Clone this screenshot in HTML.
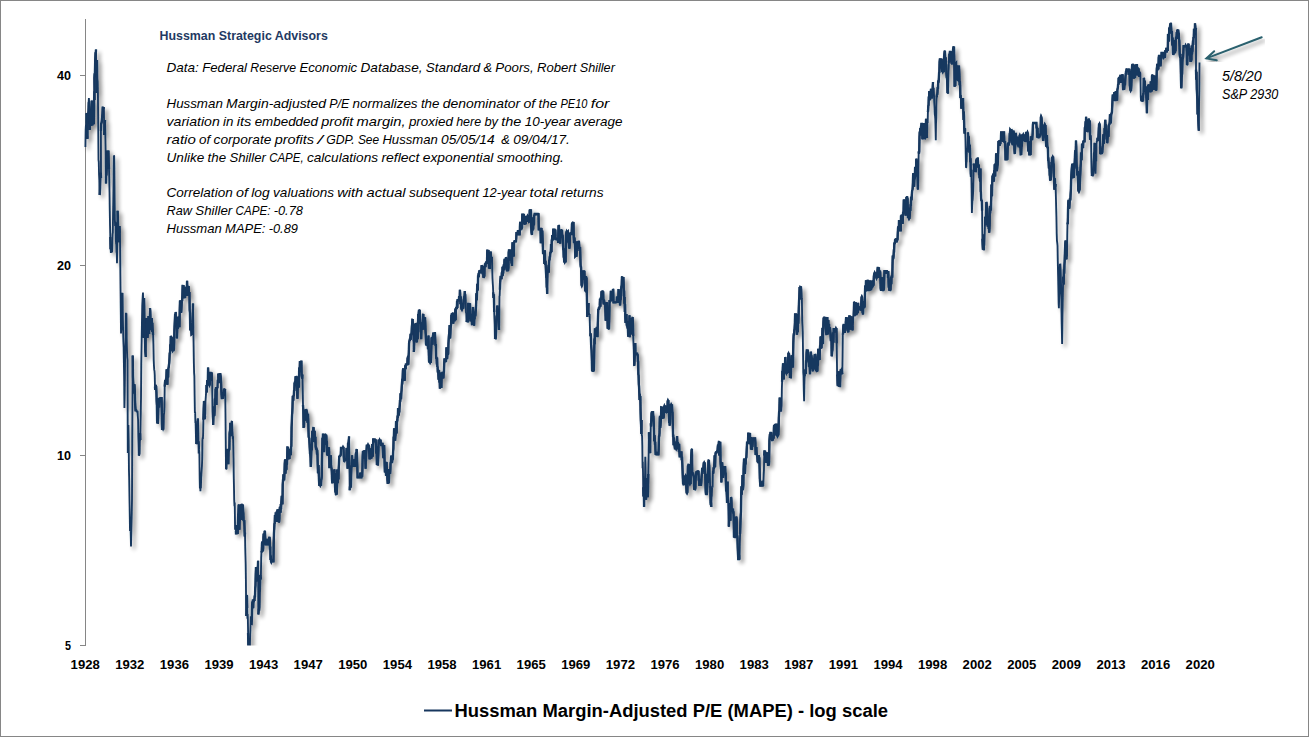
<!DOCTYPE html>
<html><head><meta charset="utf-8"><title>Hussman MAPE</title>
<style>
html,body{margin:0;padding:0;background:#fff;}
body{width:1309px;height:737px;overflow:hidden;font-family:"Liberation Sans",sans-serif;}
svg{display:block;}
svg text{font-family:"Liberation Sans",sans-serif;}
</style></head><body>
<svg width="1309" height="737" viewBox="0 0 1309 737">
<defs>
<filter id="sh" x="-5%" y="-5%" width="110%" height="110%">
<feGaussianBlur in="SourceAlpha" stdDeviation="2.1" result="b"/>
<feOffset in="b" dx="2.8" dy="2.8" result="o"/>
<feComponentTransfer in="o" result="s"><feFuncA type="linear" slope="0.44"/></feComponentTransfer>
<feMerge><feMergeNode in="s"/><feMergeNode in="SourceGraphic"/></feMerge>
</filter>
<clipPath id="plot"><rect x="80" y="10" width="1200" height="635.5"/></clipPath>
</defs>
<rect x="0" y="0" width="1309" height="737" fill="#ffffff"/>
<rect x="0.5" y="0.5" width="1308" height="736" fill="none" stroke="#868686" stroke-width="1"/>
<rect x="85" y="19" width="1" height="627" fill="#868686"/>
<g font-size="12" font-weight="bold" fill="#000"><text x="71" y="79.6" text-anchor="end" textLength="14.0" lengthAdjust="spacingAndGlyphs">40</text><rect x="80" y="75" width="6" height="1" fill="#868686"/><text x="71" y="269.6" text-anchor="end" textLength="14.0" lengthAdjust="spacingAndGlyphs">20</text><rect x="80" y="265" width="6" height="1" fill="#868686"/><text x="71" y="459.6" text-anchor="end" textLength="14.0" lengthAdjust="spacingAndGlyphs">10</text><rect x="80" y="455" width="6" height="1" fill="#868686"/><text x="71" y="649.6" text-anchor="end" textLength="6.0" lengthAdjust="spacingAndGlyphs">5</text><rect x="80" y="645" width="6" height="1" fill="#868686"/></g>
<g font-size="12" font-weight="bold" fill="#000"><text x="85.2" y="668.7" text-anchor="middle" textLength="29.2" lengthAdjust="spacingAndGlyphs">1928</text><text x="129.8" y="668.7" text-anchor="middle" textLength="29.2" lengthAdjust="spacingAndGlyphs">1932</text><text x="174.4" y="668.7" text-anchor="middle" textLength="29.2" lengthAdjust="spacingAndGlyphs">1936</text><text x="219.0" y="668.7" text-anchor="middle" textLength="29.2" lengthAdjust="spacingAndGlyphs">1939</text><text x="263.6" y="668.7" text-anchor="middle" textLength="29.2" lengthAdjust="spacingAndGlyphs">1943</text><text x="308.2" y="668.7" text-anchor="middle" textLength="29.2" lengthAdjust="spacingAndGlyphs">1947</text><text x="352.8" y="668.7" text-anchor="middle" textLength="29.2" lengthAdjust="spacingAndGlyphs">1950</text><text x="397.4" y="668.7" text-anchor="middle" textLength="29.2" lengthAdjust="spacingAndGlyphs">1954</text><text x="442.0" y="668.7" text-anchor="middle" textLength="29.2" lengthAdjust="spacingAndGlyphs">1958</text><text x="486.6" y="668.7" text-anchor="middle" textLength="29.2" lengthAdjust="spacingAndGlyphs">1961</text><text x="531.2" y="668.7" text-anchor="middle" textLength="29.2" lengthAdjust="spacingAndGlyphs">1965</text><text x="575.8" y="668.7" text-anchor="middle" textLength="29.2" lengthAdjust="spacingAndGlyphs">1969</text><text x="620.4" y="668.7" text-anchor="middle" textLength="29.2" lengthAdjust="spacingAndGlyphs">1972</text><text x="665.0" y="668.7" text-anchor="middle" textLength="29.2" lengthAdjust="spacingAndGlyphs">1976</text><text x="709.6" y="668.7" text-anchor="middle" textLength="29.2" lengthAdjust="spacingAndGlyphs">1980</text><text x="754.2" y="668.7" text-anchor="middle" textLength="29.2" lengthAdjust="spacingAndGlyphs">1983</text><text x="798.8" y="668.7" text-anchor="middle" textLength="29.2" lengthAdjust="spacingAndGlyphs">1987</text><text x="843.4" y="668.7" text-anchor="middle" textLength="29.2" lengthAdjust="spacingAndGlyphs">1991</text><text x="888.0" y="668.7" text-anchor="middle" textLength="29.2" lengthAdjust="spacingAndGlyphs">1994</text><text x="932.6" y="668.7" text-anchor="middle" textLength="29.2" lengthAdjust="spacingAndGlyphs">1998</text><text x="977.2" y="668.7" text-anchor="middle" textLength="29.2" lengthAdjust="spacingAndGlyphs">2002</text><text x="1021.8" y="668.7" text-anchor="middle" textLength="29.2" lengthAdjust="spacingAndGlyphs">2005</text><text x="1066.4" y="668.7" text-anchor="middle" textLength="29.2" lengthAdjust="spacingAndGlyphs">2009</text><text x="1111.0" y="668.7" text-anchor="middle" textLength="29.2" lengthAdjust="spacingAndGlyphs">2013</text><text x="1155.6" y="668.7" text-anchor="middle" textLength="29.2" lengthAdjust="spacingAndGlyphs">2016</text><text x="1200.2" y="668.7" text-anchor="middle" textLength="29.2" lengthAdjust="spacingAndGlyphs">2020</text></g>
<text x="159.5" y="39.9" font-size="12.4" font-weight="bold" fill="#1F3A63" textLength="168.3" lengthAdjust="spacingAndGlyphs">Hussman Strategic Advisors</text>
<g font-size="13.2" font-style="italic" fill="#000"><text x="166.5" y="71.9" textLength="32.4" lengthAdjust="spacingAndGlyphs">Data:</text><text x="202.2" y="71.9" textLength="44.8" lengthAdjust="spacingAndGlyphs">Federal</text><text x="250.3" y="71.9" textLength="45.8" lengthAdjust="spacingAndGlyphs">Reserve</text><text x="299.4" y="71.9" textLength="57.8" lengthAdjust="spacingAndGlyphs">Economic</text><text x="360.5" y="71.9" textLength="62.0" lengthAdjust="spacingAndGlyphs">Database,</text><text x="425.8" y="71.9" textLength="54.3" lengthAdjust="spacingAndGlyphs">Standard</text><text x="483.4" y="71.9" textLength="8.6" lengthAdjust="spacingAndGlyphs">&amp;</text><text x="495.3" y="71.9" textLength="38.4" lengthAdjust="spacingAndGlyphs">Poors,</text><text x="537.0" y="71.9" textLength="39.4" lengthAdjust="spacingAndGlyphs">Robert</text><text x="579.7" y="71.9" textLength="35.2" lengthAdjust="spacingAndGlyphs">Shiller</text><text x="166.5" y="107.9" textLength="56.3" lengthAdjust="spacingAndGlyphs">Hussman</text><text x="226.1" y="107.9" textLength="99.9" lengthAdjust="spacingAndGlyphs">Margin-adjusted</text><text x="329.3" y="107.9" textLength="20.0" lengthAdjust="spacingAndGlyphs">P/E</text><text x="352.6" y="107.9" textLength="65.0" lengthAdjust="spacingAndGlyphs">normalizes</text><text x="420.9" y="107.9" textLength="18.5" lengthAdjust="spacingAndGlyphs">the</text><text x="442.7" y="107.9" textLength="77.5" lengthAdjust="spacingAndGlyphs">denominator</text><text x="523.5" y="107.9" textLength="11.8" lengthAdjust="spacingAndGlyphs">of</text><text x="538.6" y="107.9" textLength="18.6" lengthAdjust="spacingAndGlyphs">the</text><text x="560.5" y="107.9" textLength="26.9" lengthAdjust="spacingAndGlyphs">PE10</text><text x="590.7" y="107.9" textLength="18.8" lengthAdjust="spacingAndGlyphs">for</text><text x="166.5" y="125.8" textLength="53.3" lengthAdjust="spacingAndGlyphs">variation</text><text x="223.1" y="125.8" textLength="10.4" lengthAdjust="spacingAndGlyphs">in</text><text x="236.8" y="125.8" textLength="14.6" lengthAdjust="spacingAndGlyphs">its</text><text x="254.7" y="125.8" textLength="63.2" lengthAdjust="spacingAndGlyphs">embedded</text><text x="321.2" y="125.8" textLength="32.1" lengthAdjust="spacingAndGlyphs">profit</text><text x="356.6" y="125.8" textLength="49.0" lengthAdjust="spacingAndGlyphs">margin,</text><text x="408.9" y="125.8" textLength="44.0" lengthAdjust="spacingAndGlyphs">proxied</text><text x="456.2" y="125.8" textLength="24.9" lengthAdjust="spacingAndGlyphs">here</text><text x="484.4" y="125.8" textLength="13.6" lengthAdjust="spacingAndGlyphs">by</text><text x="501.3" y="125.8" textLength="20.1" lengthAdjust="spacingAndGlyphs">the</text><text x="524.7" y="125.8" textLength="45.8" lengthAdjust="spacingAndGlyphs">10-year</text><text x="573.8" y="125.8" textLength="48.6" lengthAdjust="spacingAndGlyphs">average</text><text x="166.5" y="143.7" textLength="29.3" lengthAdjust="spacingAndGlyphs">ratio</text><text x="199.1" y="143.7" textLength="11.2" lengthAdjust="spacingAndGlyphs">of</text><text x="213.6" y="143.7" textLength="57.8" lengthAdjust="spacingAndGlyphs">corporate</text><text x="274.7" y="143.7" textLength="39.4" lengthAdjust="spacingAndGlyphs">profits</text><text x="317.4" y="143.7" textLength="5.5" lengthAdjust="spacingAndGlyphs">/</text><text x="326.2" y="143.7" textLength="28.4" lengthAdjust="spacingAndGlyphs">GDP.</text><text x="357.9" y="143.7" textLength="21.2" lengthAdjust="spacingAndGlyphs">See</text><text x="382.4" y="143.7" textLength="55.4" lengthAdjust="spacingAndGlyphs">Hussman</text><text x="441.1" y="143.7" textLength="53.6" lengthAdjust="spacingAndGlyphs">05/05/14</text><text x="501.3" y="143.7" textLength="8.6" lengthAdjust="spacingAndGlyphs">&amp;</text><text x="513.2" y="143.7" textLength="56.6" lengthAdjust="spacingAndGlyphs">09/04/17.</text><text x="166.5" y="161.6" textLength="37.8" lengthAdjust="spacingAndGlyphs">Unlike</text><text x="207.6" y="161.6" textLength="18.5" lengthAdjust="spacingAndGlyphs">the</text><text x="229.4" y="161.6" textLength="36.5" lengthAdjust="spacingAndGlyphs">Shiller</text><text x="269.2" y="161.6" textLength="34.4" lengthAdjust="spacingAndGlyphs">CAPE,</text><text x="306.9" y="161.6" textLength="71.2" lengthAdjust="spacingAndGlyphs">calculations</text><text x="381.4" y="161.6" textLength="38.1" lengthAdjust="spacingAndGlyphs">reflect</text><text x="422.8" y="161.6" textLength="70.6" lengthAdjust="spacingAndGlyphs">exponential</text><text x="496.7" y="161.6" textLength="67.2" lengthAdjust="spacingAndGlyphs">smoothing.</text><text x="166.5" y="197.3" textLength="66.2" lengthAdjust="spacingAndGlyphs">Correlation</text><text x="236.0" y="197.3" textLength="12.0" lengthAdjust="spacingAndGlyphs">of</text><text x="251.3" y="197.3" textLength="18.5" lengthAdjust="spacingAndGlyphs">log</text><text x="273.1" y="197.3" textLength="60.9" lengthAdjust="spacingAndGlyphs">valuations</text><text x="337.3" y="197.3" textLength="25.9" lengthAdjust="spacingAndGlyphs">with</text><text x="366.5" y="197.3" textLength="39.1" lengthAdjust="spacingAndGlyphs">actual</text><text x="408.9" y="197.3" textLength="70.2" lengthAdjust="spacingAndGlyphs">subsequent</text><text x="482.4" y="197.3" textLength="43.8" lengthAdjust="spacingAndGlyphs">12-year</text><text x="529.5" y="197.3" textLength="28.1" lengthAdjust="spacingAndGlyphs">total</text><text x="560.9" y="197.3" textLength="42.7" lengthAdjust="spacingAndGlyphs">returns</text><text x="166.5" y="215.2" textLength="25.5" lengthAdjust="spacingAndGlyphs">Raw</text><text x="195.3" y="215.2" textLength="37.0" lengthAdjust="spacingAndGlyphs">Shiller</text><text x="235.6" y="215.2" textLength="34.8" lengthAdjust="spacingAndGlyphs">CAPE:</text><text x="273.7" y="215.2" textLength="29.2" lengthAdjust="spacingAndGlyphs">-0.78</text><text x="166.5" y="233.1" textLength="55.3" lengthAdjust="spacingAndGlyphs">Hussman</text><text x="225.1" y="233.1" textLength="40.3" lengthAdjust="spacingAndGlyphs">MAPE:</text><text x="268.7" y="233.1" textLength="29.2" lengthAdjust="spacingAndGlyphs">-0.89</text></g>
<g clip-path="url(#plot)"><g filter="url(#sh)">
<path d="M85.40,147.0 L85.65,130.6 L85.90,125.4 L86.15,124.5 L86.40,113.0 L86.64,113.6 L86.88,115.5 L87.12,125.0 L87.36,138.9 L87.60,136.5 L87.86,116.4 L88.12,110.3 L88.38,102.6 L88.64,102.3 L88.90,98.1 L89.17,102.9 L89.43,106.5 L89.70,130.0 L89.95,121.7 L90.20,110.0 L90.45,113.7 L90.70,126.0 L90.95,120.6 L91.20,111.9 L91.45,105.1 L91.70,100.6 L91.92,110.4 L92.15,123.1 L92.38,125.4 L92.60,122.0 L92.80,122.4 L93.00,108.0 L93.27,116.0 L93.53,115.0 L93.80,124.2 L94.07,104.3 L94.33,91.3 L94.60,100.0 L94.40,78.0 L94.67,73.2 L94.93,74.6 L95.20,60.9 L95.47,54.4 L95.73,54.6 L96.00,49.5 L96.25,72.2 L96.50,93.0 L96.73,77.9 L96.97,73.8 L97.20,60.0 L97.43,79.0 L97.67,81.3 L97.90,92.0 L98.20,122.7 L98.50,160.0 L98.78,161.8 L99.05,174.9 L99.32,180.1 L99.60,195.0 L99.83,193.2 L100.07,188.0 L100.30,176.4 L100.53,175.6 L100.77,172.7 L101.00,178.0 L100.90,131.0 L101.17,123.8 L101.43,123.1 L101.70,122.0 L101.97,119.4 L102.23,116.3 L102.50,113.0 L102.73,107.7 L102.97,107.7 L103.20,107.7 L103.43,107.7 L103.67,107.7 L103.90,107.1 L104.20,135.0 L104.47,131.5 L104.73,126.0 L105.00,120.0 L105.30,132.9 L105.60,150.0 L105.80,174.1 L106.00,183.5 L106.24,170.2 L106.48,175.5 L106.72,168.7 L106.96,167.1 L107.20,164.7 L107.44,150.6 L107.68,156.9 L107.92,160.9 L108.16,153.7 L108.40,150.5 L108.70,163.3 L109.00,169.0 L109.26,178.8 L109.52,192.0 L109.78,210.4 L110.04,226.0 L110.30,237.0 L110.56,249.2 L110.81,246.5 L111.07,251.7 L111.33,251.7 L111.59,251.7 L111.84,251.7 L112.10,252.3 L112.34,242.1 L112.58,233.9 L112.82,232.8 L113.06,213.9 L113.30,202.0 L113.60,181.5 L113.90,155.4 L114.14,156.0 L114.38,170.4 L114.62,199.5 L114.86,219.5 L115.10,226.0 L115.34,222.2 L115.57,222.8 L115.81,239.4 L116.05,242.8 L116.29,242.7 L116.53,252.7 L116.76,251.2 L117.00,263.3 L117.30,236.3 L117.60,210.8 L117.84,218.3 L118.08,230.7 L118.32,237.7 L118.56,242.2 L118.80,231.8 L119.04,229.3 L119.28,227.4 L119.52,226.1 L119.76,232.6 L120.00,232.7 L120.25,262.3 L120.50,286.9 L120.75,308.6 L121.00,333.5 L121.27,328.8 L121.53,327.1 L121.80,316.1 L122.07,306.7 L122.33,293.6 L122.60,293.0 L122.86,317.5 L123.11,330.5 L123.37,341.5 L123.63,347.2 L123.89,362.7 L124.14,378.4 L124.40,408.0 L124.65,397.3 L124.90,379.5 L125.15,350.0 L125.40,347.4 L125.65,336.4 L125.90,312.7 L126.17,317.7 L126.43,313.3 L126.70,338.2 L126.97,349.8 L127.23,357.5 L127.50,360.0 L127.80,453.0 L128.10,432.0 L128.40,425.0 L128.68,439.9 L128.95,469.8 L129.22,480.6 L129.50,500.0 L129.75,514.1 L130.00,531.1 L130.25,528.4 L130.50,523.2 L130.75,534.9 L131.00,546.4 L131.25,534.1 L131.50,523.9 L131.75,513.7 L132.00,500.0 L132.23,444.1 L132.47,401.8 L132.70,355.5 L132.96,376.5 L133.21,382.4 L133.47,388.1 L133.73,387.8 L133.99,393.5 L134.24,384.4 L134.50,385.0 L134.76,390.0 L135.03,400.2 L135.29,406.2 L135.55,410.4 L135.81,410.4 L136.07,410.4 L136.34,410.4 L136.60,411.0 L136.84,411.6 L137.09,411.6 L137.33,411.6 L137.58,411.6 L137.82,416.2 L138.07,419.7 L138.31,436.6 L138.56,444.7 L138.80,455.6 L139.05,455.0 L139.30,453.6 L139.55,437.5 L139.80,440.4 L140.05,433.2 L140.30,440.0 L140.54,423.3 L140.78,411.3 L141.02,397.6 L141.26,364.0 L141.50,350.0 L141.75,334.8 L142.00,319.0 L142.25,305.5 L142.50,300.3 L142.75,296.0 L143.00,292.6 L143.30,311.6 L143.60,338.0 L143.83,312.4 L144.07,302.8 L144.30,298.0 L144.53,305.7 L144.77,320.4 L145.00,335.0 L145.27,350.9 L145.53,354.0 L145.80,357.0 L146.07,333.8 L146.33,328.2 L146.60,318.0 L146.82,321.4 L147.05,327.2 L147.28,332.3 L147.50,338.0 L147.75,335.3 L148.00,331.7 L148.25,321.7 L148.50,316.0 L148.73,328.3 L148.97,332.8 L149.20,334.0 L149.47,323.4 L149.73,314.7 L150.00,308.0 L150.25,310.7 L150.50,319.2 L150.75,328.1 L151.00,330.0 L151.27,327.1 L151.53,322.8 L151.80,318.0 L152.06,331.8 L152.32,322.8 L152.58,328.5 L152.84,331.8 L153.10,335.0 L153.40,343.9 L153.70,360.0 L153.96,365.7 L154.22,369.9 L154.48,370.8 L154.74,375.0 L155.00,386.6 L155.24,389.8 L155.48,387.8 L155.72,384.9 L155.96,387.2 L156.20,387.2 L156.44,393.0 L156.68,401.4 L156.92,405.8 L157.16,421.9 L157.40,423.3 L157.64,422.7 L157.88,422.7 L158.12,417.4 L158.36,404.5 L158.60,398.2 L158.84,400.4 L159.08,407.5 L159.32,398.2 L159.56,402.3 L159.80,397.6 L160.05,399.1 L160.31,399.6 L160.56,401.6 L160.82,398.2 L161.07,398.2 L161.32,398.2 L161.58,398.2 L161.83,412.7 L162.08,428.8 L162.34,428.8 L162.59,428.8 L162.85,428.8 L163.10,429.4 L163.37,428.8 L163.63,428.8 L163.90,414.9 L164.17,412.4 L164.43,407.1 L164.70,386.6 L164.95,382.7 L165.19,380.8 L165.44,380.7 L165.69,381.4 L165.93,378.9 L166.18,380.0 L166.43,375.7 L166.67,369.2 L166.92,379.6 L167.17,381.9 L167.41,384.8 L167.66,373.4 L167.91,372.0 L168.15,377.5 L168.40,368.3 L168.68,367.7 L168.95,364.7 L169.22,363.2 L169.50,358.0 L169.76,352.6 L170.02,354.1 L170.28,344.4 L170.54,348.4 L170.80,336.0 L171.06,336.6 L171.31,341.3 L171.57,337.2 L171.83,338.0 L172.09,347.8 L172.34,350.0 L172.60,350.6 L172.86,350.0 L173.12,350.0 L173.38,350.0 L173.63,350.0 L173.89,348.9 L174.15,342.7 L174.41,330.4 L174.67,324.4 L174.92,318.9 L175.18,313.7 L175.44,317.8 L175.70,312.0 L175.94,312.6 L176.18,325.5 L176.42,326.1 L176.66,331.2 L176.90,338.4 L177.16,332.5 L177.42,322.1 L177.68,316.9 L177.93,328.7 L178.19,321.0 L178.45,316.6 L178.71,321.0 L178.97,322.8 L179.22,324.7 L179.48,327.2 L179.74,310.0 L180.00,300.5 L180.24,301.1 L180.48,303.7 L180.72,312.1 L180.96,312.1 L181.20,312.7 L181.44,308.8 L181.68,303.1 L181.92,300.6 L182.16,301.1 L182.40,294.5 L182.64,285.9 L182.88,285.9 L183.12,285.9 L183.36,285.9 L183.60,285.3 L183.85,292.1 L184.10,297.4 L184.35,297.4 L184.60,297.4 L184.85,297.4 L185.10,298.0 L185.35,291.3 L185.60,294.8 L185.85,289.2 L186.10,286.8 L186.35,288.1 L186.60,296.0 L186.85,288.8 L187.10,280.7 L187.36,290.0 L187.62,285.9 L187.88,292.7 L188.14,292.3 L188.40,295.2 L188.66,286.1 L188.92,294.7 L189.18,294.8 L189.44,292.1 L189.70,310.3 L189.96,313.0 L190.22,329.2 L190.48,329.2 L190.74,329.2 L191.00,329.8 L191.25,329.2 L191.50,334.3 L191.75,334.1 L192.00,334.5 L192.25,324.8 L192.50,322.4 L192.75,315.6 L193.00,303.6 L193.30,325.0 L193.60,345.0 L193.86,362.6 L194.12,373.2 L194.38,376.2 L194.64,396.7 L194.90,413.0 L195.14,411.8 L195.38,422.0 L195.62,422.0 L195.86,432.4 L196.10,444.0 L196.36,443.4 L196.61,443.4 L196.87,442.9 L197.13,432.8 L197.39,428.0 L197.64,422.3 L197.90,418.5 L198.15,426.2 L198.40,436.3 L198.65,453.5 L198.90,441.3 L199.15,449.9 L199.40,454.3 L199.65,476.1 L199.90,488.4 L200.15,482.6 L200.40,491.2 L200.66,484.4 L200.91,488.2 L201.17,477.7 L201.43,473.9 L201.69,469.8 L201.94,466.0 L202.20,458.8 L202.44,440.2 L202.68,437.7 L202.92,438.9 L203.16,432.7 L203.40,419.8 L203.70,409.1 L204.00,401.0 L204.25,403.3 L204.50,406.8 L204.75,419.2 L205.00,416.0 L205.25,413.4 L205.50,401.4 L205.75,397.8 L206.00,393.9 L206.25,388.5 L206.50,385.0 L206.77,392.5 L207.03,386.0 L207.30,380.0 L207.57,384.4 L207.83,384.4 L208.10,367.5 L208.33,376.0 L208.57,375.0 L208.80,384.4 L209.03,384.4 L209.27,384.4 L209.50,385.0 L209.74,384.4 L209.99,377.2 L210.23,376.1 L210.48,373.0 L210.72,373.0 L210.97,373.7 L211.21,379.6 L211.46,379.4 L211.70,372.4 L211.95,374.1 L212.20,385.1 L212.45,411.1 L212.70,417.0 L212.95,420.7 L213.20,425.0 L213.44,416.5 L213.68,408.9 L213.92,406.6 L214.16,415.9 L214.40,415.0 L214.64,410.6 L214.88,398.5 L215.12,399.2 L215.36,398.2 L215.60,388.8 L215.82,389.4 L216.05,387.2 L216.28,397.5 L216.50,405.0 L216.77,399.8 L217.03,390.8 L217.30,386.4 L217.57,379.7 L217.83,388.2 L218.10,373.6 L218.35,374.2 L218.60,378.0 L218.85,375.2 L219.10,382.1 L219.35,382.1 L219.60,382.1 L219.85,379.6 L220.10,374.2 L220.35,374.2 L220.60,375.8 L220.85,379.4 L221.10,382.7 L221.34,390.2 L221.57,395.0 L221.81,398.0 L222.05,398.0 L222.29,398.0 L222.53,398.0 L222.76,398.0 L223.00,398.6 L223.24,396.4 L223.49,392.0 L223.73,395.6 L223.98,390.0 L224.22,389.4 L224.47,389.4 L224.71,389.4 L224.96,389.4 L225.20,388.8 L225.47,412.8 L225.73,438.8 L226.00,469.2 L226.26,468.6 L226.52,457.1 L226.78,461.5 L227.03,456.3 L227.29,448.9 L227.55,460.5 L227.81,454.1 L228.07,462.5 L228.32,464.2 L228.58,451.8 L228.84,450.6 L229.10,450.0 L229.35,449.4 L229.60,433.4 L229.85,431.3 L230.10,430.3 L230.35,422.9 L230.60,436.0 L230.85,434.6 L231.10,432.1 L231.35,430.3 L231.60,425.2 L231.85,421.6 L232.10,421.0 L232.34,429.9 L232.58,433.1 L232.82,439.2 L233.06,436.2 L233.30,446.6 L233.53,458.1 L233.75,476.4 L233.97,486.8 L234.20,500.0 L234.47,506.2 L234.75,502.5 L235.03,524.5 L235.30,529.0 L235.54,529.3 L235.78,525.0 L236.02,533.4 L236.26,533.4 L236.50,533.4 L236.74,533.4 L236.98,533.4 L237.22,533.4 L237.46,533.4 L237.70,534.0 L237.95,523.1 L238.19,515.1 L238.44,512.6 L238.69,505.5 L238.93,504.6 L239.18,520.0 L239.43,529.8 L239.67,520.0 L239.92,519.8 L240.17,517.8 L240.41,514.3 L240.66,519.0 L240.91,514.1 L241.15,509.2 L241.40,504.0 L241.64,504.6 L241.88,513.8 L242.12,519.9 L242.36,511.4 L242.60,509.1 L242.84,504.6 L243.08,510.8 L243.32,513.2 L243.56,520.2 L243.80,520.5 L244.04,521.1 L244.28,521.1 L244.52,527.7 L244.76,536.5 L245.00,532.7 L245.22,546.7 L245.45,555.4 L245.68,564.1 L245.90,580.0 L246.10,602.4 L246.30,616.0 L246.53,608.4 L246.75,595.4 L246.97,595.8 L247.20,608.0 L247.42,618.7 L247.65,614.0 L247.88,619.0 L248.10,633.0 L248.36,645.1 L248.61,646.4 L248.87,646.4 L249.13,646.4 L249.39,646.4 L249.64,646.4 L249.90,647.0 L250.14,635.2 L250.38,629.4 L250.62,620.3 L250.86,616.3 L251.10,620.0 L251.36,622.5 L251.62,622.8 L251.88,618.4 L252.14,605.1 L252.40,601.6 L252.66,605.8 L252.91,599.6 L253.17,608.3 L253.43,601.0 L253.69,601.0 L253.94,601.0 L254.20,599.0 L254.46,601.0 L254.71,595.6 L254.97,597.1 L255.23,588.3 L255.49,585.3 L255.74,574.8 L256.00,567.0 L256.26,570.7 L256.52,581.5 L256.79,572.8 L257.05,570.2 L257.31,574.0 L257.58,566.8 L257.84,569.1 L258.10,560.8 L258.30,614.5 L258.56,612.3 L258.82,608.9 L259.08,610.9 L259.34,607.1 L259.60,592.3 L259.86,590.5 L260.12,576.3 L260.38,575.1 L260.64,579.3 L260.90,577.0 L261.20,557.9 L261.50,551.0 L261.74,552.4 L261.99,543.8 L262.23,541.6 L262.47,551.7 L262.71,549.7 L262.96,550.8 L263.20,548.6 L263.44,537.0 L263.69,533.6 L263.93,536.3 L264.17,537.9 L264.41,536.9 L264.66,531.5 L264.90,530.9 L265.16,535.7 L265.42,542.6 L265.69,544.4 L265.95,544.4 L266.21,543.6 L266.48,544.4 L266.74,544.4 L267.00,545.0 L267.25,543.5 L267.50,538.7 L267.75,542.7 L268.00,544.4 L268.25,544.4 L268.50,542.7 L268.75,543.2 L269.00,541.3 L269.25,537.6 L269.50,537.0 L269.76,539.2 L270.01,549.8 L270.27,546.4 L270.53,559.9 L270.79,555.6 L271.04,561.4 L271.30,562.0 L271.54,561.4 L271.78,561.4 L272.02,561.4 L272.26,561.4 L272.50,561.4 L272.74,561.4 L272.98,559.7 L273.22,561.4 L273.46,561.4 L273.70,543.7 L273.95,533.3 L274.20,529.0 L274.45,523.7 L274.70,523.4 L274.95,515.0 L275.20,521.8 L275.45,520.0 L275.70,514.8 L275.95,515.1 L276.20,514.4 L276.44,513.8 L276.68,511.5 L276.92,519.0 L277.16,521.8 L277.40,509.5 L277.65,510.1 L277.90,510.1 L278.15,510.4 L278.40,513.8 L278.65,519.9 L278.90,522.4 L279.14,521.8 L279.38,518.7 L279.61,510.6 L279.85,507.5 L280.09,507.4 L280.32,507.6 L280.56,512.7 L280.80,504.0 L281.04,509.3 L281.28,503.4 L281.52,499.6 L281.77,495.8 L282.01,503.4 L282.25,503.4 L282.49,503.4 L282.73,484.5 L282.98,480.4 L283.22,480.4 L283.46,474.3 L283.70,479.8 L283.96,479.2 L284.21,479.2 L284.47,474.3 L284.73,463.8 L284.99,460.2 L285.24,459.6 L285.50,473.7 L285.74,469.4 L285.98,463.6 L286.22,470.0 L286.46,469.1 L286.70,459.0 L286.94,464.9 L287.18,459.7 L287.42,447.4 L287.66,447.4 L287.90,446.8 L288.17,451.3 L288.43,458.4 L288.70,458.4 L288.97,458.4 L289.23,458.4 L289.50,459.0 L289.76,449.8 L290.02,450.2 L290.29,449.0 L290.55,450.4 L290.81,455.2 L291.08,447.0 L291.34,446.2 L291.60,427.2 L291.80,422.6 L292.00,416.0 L292.26,412.6 L292.51,406.8 L292.77,397.0 L293.03,397.0 L293.29,400.7 L293.54,395.4 L293.80,396.4 L294.06,390.4 L294.31,390.9 L294.57,382.5 L294.83,383.8 L295.09,381.0 L295.34,381.9 L295.60,376.3 L295.84,376.9 L296.08,376.9 L296.31,376.9 L296.55,385.7 L296.79,383.9 L297.02,389.9 L297.26,395.6 L297.50,398.8 L297.74,385.6 L297.98,385.6 L298.22,376.5 L298.46,382.4 L298.70,385.7 L298.94,387.7 L299.18,367.6 L299.42,369.7 L299.66,372.2 L299.90,361.0 L300.15,368.0 L300.40,368.8 L300.65,367.8 L300.90,363.1 L301.15,361.6 L301.40,361.6 L301.65,375.3 L301.90,377.0 L302.15,378.7 L302.40,374.4 L302.70,389.5 L303.00,405.0 L303.30,410.3 L303.60,428.0 L303.84,423.7 L304.08,427.3 L304.32,416.7 L304.56,420.8 L304.80,418.1 L305.04,420.3 L305.28,417.2 L305.52,409.6 L305.76,414.5 L306.00,409.0 L306.25,410.9 L306.49,409.6 L306.74,412.1 L306.98,412.3 L307.23,417.2 L307.47,422.6 L307.72,420.7 L307.96,413.8 L308.21,419.8 L308.45,429.2 L308.70,437.0 L308.96,437.6 L309.23,438.3 L309.49,443.5 L309.75,448.1 L310.01,453.6 L310.27,453.9 L310.54,458.0 L310.80,467.0 L311.05,462.5 L311.31,451.5 L311.56,449.8 L311.82,450.2 L312.07,436.4 L312.33,430.7 L312.58,433.9 L312.84,431.9 L313.09,431.6 L313.35,427.8 L313.60,427.2 L313.86,441.0 L314.12,441.1 L314.38,437.4 L314.63,430.8 L314.89,438.6 L315.15,440.8 L315.41,436.7 L315.67,446.7 L315.93,448.6 L316.18,448.6 L316.44,448.4 L316.70,449.2 L316.96,454.5 L317.21,449.8 L317.47,454.2 L317.73,465.1 L317.99,473.2 L318.24,469.1 L318.50,465.0 L318.76,472.5 L319.01,480.4 L319.27,484.7 L319.53,484.7 L319.79,484.7 L320.04,484.7 L320.30,485.3 L320.54,484.7 L320.77,484.7 L321.01,484.7 L321.25,479.6 L321.49,479.1 L321.73,476.5 L321.96,461.8 L322.20,451.7 L322.44,437.8 L322.68,445.7 L322.92,434.6 L323.16,434.6 L323.40,441.5 L323.64,448.5 L323.88,451.1 L324.12,451.1 L324.36,442.6 L324.60,434.0 L324.85,434.6 L325.10,434.6 L325.35,444.4 L325.60,434.6 L325.85,436.0 L326.10,434.6 L326.35,436.1 L326.60,445.0 L326.85,441.1 L327.10,455.3 L327.36,453.4 L327.61,454.7 L327.87,454.7 L328.13,453.7 L328.39,448.7 L328.64,448.0 L328.90,447.4 L329.14,451.1 L329.38,467.0 L329.62,467.0 L329.86,467.0 L330.10,467.0 L330.34,466.6 L330.58,459.3 L330.82,455.2 L331.06,464.4 L331.30,467.6 L331.54,468.2 L331.77,470.8 L332.01,479.3 L332.25,482.2 L332.49,482.2 L332.73,482.2 L332.96,482.2 L333.20,482.8 L333.44,481.8 L333.68,475.7 L333.92,472.8 L334.16,471.2 L334.40,469.4 L334.66,472.9 L334.91,474.8 L335.17,489.3 L335.43,492.3 L335.69,490.6 L335.94,494.4 L336.20,495.0 L336.45,490.8 L336.70,494.4 L336.95,486.5 L337.20,469.4 L337.45,472.6 L337.70,483.2 L337.95,474.9 L338.20,472.0 L338.45,479.4 L338.70,468.8 L338.96,463.9 L339.21,456.8 L339.47,456.7 L339.73,455.9 L339.99,455.9 L340.24,455.9 L340.50,455.3 L340.75,454.9 L341.00,448.0 L341.25,448.0 L341.50,448.0 L341.75,448.0 L342.00,448.0 L342.25,448.0 L342.50,448.0 L342.75,448.0 L343.00,447.4 L343.26,448.0 L343.51,448.0 L343.77,456.7 L344.03,459.6 L344.29,459.3 L344.54,459.6 L344.80,460.2 L345.06,459.6 L345.31,459.6 L345.57,459.6 L345.83,459.6 L346.09,459.6 L346.34,459.6 L346.60,448.0 L346.84,448.6 L347.08,449.1 L347.32,454.2 L347.56,468.7 L347.80,458.0 L348.06,442.8 L348.32,443.9 L348.58,442.1 L348.84,439.3 L349.10,436.4 L349.40,463.4 L349.70,490.2 L349.94,486.4 L350.18,488.3 L350.42,483.1 L350.66,481.4 L350.90,487.5 L351.14,475.6 L351.38,466.3 L351.62,466.3 L351.86,460.4 L352.10,455.3 L352.34,465.7 L352.58,465.7 L352.81,463.5 L353.05,465.7 L353.29,465.7 L353.52,465.7 L353.76,465.7 L354.00,466.3 L354.25,459.4 L354.51,465.7 L354.76,465.7 L355.02,465.7 L355.27,465.7 L355.53,461.1 L355.78,454.4 L356.04,452.7 L356.29,465.7 L356.55,449.8 L356.80,449.2 L357.06,460.3 L357.31,467.2 L357.57,477.4 L357.82,477.4 L358.08,477.4 L358.34,477.4 L358.59,477.4 L358.85,477.4 L359.11,477.4 L359.36,477.4 L359.62,477.4 L359.88,477.4 L360.13,473.7 L360.39,472.7 L360.64,475.3 L360.90,478.0 L361.15,477.4 L361.41,477.4 L361.66,473.2 L361.92,473.7 L362.17,476.6 L362.43,468.6 L362.68,456.3 L362.94,451.1 L363.19,453.1 L363.45,458.4 L363.70,450.5 L363.94,451.1 L364.18,451.1 L364.41,455.6 L364.65,451.1 L364.89,451.1 L365.12,451.1 L365.36,461.7 L365.60,468.8 L365.84,457.9 L366.08,458.2 L366.32,453.2 L366.56,449.9 L366.80,445.6 L367.04,445.6 L367.28,445.6 L367.52,445.6 L367.76,445.6 L368.00,445.0 L368.25,445.6 L368.50,445.6 L368.75,445.6 L369.00,446.7 L369.25,452.5 L369.50,458.4 L369.75,458.4 L370.00,458.4 L370.25,456.3 L370.50,459.0 L370.75,448.4 L370.99,458.4 L371.24,457.7 L371.49,458.4 L371.74,451.2 L371.98,449.2 L372.23,444.1 L372.48,453.5 L372.72,456.8 L372.97,450.0 L373.22,439.4 L373.46,439.4 L373.71,439.4 L373.96,439.4 L374.21,439.4 L374.45,439.4 L374.70,438.8 L374.94,439.7 L375.19,440.7 L375.43,442.4 L375.68,439.4 L375.92,445.6 L376.17,453.4 L376.41,446.3 L376.66,452.0 L376.90,465.1 L377.15,464.5 L377.39,464.5 L377.64,464.5 L377.88,464.5 L378.13,459.0 L378.37,451.5 L378.62,440.7 L378.86,440.7 L379.11,440.7 L379.35,440.7 L379.60,440.1 L379.86,440.7 L380.12,440.7 L380.38,440.7 L380.63,440.7 L380.89,443.7 L381.15,445.0 L381.41,445.0 L381.67,445.0 L381.93,445.0 L382.18,445.0 L382.44,442.9 L382.70,445.6 L382.94,450.4 L383.19,456.4 L383.43,458.0 L383.68,451.9 L383.92,446.2 L384.17,446.2 L384.41,454.5 L384.66,465.6 L384.90,472.5 L385.14,470.1 L385.39,469.9 L385.63,470.7 L385.87,471.9 L386.11,475.9 L386.36,462.6 L386.60,462.0 L386.87,469.5 L387.13,471.0 L387.40,479.4 L387.67,482.9 L387.93,482.9 L388.20,483.5 L388.44,482.3 L388.68,482.9 L388.92,482.0 L389.16,468.9 L389.40,470.2 L389.64,473.3 L389.88,472.6 L390.12,473.7 L390.36,469.2 L390.60,462.7 L390.85,462.1 L391.10,457.5 L391.35,455.6 L391.60,462.1 L391.85,462.1 L392.10,462.1 L392.35,460.2 L392.60,457.7 L392.85,459.8 L393.10,451.7 L393.36,448.6 L393.61,437.6 L393.87,437.6 L394.13,428.2 L394.39,431.5 L394.64,439.6 L394.90,437.0 L395.14,440.8 L395.38,436.4 L395.62,435.0 L395.86,430.0 L396.10,421.0 L396.35,428.6 L396.60,433.5 L396.85,425.1 L397.10,420.4 L397.35,420.4 L397.60,415.6 L397.85,418.3 L398.10,408.0 L398.35,415.0 L398.60,415.0 L398.83,414.4 L399.07,411.2 L399.30,412.4 L399.53,407.9 L399.77,405.1 L400.00,400.0 L400.27,401.8 L400.53,393.2 L400.80,394.4 L401.07,399.1 L401.33,392.8 L401.60,390.0 L401.86,384.9 L402.11,381.5 L402.37,381.8 L402.63,378.0 L402.89,370.3 L403.14,369.1 L403.40,368.5 L403.66,372.5 L403.92,379.2 L404.18,368.5 L404.44,380.1 L404.70,380.7 L404.94,372.2 L405.18,366.4 L405.42,366.4 L405.66,369.3 L405.90,363.6 L406.14,364.2 L406.38,364.2 L406.62,364.2 L406.86,364.2 L407.10,364.2 L407.34,364.2 L407.58,357.5 L407.82,363.0 L408.06,355.8 L408.30,364.8 L408.56,357.5 L408.82,352.2 L409.08,343.2 L409.34,341.4 L409.60,340.3 L409.85,340.8 L410.11,338.7 L410.36,337.2 L410.62,333.8 L410.87,339.7 L411.12,335.8 L411.38,334.3 L411.63,332.2 L411.88,326.4 L412.14,324.3 L412.39,319.6 L412.65,319.6 L412.90,319.0 L413.12,323.4 L413.35,340.8 L413.57,341.6 L413.80,352.0 L414.04,349.5 L414.27,339.9 L414.51,332.4 L414.75,332.8 L414.99,327.4 L415.23,323.8 L415.46,327.5 L415.70,323.2 L415.94,323.8 L416.18,323.8 L416.42,335.3 L416.66,341.6 L416.90,342.2 L417.16,327.8 L417.42,329.4 L417.69,339.2 L417.95,329.8 L418.21,314.1 L418.48,316.9 L418.74,312.5 L419.00,309.8 L419.24,310.4 L419.49,310.4 L419.73,310.7 L419.98,319.3 L420.22,323.9 L420.47,322.2 L420.71,331.6 L420.96,332.9 L421.20,339.1 L421.46,327.3 L421.73,326.5 L421.99,326.3 L422.25,329.9 L422.51,324.8 L422.77,322.5 L423.04,314.6 L423.30,314.0 L423.54,320.6 L423.79,329.4 L424.03,328.0 L424.28,320.7 L424.52,321.5 L424.77,321.3 L425.01,317.3 L425.26,322.8 L425.50,330.6 L425.76,334.8 L426.01,344.0 L426.27,345.2 L426.53,343.0 L426.79,340.5 L427.04,339.5 L427.30,345.8 L427.54,345.2 L427.78,345.2 L428.02,349.2 L428.26,339.9 L428.50,335.5 L428.77,352.0 L429.03,361.2 L429.30,361.7 L429.57,361.7 L429.83,361.7 L430.10,362.3 L430.35,361.7 L430.59,361.7 L430.84,361.7 L431.08,356.9 L431.33,346.7 L431.57,337.5 L431.82,338.2 L432.06,337.3 L432.31,342.7 L432.55,344.6 L432.80,336.7 L433.06,335.3 L433.32,332.6 L433.59,333.7 L433.85,336.1 L434.11,332.6 L434.38,334.7 L434.64,335.6 L434.90,332.0 L435.14,336.9 L435.39,344.7 L435.63,345.7 L435.88,344.1 L436.12,356.0 L436.37,359.2 L436.61,358.2 L436.86,364.5 L437.10,357.5 L437.34,366.9 L437.58,366.5 L437.82,372.5 L438.06,369.3 L438.30,373.3 L438.57,379.6 L438.83,378.5 L439.10,370.3 L439.37,382.4 L439.63,378.2 L439.90,388.6 L440.15,383.4 L440.39,372.6 L440.64,382.8 L440.88,378.2 L441.13,381.8 L441.37,388.0 L441.62,377.8 L441.86,376.7 L442.11,372.6 L442.35,373.7 L442.60,372.0 L442.90,372.6 L443.20,378.2 L443.45,377.6 L443.70,372.6 L443.95,372.0 L444.20,364.0 L444.45,359.3 L444.70,359.3 L444.95,359.3 L445.20,359.3 L445.45,360.1 L445.70,361.5 L445.95,362.0 L446.20,358.7 L446.45,347.4 L446.70,351.5 L446.95,358.1 L447.20,358.1 L447.45,353.4 L447.70,349.9 L447.95,354.9 L448.20,353.6 L448.45,343.5 L448.70,339.1 L448.94,334.9 L449.18,334.5 L449.42,329.4 L449.66,325.0 L449.90,335.6 L450.14,338.5 L450.38,333.8 L450.62,328.1 L450.86,326.0 L451.10,324.4 L451.34,314.9 L451.58,321.0 L451.81,313.4 L452.05,314.7 L452.29,319.4 L452.52,316.9 L452.76,313.4 L453.00,312.8 L453.27,323.8 L453.53,319.4 L453.80,320.8 L454.07,320.2 L454.33,320.2 L454.60,320.2 L454.87,317.1 L455.13,313.1 L455.40,308.6 L455.64,320.2 L455.89,309.9 L456.13,308.0 L456.37,308.0 L456.61,308.0 L456.86,308.0 L457.10,300.8 L457.35,308.0 L457.61,300.2 L457.86,300.2 L458.12,300.2 L458.37,300.2 L458.63,300.2 L458.88,300.2 L459.14,296.2 L459.39,299.7 L459.65,300.2 L459.90,289.8 L460.16,292.9 L460.42,304.2 L460.69,300.0 L460.95,296.5 L461.21,307.9 L461.48,308.8 L461.74,308.8 L462.00,309.4 L462.25,308.8 L462.51,303.8 L462.76,303.8 L463.02,305.2 L463.27,308.6 L463.53,304.9 L463.78,299.8 L464.04,298.5 L464.29,296.4 L464.55,296.1 L464.80,291.0 L465.04,293.9 L465.29,294.3 L465.53,294.8 L465.77,300.3 L466.01,312.7 L466.26,313.5 L466.50,322.0 L466.75,321.4 L467.00,321.4 L467.25,321.4 L467.50,321.4 L467.75,321.4 L468.00,321.4 L468.25,303.8 L468.50,303.8 L468.75,305.6 L469.00,318.0 L469.25,309.7 L469.50,309.4 L469.75,310.8 L470.00,303.2 L470.26,316.0 L470.52,320.2 L470.78,320.2 L471.04,319.1 L471.30,320.8 L471.54,320.2 L471.79,320.2 L472.03,325.1 L472.27,313.9 L472.51,316.3 L472.76,313.5 L473.00,307.0 L473.27,313.7 L473.55,316.9 L473.83,321.4 L474.10,325.7 L474.35,314.2 L474.60,319.1 L474.85,311.9 L475.10,315.6 L475.35,316.3 L475.60,312.5 L475.85,309.4 L476.10,305.0 L476.34,294.8 L476.58,294.9 L476.82,300.2 L477.06,291.5 L477.30,283.7 L477.56,288.0 L477.81,290.4 L478.07,276.7 L478.33,276.7 L478.59,273.3 L478.84,276.9 L479.10,271.5 L479.35,272.5 L479.60,270.0 L479.85,270.9 L480.10,270.9 L480.35,270.9 L480.60,270.9 L480.85,270.9 L481.10,270.9 L481.35,273.4 L481.60,265.3 L481.86,265.9 L482.11,267.2 L482.37,265.9 L482.63,269.2 L482.89,274.8 L483.14,271.9 L483.40,277.6 L483.64,277.0 L483.88,277.0 L484.12,276.3 L484.36,276.0 L484.60,267.3 L484.84,265.5 L485.08,263.5 L485.32,264.7 L485.56,267.2 L485.80,262.9 L486.05,262.3 L486.29,262.3 L486.54,262.3 L486.78,262.1 L487.03,262.3 L487.27,250.6 L487.52,250.6 L487.76,250.6 L488.01,250.6 L488.25,250.6 L488.50,250.0 L488.73,264.4 L488.97,268.4 L489.20,257.9 L489.43,263.9 L489.67,263.6 L489.90,269.0 L490.16,264.3 L490.42,256.5 L490.69,251.5 L490.95,258.4 L491.21,260.7 L491.48,257.4 L491.74,257.4 L492.00,256.8 L492.24,269.6 L492.48,278.2 L492.72,282.6 L492.96,286.3 L493.20,292.2 L493.45,297.9 L493.70,296.6 L493.95,296.4 L494.20,312.0 L494.43,319.0 L494.67,324.6 L494.90,339.0 L495.15,338.4 L495.40,338.4 L495.65,338.4 L495.90,335.7 L496.15,328.9 L496.40,319.6 L496.62,315.6 L496.85,318.7 L497.07,311.1 L497.30,305.5 L497.54,310.4 L497.79,316.9 L498.03,318.2 L498.27,319.4 L498.51,318.2 L498.76,319.7 L499.00,330.0 L499.23,323.1 L499.45,296.3 L499.67,295.5 L499.90,289.8 L500.14,282.6 L500.38,279.6 L500.62,276.9 L500.86,276.9 L501.10,276.9 L501.34,276.9 L501.58,279.3 L501.82,273.0 L502.06,272.1 L502.30,276.3 L502.53,266.7 L502.77,275.7 L503.00,271.9 L503.23,273.4 L503.47,266.5 L503.70,265.9 L503.94,264.2 L504.19,270.2 L504.43,260.5 L504.68,258.9 L504.92,265.3 L505.17,260.0 L505.41,260.9 L505.66,262.4 L505.90,257.3 L506.15,257.9 L506.40,261.9 L506.65,268.2 L506.90,270.2 L507.15,270.2 L507.40,261.0 L507.65,260.0 L507.90,270.8 L508.16,270.2 L508.42,267.6 L508.68,252.6 L508.94,250.3 L509.20,250.3 L509.46,250.3 L509.72,250.3 L509.98,250.3 L510.24,250.3 L510.50,249.7 L510.75,260.6 L511.00,252.8 L511.25,258.2 L511.50,263.4 L511.75,255.1 L512.00,266.0 L512.26,249.7 L512.51,242.4 L512.77,247.9 L513.02,251.9 L513.28,249.4 L513.53,253.7 L513.79,256.6 L514.04,243.6 L514.30,241.8 L514.54,241.2 L514.79,241.2 L515.03,241.2 L515.28,241.2 L515.52,241.2 L515.77,241.2 L516.01,241.2 L516.26,238.3 L516.50,232.0 L516.75,233.3 L517.00,234.4 L517.25,233.3 L517.50,232.6 L517.75,232.6 L518.00,230.1 L518.25,234.4 L518.50,235.0 L518.74,230.1 L518.99,231.6 L519.23,234.4 L519.47,234.4 L519.71,234.4 L519.96,226.6 L520.20,221.9 L520.47,228.2 L520.73,227.4 L521.00,227.4 L521.27,227.4 L521.53,227.4 L521.80,228.0 L522.05,227.4 L522.30,214.6 L522.55,214.6 L522.80,214.6 L523.05,214.6 L523.30,214.6 L523.55,218.4 L523.80,214.0 L524.04,223.7 L524.27,223.1 L524.51,223.7 L524.75,223.7 L524.99,223.7 L525.23,223.7 L525.46,223.7 L525.70,224.3 L525.96,217.0 L526.21,217.0 L526.47,219.8 L526.73,217.0 L526.99,221.9 L527.24,217.0 L527.50,216.4 L527.74,217.0 L527.98,220.4 L528.22,220.4 L528.46,220.4 L528.70,221.0 L528.96,220.4 L529.22,222.5 L529.48,216.9 L529.74,210.3 L530.00,209.7 L530.24,220.3 L530.48,212.7 L530.72,210.3 L530.96,210.3 L531.20,226.8 L531.47,232.2 L531.73,234.1 L532.00,234.7 L532.24,224.7 L532.49,230.7 L532.73,225.5 L532.98,217.8 L533.22,229.5 L533.47,217.2 L533.71,225.0 L533.96,224.4 L534.20,215.8 L534.44,215.2 L534.68,213.9 L534.91,213.9 L535.15,213.9 L535.39,213.9 L535.62,213.9 L535.86,213.9 L536.10,213.3 L536.34,215.2 L536.58,213.9 L536.82,213.9 L537.06,213.9 L537.30,213.9 L537.54,213.9 L537.78,213.9 L538.02,213.9 L538.26,213.9 L538.50,214.0 L538.76,229.4 L539.01,229.4 L539.27,229.4 L539.53,229.4 L539.79,229.4 L540.04,229.4 L540.30,230.0 L540.54,229.4 L540.78,243.3 L541.02,236.0 L541.26,228.6 L541.50,228.0 L541.76,241.9 L542.02,241.5 L542.28,230.6 L542.54,237.4 L542.80,243.9 L543.06,253.1 L543.31,253.1 L543.57,253.1 L543.83,253.1 L544.09,253.1 L544.34,264.0 L544.60,253.7 L544.84,250.4 L545.08,258.4 L545.31,265.0 L545.55,260.9 L545.79,267.4 L546.02,272.4 L546.26,277.4 L546.50,278.1 L546.73,287.0 L546.97,287.8 L547.20,294.0 L547.45,289.3 L547.70,278.4 L547.95,270.7 L548.20,266.3 L548.46,266.5 L548.73,272.6 L548.99,264.0 L549.25,259.8 L549.51,260.4 L549.77,256.4 L550.04,257.4 L550.30,252.7 L550.54,252.1 L550.79,252.1 L551.03,244.1 L551.28,247.0 L551.52,252.1 L551.77,240.6 L552.01,240.6 L552.26,235.1 L552.50,240.0 L552.76,239.4 L553.01,239.4 L553.27,229.6 L553.53,229.6 L553.79,232.3 L554.04,232.0 L554.30,229.0 L554.55,229.6 L554.80,239.4 L555.05,236.9 L555.30,229.6 L555.55,236.4 L555.80,240.0 L556.04,239.4 L556.28,239.4 L556.52,239.4 L556.77,239.4 L557.01,239.4 L557.25,239.4 L557.49,239.4 L557.73,239.4 L557.98,239.4 L558.22,243.0 L558.46,226.8 L558.70,225.2 L558.95,225.8 L559.20,232.4 L559.45,236.2 L559.70,234.9 L559.95,234.0 L560.20,243.6 L560.46,232.9 L560.71,229.7 L560.97,230.4 L561.23,230.4 L561.49,230.4 L561.74,230.4 L562.00,229.8 L562.25,237.3 L562.49,234.8 L562.74,236.9 L562.98,241.7 L563.23,249.1 L563.47,249.1 L563.72,257.7 L563.96,256.9 L564.21,261.4 L564.45,261.4 L564.70,262.0 L564.94,261.4 L565.18,261.4 L565.41,261.4 L565.65,261.4 L565.89,246.2 L566.12,234.6 L566.36,232.3 L566.60,231.7 L566.84,232.3 L567.08,238.6 L567.32,234.6 L567.56,232.3 L567.80,232.0 L568.03,242.5 L568.27,233.9 L568.50,235.7 L568.73,241.6 L568.97,245.6 L569.20,248.5 L569.45,247.9 L569.70,245.3 L569.95,232.8 L570.20,233.2 L570.45,233.2 L570.70,233.2 L570.95,233.2 L571.20,233.2 L571.45,235.0 L571.70,232.6 L571.96,224.4 L572.21,222.6 L572.47,225.3 L572.73,224.8 L572.99,222.6 L573.24,222.6 L573.50,222.0 L573.76,237.5 L574.02,243.0 L574.28,237.5 L574.54,238.4 L574.80,243.6 L575.04,244.9 L575.29,256.1 L575.53,255.8 L575.77,256.1 L576.01,256.1 L576.26,256.1 L576.50,256.7 L576.76,251.4 L577.01,241.4 L577.27,242.2 L577.52,244.1 L577.78,248.9 L578.03,244.8 L578.29,248.1 L578.54,244.6 L578.80,240.8 L579.06,242.8 L579.31,247.0 L579.57,250.8 L579.83,250.1 L580.09,247.0 L580.34,256.6 L580.60,265.0 L580.84,267.4 L581.08,266.6 L581.32,276.1 L581.56,285.1 L581.80,285.7 L582.06,285.1 L582.32,282.8 L582.58,274.8 L582.84,274.4 L583.10,279.2 L583.36,271.3 L583.62,271.3 L583.88,271.3 L584.14,274.6 L584.40,270.7 L584.67,278.6 L584.95,280.1 L585.23,290.5 L585.50,290.8 L585.76,281.7 L586.01,276.1 L586.27,281.7 L586.53,277.5 L586.79,291.4 L587.04,304.8 L587.30,317.0 L587.56,314.0 L587.82,314.5 L588.08,308.7 L588.34,307.3 L588.60,303.0 L588.86,314.6 L589.11,313.5 L589.37,314.9 L589.63,313.9 L589.89,325.9 L590.14,335.5 L590.40,336.0 L590.64,333.4 L590.88,336.6 L591.12,344.4 L591.36,348.0 L591.60,350.7 L591.85,359.0 L592.10,371.3 L592.35,370.7 L592.60,370.7 L592.85,366.6 L593.10,370.7 L593.35,370.7 L593.60,367.0 L593.85,370.7 L594.10,360.0 L594.40,338.5 L594.64,344.2 L594.88,329.3 L595.12,329.3 L595.36,331.1 L595.60,328.7 L595.83,329.3 L596.05,331.9 L596.27,335.9 L596.50,336.6 L596.76,326.9 L597.01,334.7 L597.27,336.0 L597.53,336.0 L597.79,324.6 L598.04,316.0 L598.30,309.0 L598.54,310.2 L598.77,308.4 L599.01,308.4 L599.25,308.4 L599.49,307.1 L599.73,305.9 L599.96,298.8 L600.20,299.3 L600.46,306.6 L600.71,298.7 L600.97,298.7 L601.23,298.7 L601.49,291.4 L601.74,298.7 L602.00,290.8 L602.24,291.4 L602.48,291.4 L602.72,295.3 L602.96,292.8 L603.20,291.4 L603.44,302.4 L603.68,304.4 L603.92,299.9 L604.16,300.7 L604.40,303.0 L604.66,303.6 L604.92,303.0 L605.18,304.1 L605.44,312.2 L605.70,320.7 L605.94,319.5 L606.18,311.5 L606.42,310.0 L606.66,303.0 L606.90,302.4 L607.16,311.6 L607.42,315.0 L607.69,328.7 L607.95,325.8 L608.21,325.4 L608.48,326.1 L608.74,328.7 L609.00,329.3 L609.27,317.0 L609.53,301.2 L609.80,301.2 L610.07,301.2 L610.33,301.2 L610.60,300.6 L610.84,290.8 L611.08,298.3 L611.32,297.3 L611.56,300.0 L611.80,293.5 L612.04,299.9 L612.28,300.0 L612.52,300.0 L612.76,293.4 L613.00,289.0 L613.25,289.6 L613.49,302.4 L613.74,302.4 L613.99,302.4 L614.23,302.4 L614.48,302.4 L614.73,302.4 L614.97,302.4 L615.22,302.4 L615.47,302.4 L615.71,302.4 L615.96,302.4 L616.21,302.4 L616.45,302.4 L616.70,303.0 L616.96,296.5 L617.21,301.2 L617.47,298.7 L617.73,302.4 L617.99,299.6 L618.24,302.9 L618.50,289.0 L618.77,291.6 L619.03,296.6 L619.30,297.6 L619.57,302.3 L619.83,301.2 L620.10,305.5 L620.36,300.3 L620.62,299.7 L620.89,297.1 L621.15,289.6 L621.41,286.2 L621.68,285.8 L621.94,277.1 L622.20,276.5 L622.44,283.4 L622.68,279.8 L622.92,281.8 L623.16,284.2 L623.40,277.1 L623.64,284.0 L623.88,296.3 L624.12,290.6 L624.36,303.8 L624.60,296.9 L624.84,312.1 L625.08,304.2 L625.31,317.1 L625.55,323.0 L625.79,318.8 L626.02,317.9 L626.26,315.4 L626.50,314.0 L626.73,324.5 L626.95,326.2 L627.17,321.2 L627.40,326.8 L627.66,328.6 L627.92,327.7 L628.19,336.6 L628.45,323.6 L628.71,323.9 L628.98,322.6 L629.24,326.1 L629.50,315.2 L629.80,337.2 L630.05,329.7 L630.31,330.3 L630.56,332.6 L630.82,321.6 L631.07,325.9 L631.33,327.6 L631.58,334.5 L631.84,317.9 L632.09,323.1 L632.35,318.6 L632.60,317.0 L632.90,323.3 L633.20,336.0 L633.48,343.7 L633.75,349.6 L634.02,365.2 L634.30,365.8 L634.54,361.6 L634.78,354.9 L635.02,344.9 L635.26,343.1 L635.50,354.4 L635.74,353.6 L635.98,353.6 L636.22,353.6 L636.46,354.8 L636.70,353.0 L636.94,353.6 L637.18,353.6 L637.41,355.5 L637.65,354.2 L637.89,361.9 L638.12,360.7 L638.36,374.3 L638.60,375.6 L638.84,384.6 L639.08,386.9 L639.32,393.3 L639.56,399.9 L639.80,393.9 L640.06,400.3 L640.31,396.0 L640.57,410.7 L640.83,420.5 L641.09,424.9 L641.34,434.0 L641.60,420.0 L641.84,435.6 L642.08,435.9 L642.32,445.4 L642.56,468.3 L642.80,461.7 L643.00,471.8 L643.20,487.3 L643.43,496.4 L643.65,490.7 L643.88,490.3 L644.10,506.9 L644.34,498.5 L644.58,498.2 L644.82,484.4 L645.06,473.8 L645.30,456.8 L645.57,469.4 L645.83,488.2 L646.10,499.6 L646.34,492.4 L646.59,488.9 L646.83,487.0 L647.08,479.7 L647.32,478.3 L647.57,486.9 L647.81,497.3 L648.06,488.0 L648.30,473.9 L648.60,456.4 L648.90,432.3 L649.16,439.8 L649.42,443.0 L649.68,440.4 L649.94,446.3 L650.20,453.1 L650.50,446.1 L650.80,423.2 L651.04,426.5 L651.29,420.1 L651.53,413.7 L651.78,412.2 L652.02,411.6 L652.27,418.3 L652.51,418.3 L652.76,416.3 L653.00,411.0 L653.25,415.5 L653.50,416.7 L653.75,423.5 L654.00,432.4 L654.25,441.1 L654.50,435.0 L654.74,438.4 L654.98,444.7 L655.22,441.9 L655.46,450.3 L655.70,455.0 L655.95,454.4 L656.20,454.4 L656.45,451.9 L656.70,454.4 L656.95,454.4 L657.20,454.4 L657.45,454.4 L657.70,454.4 L657.95,454.4 L658.20,454.4 L658.45,454.4 L658.70,448.2 L659.00,436.3 L659.30,436.0 L659.53,432.4 L659.77,417.9 L660.00,415.9 L660.25,427.8 L660.50,425.5 L660.75,421.5 L661.00,418.3 L661.25,407.5 L661.50,407.6 L661.75,407.3 L662.00,406.7 L662.27,416.0 L662.53,415.6 L662.80,416.2 L663.07,417.7 L663.33,417.7 L663.60,418.3 L663.87,414.8 L664.13,406.9 L664.40,406.1 L664.67,406.8 L664.93,406.1 L665.20,405.5 L665.46,411.6 L665.72,411.4 L665.98,411.6 L666.24,406.6 L666.50,413.0 L666.73,408.1 L666.97,411.9 L667.20,412.4 L667.43,408.2 L667.67,401.2 L667.90,400.6 L668.16,401.2 L668.41,401.2 L668.67,408.0 L668.93,407.8 L669.19,423.0 L669.44,420.1 L669.70,425.7 L669.95,423.1 L670.20,405.5 L670.45,405.5 L670.70,405.5 L670.95,405.6 L671.20,404.9 L671.47,405.5 L671.73,405.5 L672.00,405.5 L672.27,411.6 L672.53,412.8 L672.80,424.5 L673.06,435.7 L673.31,435.7 L673.57,445.2 L673.83,437.5 L674.09,442.9 L674.34,441.3 L674.60,445.8 L674.87,448.2 L675.13,448.2 L675.40,448.2 L675.67,448.2 L675.93,448.2 L676.20,448.8 L676.43,448.2 L676.65,448.2 L676.88,438.7 L677.10,436.0 L677.36,443.1 L677.61,443.5 L677.87,442.2 L678.13,444.8 L678.39,447.8 L678.64,444.4 L678.90,451.9 L679.16,443.8 L679.42,452.5 L679.67,456.2 L679.93,456.2 L680.19,456.2 L680.45,452.5 L680.71,452.5 L680.97,452.5 L681.23,452.5 L681.48,452.5 L681.74,460.3 L682.00,456.8 L682.30,463.3 L682.60,471.5 L682.86,478.4 L683.11,484.3 L683.37,478.6 L683.63,484.3 L683.89,484.3 L684.14,484.3 L684.40,484.9 L684.64,483.2 L684.88,476.6 L685.12,476.6 L685.36,476.6 L685.60,476.0 L685.85,476.6 L686.10,476.6 L686.35,488.5 L686.60,492.3 L686.85,492.3 L687.10,492.9 L687.37,492.3 L687.63,480.7 L687.90,465.5 L688.17,469.4 L688.43,464.7 L688.70,464.1 L688.94,465.7 L689.18,478.6 L689.42,483.1 L689.66,483.1 L689.90,483.7 L690.14,483.1 L690.39,483.1 L690.63,483.1 L690.88,465.3 L691.12,459.3 L691.37,453.5 L691.61,449.8 L691.86,449.4 L692.10,448.8 L692.33,454.9 L692.55,473.0 L692.77,474.1 L693.00,473.9 L693.24,473.8 L693.48,475.6 L693.72,476.4 L693.96,478.5 L694.20,489.8 L694.44,489.2 L694.68,489.2 L694.92,489.2 L695.16,489.2 L695.40,488.0 L695.64,478.8 L695.88,476.7 L696.12,474.5 L696.36,471.4 L696.60,473.9 L696.84,473.3 L697.08,473.3 L697.31,473.3 L697.55,471.4 L697.79,471.4 L698.02,471.4 L698.26,474.2 L698.50,470.8 L698.76,480.8 L699.01,478.7 L699.27,484.9 L699.53,484.9 L699.79,484.9 L700.04,484.9 L700.30,485.5 L700.54,481.7 L700.78,484.9 L701.02,484.9 L701.26,482.7 L701.50,478.3 L701.74,475.4 L701.98,472.1 L702.22,467.7 L702.46,473.8 L702.70,471.5 L702.95,470.9 L703.20,470.2 L703.45,466.3 L703.70,463.5 L703.95,463.5 L704.20,462.9 L704.46,463.5 L704.71,463.5 L704.97,468.5 L705.23,473.0 L705.49,484.7 L705.74,491.9 L706.00,494.7 L706.27,487.6 L706.53,494.1 L706.80,494.1 L707.07,491.8 L707.33,484.0 L707.60,473.9 L707.85,481.5 L708.10,481.6 L708.35,461.6 L708.60,460.4 L708.85,460.4 L709.10,459.8 L709.35,464.1 L709.60,465.7 L709.85,474.9 L710.10,486.1 L710.34,488.0 L710.58,502.5 L710.82,505.1 L711.06,502.5 L711.30,507.0 L711.56,497.3 L711.81,495.6 L712.07,488.5 L712.33,485.9 L712.59,487.6 L712.84,470.8 L713.10,473.9 L713.36,472.3 L713.62,467.3 L713.88,468.8 L714.14,467.7 L714.40,461.7 L714.64,455.4 L714.88,461.2 L715.12,467.2 L715.36,457.6 L715.60,453.1 L715.84,452.5 L716.08,452.5 L716.32,452.5 L716.56,452.5 L716.80,451.9 L717.04,451.3 L717.29,451.3 L717.53,450.7 L717.78,446.8 L718.02,444.5 L718.27,448.1 L718.51,448.6 L718.76,442.8 L719.00,440.9 L719.25,455.6 L719.50,453.3 L719.75,445.7 L720.00,448.1 L720.25,441.7 L720.50,461.7 L720.73,465.1 L720.95,468.1 L721.17,469.7 L721.40,482.5 L721.66,474.4 L721.92,473.0 L722.19,462.3 L722.45,468.0 L722.71,467.2 L722.98,477.9 L723.24,474.9 L723.50,466.6 L723.74,467.2 L723.98,470.6 L724.21,467.2 L724.45,469.9 L724.69,467.2 L724.92,467.2 L725.16,467.2 L725.40,473.9 L725.64,472.9 L725.88,481.6 L726.12,490.4 L726.36,490.4 L726.60,491.0 L726.84,496.1 L727.08,502.9 L727.32,495.7 L727.56,481.8 L727.80,482.5 L728.07,499.7 L728.35,511.3 L728.62,526.0 L728.90,526.6 L729.16,520.8 L729.42,512.3 L729.69,503.0 L729.95,507.1 L730.21,508.9 L730.48,520.8 L730.74,501.9 L731.00,497.2 L731.24,497.8 L731.48,501.6 L731.72,509.4 L731.96,510.8 L732.20,511.9 L732.46,509.8 L732.71,509.3 L732.97,509.4 L733.23,512.5 L733.49,512.5 L733.74,519.7 L734.00,537.6 L734.24,537.0 L734.49,537.0 L734.73,537.0 L734.98,537.0 L735.22,530.2 L735.47,534.9 L735.71,530.9 L735.96,518.2 L736.20,516.8 L736.46,517.4 L736.72,520.0 L736.98,537.2 L737.23,535.3 L737.49,538.2 L737.75,548.2 L738.01,554.2 L738.27,559.0 L738.52,559.0 L738.78,559.0 L739.04,554.7 L739.30,559.6 L739.57,559.0 L739.83,543.7 L740.10,533.9 L740.40,522.9 L740.70,515.6 L740.95,511.8 L741.20,493.5 L741.46,486.4 L741.72,494.7 L741.98,487.3 L742.24,485.2 L742.50,475.1 L742.80,490.0 L743.10,488.6 L743.35,484.9 L743.60,469.5 L743.85,462.5 L744.10,458.6 L744.35,465.5 L744.60,471.0 L744.85,474.0 L745.10,470.5 L745.35,460.8 L745.60,464.4 L745.85,458.7 L746.10,458.0 L746.34,457.4 L746.58,452.9 L746.81,447.5 L747.05,442.7 L747.29,442.7 L747.52,442.7 L747.76,442.7 L748.00,442.1 L748.25,433.6 L748.50,433.6 L748.75,435.8 L749.00,438.3 L749.25,440.6 L749.50,444.1 L749.75,433.6 L750.00,433.0 L750.25,442.3 L750.50,442.9 L750.75,442.5 L751.00,449.5 L751.24,437.1 L751.48,439.9 L751.71,448.9 L751.95,448.9 L752.19,443.1 L752.42,446.8 L752.66,443.6 L752.90,437.8 L753.15,438.6 L753.39,438.4 L753.64,438.4 L753.89,438.4 L754.14,438.4 L754.38,438.4 L754.63,438.4 L754.88,438.4 L755.12,438.4 L755.37,442.9 L755.62,455.0 L755.86,453.0 L756.11,455.0 L756.36,447.0 L756.61,452.3 L756.85,455.0 L757.10,455.6 L757.35,457.5 L757.60,462.1 L757.85,459.6 L758.10,456.2 L758.35,463.1 L758.60,456.2 L758.85,456.2 L759.10,457.6 L759.35,457.9 L759.60,467.8 L759.84,478.6 L760.09,482.3 L760.33,485.5 L760.57,485.5 L760.81,485.5 L761.06,485.5 L761.30,485.5 L761.54,485.5 L761.79,482.7 L762.03,485.5 L762.27,485.5 L762.51,480.9 L762.76,484.4 L763.00,486.1 L763.24,485.5 L763.48,480.3 L763.72,473.9 L763.96,469.9 L764.20,455.6 L764.43,451.3 L764.65,451.3 L764.88,452.1 L765.10,450.7 L765.34,458.7 L765.58,453.9 L765.82,458.4 L766.06,457.8 L766.30,462.9 L766.54,460.0 L766.78,458.5 L767.02,452.3 L767.26,458.2 L767.50,455.0 L767.76,461.5 L768.02,464.7 L768.28,464.7 L768.54,462.7 L768.80,465.3 L769.10,461.4 L769.40,440.9 L769.66,437.4 L769.91,434.0 L770.17,434.9 L770.43,432.9 L770.69,432.9 L770.94,436.3 L771.20,432.3 L771.44,438.0 L771.68,435.5 L771.92,439.8 L772.16,440.3 L772.40,440.9 L772.65,439.6 L772.90,439.4 L773.15,437.3 L773.40,437.4 L773.65,438.6 L773.90,427.7 L774.15,425.1 L774.40,427.9 L774.65,435.4 L774.90,424.0 L775.16,424.6 L775.42,424.6 L775.68,424.6 L775.94,424.6 L776.20,424.6 L776.46,424.6 L776.72,435.4 L776.98,425.1 L777.24,435.4 L777.50,436.0 L777.77,435.4 L778.03,432.6 L778.30,435.4 L778.57,429.2 L778.83,418.0 L779.10,412.2 L779.40,410.8 L779.70,397.6 L779.94,401.0 L780.18,401.5 L780.42,403.2 L780.66,403.8 L780.90,408.6 L781.14,411.6 L781.38,408.0 L781.62,405.8 L781.86,389.2 L782.10,381.7 L782.34,370.9 L782.58,375.8 L782.82,368.1 L783.06,363.2 L783.30,367.0 L783.54,372.5 L783.77,379.5 L784.01,371.9 L784.25,372.1 L784.49,372.5 L784.73,370.5 L784.96,367.4 L785.20,357.2 L785.44,357.8 L785.68,366.2 L785.92,371.1 L786.16,372.5 L786.40,373.1 L786.64,372.5 L786.89,372.5 L787.13,368.5 L787.38,372.5 L787.62,372.9 L787.87,367.9 L788.11,360.5 L788.36,353.6 L788.60,353.0 L788.84,353.6 L789.08,353.6 L789.32,354.0 L789.56,370.8 L789.80,378.0 L790.06,377.4 L790.31,377.4 L790.57,377.4 L790.82,377.4 L791.08,359.6 L791.33,360.0 L791.59,355.2 L791.84,357.6 L792.10,357.2 L792.37,362.6 L792.63,365.5 L792.90,367.6 L793.10,356.8 L793.30,343.2 L793.56,336.4 L793.82,333.3 L794.08,335.2 L794.34,330.0 L794.60,328.6 L794.86,323.9 L795.11,314.5 L795.37,314.5 L795.63,314.5 L795.89,314.5 L796.14,319.4 L796.40,313.9 L796.70,325.5 L797.00,334.7 L797.26,330.2 L797.51,331.1 L797.77,332.3 L798.03,318.3 L798.29,323.7 L798.54,317.5 L798.80,307.8 L799.06,300.6 L799.32,296.6 L799.59,287.0 L799.85,291.7 L800.11,292.3 L800.38,287.0 L800.64,287.1 L800.90,286.4 L801.15,289.0 L801.40,297.7 L801.65,299.1 L801.90,299.2 L802.20,320.9 L802.50,326.1 L802.75,332.3 L803.00,350.6 L803.25,372.8 L803.50,375.6 L803.80,390.8 L804.10,401.2 L804.34,386.5 L804.58,378.0 L804.82,375.8 L805.06,375.5 L805.30,369.4 L805.55,373.4 L805.80,373.9 L806.05,360.3 L806.30,362.5 L806.55,353.6 L806.80,350.3 L807.05,350.3 L807.30,350.3 L807.55,350.3 L807.80,349.7 L808.04,353.1 L808.29,357.4 L808.53,359.9 L808.78,361.2 L809.02,367.0 L809.27,363.2 L809.51,365.9 L809.76,368.0 L810.00,374.3 L810.27,361.3 L810.53,357.8 L810.80,351.7 L811.06,354.7 L811.32,357.0 L811.59,356.8 L811.85,358.6 L812.11,360.2 L812.38,368.3 L812.64,369.0 L812.90,371.3 L813.15,363.1 L813.40,360.0 L813.65,363.7 L813.90,369.5 L814.15,361.0 L814.40,359.0 L814.65,355.5 L814.90,354.2 L815.14,354.8 L815.38,354.8 L815.62,356.9 L815.86,361.0 L816.10,371.3 L816.35,366.2 L816.60,360.3 L816.85,366.7 L817.10,370.7 L817.35,370.6 L817.60,363.3 L817.90,363.5 L818.20,348.7 L818.44,355.9 L818.68,357.0 L818.92,355.3 L819.16,353.4 L819.40,358.4 L819.63,360.0 L819.87,349.2 L820.10,345.8 L820.33,345.1 L820.57,336.5 L820.80,344.5 L821.04,348.7 L821.27,336.2 L821.51,348.1 L821.75,343.9 L821.99,343.9 L822.23,337.1 L822.46,327.9 L822.70,332.2 L822.94,343.9 L823.18,331.6 L823.42,322.2 L823.66,317.6 L823.90,323.7 L824.14,325.2 L824.38,317.6 L824.62,317.6 L824.86,317.6 L825.10,317.0 L825.33,319.1 L825.57,323.1 L825.80,329.0 L826.03,332.1 L826.27,333.6 L826.50,335.0 L826.77,322.4 L827.03,322.6 L827.30,317.0 L827.55,324.0 L827.80,334.4 L828.05,320.6 L828.30,320.0 L828.55,326.6 L828.80,324.9 L829.06,324.1 L829.31,330.3 L829.57,329.9 L829.83,327.4 L830.09,328.7 L830.34,332.4 L830.60,335.9 L830.88,341.2 L831.15,340.3 L831.43,336.5 L831.70,356.3 L831.95,354.0 L832.20,351.4 L832.45,349.8 L832.70,344.2 L832.95,332.4 L833.20,333.1 L833.45,342.7 L833.70,329.2 L833.94,329.2 L834.19,329.2 L834.43,329.2 L834.68,331.2 L834.92,332.2 L835.17,329.2 L835.41,329.2 L835.66,329.2 L835.90,328.6 L836.17,329.2 L836.43,329.2 L836.70,343.2 L836.90,358.4 L837.10,374.3 L837.34,376.1 L837.58,383.9 L837.81,386.0 L838.05,384.9 L838.29,382.1 L838.52,371.3 L838.76,379.9 L839.00,386.6 L839.26,386.0 L839.51,386.0 L839.77,386.0 L840.03,386.0 L840.29,376.5 L840.54,372.1 L840.80,369.4 L841.05,372.1 L841.30,371.3 L841.55,370.3 L841.80,370.8 L842.05,372.7 L842.30,374.3 L842.55,356.8 L842.80,333.5 L843.06,334.5 L843.32,325.9 L843.58,324.9 L843.84,324.9 L844.10,324.3 L844.34,325.6 L844.58,324.9 L844.82,332.9 L845.06,330.4 L845.30,331.0 L845.56,327.1 L845.81,321.7 L846.07,318.2 L846.33,318.2 L846.59,322.7 L846.84,320.4 L847.10,317.6 L847.34,326.7 L847.58,328.4 L847.82,328.8 L848.06,331.6 L848.30,332.2 L848.55,328.6 L848.80,329.1 L849.05,327.4 L849.30,316.3 L849.55,316.3 L849.80,315.7 L850.05,318.4 L850.31,319.9 L850.56,329.8 L850.82,321.6 L851.07,324.6 L851.33,316.3 L851.58,328.7 L851.84,325.1 L852.09,329.2 L852.35,326.1 L852.60,330.4 L852.86,326.9 L853.12,321.2 L853.38,313.2 L853.64,309.1 L853.90,301.7 L854.14,302.3 L854.38,307.6 L854.62,316.1 L854.86,309.1 L855.10,304.6 L855.34,302.3 L855.58,306.2 L855.82,302.3 L856.06,312.3 L856.30,315.1 L856.56,313.1 L856.81,314.5 L857.07,307.9 L857.33,307.5 L857.59,307.3 L857.84,313.3 L858.10,302.9 L858.34,310.3 L858.58,307.4 L858.81,307.4 L859.05,307.4 L859.29,307.4 L859.52,307.4 L859.76,307.4 L860.00,308.0 L860.26,307.4 L860.51,307.4 L860.77,307.4 L861.03,310.6 L861.29,301.8 L861.54,297.4 L861.80,296.8 L862.04,297.4 L862.28,303.5 L862.52,312.2 L862.76,312.6 L863.00,314.5 L863.24,301.0 L863.48,307.3 L863.71,301.3 L863.95,302.4 L864.19,308.1 L864.42,306.6 L864.66,307.2 L864.90,295.6 L865.20,286.4 L865.50,285.8 L865.74,291.5 L865.99,280.3 L866.23,283.4 L866.48,280.9 L866.72,282.0 L866.97,284.2 L867.21,285.2 L867.46,284.2 L867.70,279.7 L867.95,290.1 L868.20,290.1 L868.45,290.1 L868.70,290.1 L868.95,286.9 L869.20,284.8 L869.45,290.1 L869.70,290.7 L869.94,281.5 L870.18,281.5 L870.41,281.5 L870.65,283.5 L870.89,286.6 L871.12,290.1 L871.36,284.4 L871.60,280.9 L871.84,281.5 L872.08,281.5 L872.32,281.5 L872.56,285.2 L872.80,285.8 L873.06,285.2 L873.31,285.2 L873.57,284.9 L873.83,276.5 L874.09,274.8 L874.34,273.5 L874.60,272.9 L874.84,273.5 L875.08,273.5 L875.31,273.5 L875.55,273.5 L875.79,273.5 L876.02,273.5 L876.26,277.4 L876.50,278.0 L876.74,277.4 L876.98,277.4 L877.22,277.2 L877.46,270.2 L877.70,268.0 L877.94,268.0 L878.18,268.0 L878.42,268.0 L878.66,268.0 L878.90,267.4 L879.16,273.8 L879.42,278.0 L879.68,274.1 L879.94,270.6 L880.20,272.0 L880.43,279.3 L880.65,288.1 L880.88,290.1 L881.10,290.7 L881.34,283.0 L881.58,287.5 L881.82,282.4 L882.06,289.3 L882.30,277.2 L882.52,284.6 L882.75,287.4 L882.98,290.1 L883.20,290.1 L883.45,289.5 L883.70,289.5 L883.95,288.4 L884.20,279.5 L884.45,271.1 L884.70,271.1 L884.95,271.1 L885.20,271.1 L885.45,271.9 L885.70,273.6 L885.95,271.1 L886.20,270.5 L886.46,271.7 L886.72,271.1 L886.98,271.1 L887.23,271.6 L887.49,273.6 L887.75,271.1 L888.01,278.0 L888.27,271.1 L888.52,281.0 L888.78,287.6 L889.04,281.3 L889.30,290.7 L889.56,290.1 L889.81,290.1 L890.07,290.1 L890.33,290.1 L890.59,289.3 L890.84,280.4 L891.10,277.2 L891.33,284.1 L891.57,276.6 L891.80,276.6 L892.03,276.6 L892.27,276.6 L892.50,266.0 L892.77,255.5 L893.03,259.0 L893.30,258.5 L893.57,256.4 L893.83,250.8 L894.10,250.9 L894.36,242.5 L894.61,243.9 L894.87,243.1 L895.13,239.3 L895.39,243.0 L895.64,239.3 L895.90,238.7 L896.13,240.3 L896.37,239.4 L896.60,239.4 L896.83,239.4 L897.07,239.4 L897.30,240.0 L897.55,239.4 L897.80,232.7 L898.05,227.9 L898.30,226.5 L898.54,227.1 L898.78,229.5 L899.02,220.1 L899.26,229.9 L899.50,231.0 L899.75,230.4 L900.00,230.4 L900.25,230.4 L900.50,230.4 L900.75,230.4 L901.00,215.5 L901.27,216.5 L901.53,216.1 L901.80,214.8 L902.07,218.8 L902.33,218.1 L902.60,224.0 L902.84,219.0 L903.08,212.6 L903.32,212.1 L903.56,212.1 L903.80,199.6 L904.04,200.2 L904.27,212.5 L904.51,210.0 L904.75,210.6 L904.99,201.8 L905.23,206.0 L905.46,214.1 L905.70,215.5 L905.93,212.9 L906.17,211.5 L906.40,197.1 L906.63,199.1 L906.87,197.1 L907.10,196.5 L907.34,198.2 L907.58,198.7 L907.81,212.4 L908.05,217.9 L908.29,212.4 L908.52,215.7 L908.76,217.9 L909.00,218.5 L909.27,217.9 L909.53,217.9 L909.80,214.8 L910.07,207.8 L910.33,210.9 L910.60,204.4 L910.86,206.3 L911.11,196.7 L911.37,200.2 L911.63,199.3 L911.89,193.8 L912.14,190.8 L912.40,189.8 L912.67,188.5 L912.93,182.4 L913.20,173.3 L913.44,173.9 L913.68,176.0 L913.92,176.9 L914.16,186.8 L914.40,179.5 L914.64,178.9 L914.88,176.8 L915.11,167.8 L915.35,167.3 L915.59,168.5 L915.82,170.7 L916.06,169.4 L916.30,158.7 L916.56,160.2 L916.81,163.2 L917.07,175.0 L917.33,176.2 L917.59,177.6 L917.84,188.7 L918.10,189.5 L918.40,167.8 L918.70,151.3 L918.96,153.7 L919.22,151.8 L919.48,137.2 L919.74,131.5 L920.00,135.5 L920.24,128.1 L920.48,131.8 L920.72,130.8 L920.96,126.9 L921.20,126.3 L921.44,123.8 L921.68,123.8 L921.92,123.8 L922.16,130.8 L922.40,139.1 L922.64,138.5 L922.88,137.2 L923.12,135.3 L923.36,128.8 L923.60,123.2 L923.84,129.0 L924.08,133.4 L924.32,123.1 L924.56,126.1 L924.80,139.1 L925.06,138.5 L925.32,128.5 L925.58,129.0 L925.84,125.8 L926.10,118.9 L926.33,127.3 L926.55,137.4 L926.77,135.4 L927.00,137.9 L927.23,127.4 L927.45,119.7 L927.67,123.0 L927.90,112.2 L928.10,110.1 L928.30,105.8 L928.55,105.3 L928.80,96.5 L929.05,99.7 L929.30,91.1 L929.55,97.3 L929.79,97.9 L930.04,100.1 L930.28,98.2 L930.53,93.5 L930.77,91.7 L931.02,88.9 L931.26,89.5 L931.51,92.7 L931.75,91.9 L932.00,98.5 L932.25,95.4 L932.50,92.1 L932.75,86.3 L933.00,82.0 L933.26,91.3 L933.51,91.3 L933.77,87.7 L934.03,95.2 L934.29,102.9 L934.54,107.9 L934.80,114.4 L935.05,115.9 L935.30,119.6 L935.55,130.1 L935.80,140.3 L936.02,123.4 L936.25,118.4 L936.48,96.9 L936.70,97.2 L936.96,94.3 L937.21,94.8 L937.47,92.0 L937.73,87.1 L937.99,89.3 L938.24,80.6 L938.50,82.6 L938.80,79.3 L939.10,72.8 L939.35,72.4 L939.60,62.1 L939.85,59.3 L940.10,59.3 L940.35,59.3 L940.60,59.3 L940.85,59.3 L941.10,59.3 L941.35,59.3 L941.60,58.7 L941.84,68.4 L942.08,71.0 L942.32,71.0 L942.56,71.0 L942.80,71.6 L943.06,71.0 L943.32,71.0 L943.59,71.0 L943.85,71.0 L944.11,56.6 L944.38,53.9 L944.64,51.4 L944.90,50.8 L945.16,57.4 L945.42,58.4 L945.68,57.2 L945.94,66.3 L946.20,64.2 L946.46,73.7 L946.71,77.1 L946.97,77.1 L947.23,81.6 L947.49,93.0 L947.74,86.5 L948.00,93.6 L948.23,85.9 L948.45,71.4 L948.67,68.7 L948.90,60.6 L949.14,62.5 L949.39,53.8 L949.63,55.9 L949.88,52.0 L950.12,52.0 L950.37,59.8 L950.61,52.0 L950.86,60.7 L951.10,51.4 L951.34,56.0 L951.58,63.6 L951.82,59.1 L952.06,63.6 L952.30,64.2 L952.54,54.9 L952.79,55.8 L953.03,50.2 L953.27,48.0 L953.51,47.1 L953.76,47.1 L954.00,46.5 L954.20,58.0 L954.40,66.7 L954.60,86.8 L954.84,83.7 L955.09,85.4 L955.33,85.3 L955.58,67.3 L955.82,63.5 L956.07,63.2 L956.31,78.0 L956.56,70.6 L956.80,65.5 L957.05,67.8 L957.30,77.5 L957.55,75.6 L957.80,80.0 L958.07,80.2 L958.35,70.6 L958.62,69.5 L958.90,65.5 L959.15,69.3 L959.40,75.5 L959.65,85.2 L959.90,81.3 L960.14,85.0 L960.38,97.9 L960.62,95.0 L960.86,97.9 L961.10,98.5 L961.34,108.7 L961.59,100.8 L961.83,101.0 L962.08,102.5 L962.32,103.7 L962.57,99.1 L962.81,99.1 L963.06,99.1 L963.30,111.0 L963.54,120.0 L963.77,111.6 L964.01,115.9 L964.25,128.2 L964.49,132.6 L964.73,132.6 L964.96,128.2 L965.20,130.6 L965.47,140.0 L965.73,154.1 L966.00,167.8 L966.24,167.2 L966.48,162.6 L966.71,161.3 L966.95,150.0 L967.19,148.3 L967.42,151.8 L967.66,144.2 L967.90,132.4 L968.17,135.3 L968.43,138.2 L968.70,136.4 L968.97,142.1 L969.23,145.2 L969.50,152.6 L969.76,144.8 L970.01,151.7 L970.27,162.2 L970.53,158.2 L970.79,173.7 L971.04,177.0 L971.30,169.7 L971.60,190.2 L971.90,213.0 L972.16,205.5 L972.41,200.9 L972.67,200.0 L972.93,195.6 L973.19,190.4 L973.44,180.8 L973.70,163.6 L973.96,165.2 L974.21,164.2 L974.47,171.4 L974.73,165.7 L974.99,171.4 L975.24,166.8 L975.50,172.0 L975.76,171.4 L976.01,165.7 L976.27,159.6 L976.52,166.3 L976.78,159.4 L977.03,159.4 L977.29,160.4 L977.54,165.6 L977.80,157.5 L978.05,167.1 L978.29,166.4 L978.54,167.9 L978.78,164.5 L979.03,172.5 L979.27,172.3 L979.52,178.2 L979.76,174.2 L980.01,180.6 L980.25,181.3 L980.50,168.5 L980.70,191.4 L980.90,192.2 L981.14,198.6 L981.38,200.4 L981.62,200.5 L981.86,201.0 L982.10,210.6 L982.40,238.7 L982.65,245.0 L982.90,249.7 L983.15,239.7 L983.40,245.1 L983.65,234.4 L983.90,250.3 L984.14,244.9 L984.38,244.8 L984.62,236.8 L984.86,229.7 L985.10,216.7 L985.36,225.1 L985.62,217.4 L985.88,219.6 L986.14,208.5 L986.40,202.0 L986.65,203.8 L986.91,207.6 L987.16,208.6 L987.42,217.6 L987.67,226.7 L987.93,220.1 L988.18,221.6 L988.44,217.0 L988.69,229.0 L988.95,224.8 L989.20,232.6 L989.43,229.1 L989.67,224.2 L989.90,206.1 L990.13,213.4 L990.37,207.9 L990.60,208.1 L990.90,210.4 L991.20,198.3 L991.45,184.5 L991.70,189.6 L991.95,196.2 L992.20,183.6 L992.45,176.4 L992.70,175.8 L992.95,176.4 L993.20,180.9 L993.45,180.9 L993.70,181.5 L993.95,180.0 L994.20,170.4 L994.45,173.0 L994.70,164.2 L994.95,165.1 L995.20,176.4 L995.45,164.2 L995.70,163.6 L995.93,164.2 L996.15,153.2 L996.38,163.9 L996.60,170.9 L996.87,170.3 L997.13,169.3 L997.40,166.1 L997.67,164.9 L997.93,159.0 L998.20,152.6 L998.44,140.9 L998.68,142.5 L998.92,140.9 L999.16,141.9 L999.40,140.3 L999.65,145.9 L999.90,140.7 L1000.15,141.3 L1000.40,144.1 L1000.65,139.7 L1000.90,141.0 L1001.15,132.4 L1001.40,132.4 L1001.65,132.7 L1001.90,131.8 L1002.14,134.6 L1002.38,132.4 L1002.62,132.4 L1002.86,141.0 L1003.10,141.6 L1003.34,138.0 L1003.58,132.4 L1003.81,132.4 L1004.05,132.4 L1004.29,141.6 L1004.52,141.6 L1004.76,141.6 L1005.00,141.0 L1005.26,146.8 L1005.52,159.3 L1005.79,159.3 L1006.05,159.3 L1006.31,155.0 L1006.58,155.3 L1006.84,156.3 L1007.10,159.9 L1007.36,159.3 L1007.62,150.4 L1007.89,143.4 L1008.15,145.8 L1008.41,143.4 L1008.68,143.4 L1008.94,143.7 L1009.20,142.8 L1009.46,142.2 L1009.73,133.7 L1009.99,132.4 L1010.25,129.9 L1010.51,130.3 L1010.77,129.9 L1011.04,134.1 L1011.30,129.3 L1011.54,129.9 L1011.78,139.7 L1012.02,142.3 L1012.26,143.4 L1012.50,144.0 L1012.74,145.1 L1012.98,142.8 L1013.22,140.2 L1013.46,130.6 L1013.70,132.4 L1013.94,133.0 L1014.18,135.6 L1014.42,149.9 L1014.66,153.2 L1014.90,153.8 L1015.14,147.3 L1015.39,142.4 L1015.63,133.0 L1015.88,134.6 L1016.12,137.3 L1016.37,137.3 L1016.61,143.3 L1016.86,142.8 L1017.10,136.7 L1017.35,142.6 L1017.60,143.2 L1017.85,144.6 L1018.10,145.2 L1018.34,144.6 L1018.59,144.6 L1018.83,144.6 L1019.07,142.9 L1019.31,142.6 L1019.56,136.1 L1019.80,135.5 L1020.03,136.1 L1020.27,147.7 L1020.50,148.1 L1020.73,154.4 L1020.97,154.4 L1021.20,155.0 L1021.46,147.7 L1021.73,145.8 L1021.99,143.0 L1022.25,135.4 L1022.51,135.4 L1022.77,135.4 L1023.04,135.4 L1023.30,134.8 L1023.56,135.4 L1023.81,135.4 L1024.07,139.7 L1024.33,141.0 L1024.59,136.0 L1024.84,135.4 L1025.10,141.6 L1025.34,141.0 L1025.58,141.0 L1025.82,138.7 L1026.06,133.0 L1026.30,133.0 L1026.54,133.0 L1026.78,136.9 L1027.02,137.7 L1027.26,133.0 L1027.50,132.4 L1027.76,133.1 L1028.02,144.6 L1028.28,151.5 L1028.53,145.8 L1028.79,141.4 L1029.05,149.5 L1029.31,154.4 L1029.57,154.4 L1029.82,154.4 L1030.08,154.4 L1030.34,150.3 L1030.60,155.0 L1030.86,137.3 L1031.11,137.3 L1031.37,137.3 L1031.63,137.3 L1031.89,137.3 L1032.14,140.2 L1032.40,136.7 L1032.65,133.8 L1032.90,124.6 L1033.15,123.0 L1033.40,123.0 L1033.65,124.1 L1033.90,123.0 L1034.15,123.0 L1034.40,123.0 L1034.65,123.0 L1034.90,122.4 L1035.14,123.6 L1035.38,123.0 L1035.62,123.0 L1035.87,123.0 L1036.11,123.0 L1036.35,123.0 L1036.59,128.5 L1036.83,126.7 L1037.08,137.4 L1037.32,128.7 L1037.56,127.9 L1037.80,138.0 L1038.05,137.4 L1038.31,137.4 L1038.56,137.4 L1038.82,135.0 L1039.07,134.9 L1039.32,136.5 L1039.58,137.4 L1039.83,135.6 L1040.08,136.4 L1040.34,134.4 L1040.59,133.5 L1040.85,117.5 L1041.10,116.6 L1041.36,117.2 L1041.62,118.7 L1041.89,124.8 L1042.15,132.3 L1042.41,128.7 L1042.67,130.6 L1042.94,138.0 L1043.20,140.8 L1043.45,137.5 L1043.70,135.6 L1043.95,133.6 L1044.20,126.2 L1044.45,125.1 L1044.70,124.5 L1044.95,125.1 L1045.19,128.3 L1045.44,125.1 L1045.68,131.1 L1045.93,139.0 L1046.17,146.6 L1046.42,142.5 L1046.66,139.7 L1046.91,135.0 L1047.15,142.6 L1047.40,147.2 L1047.65,147.8 L1047.90,147.8 L1048.15,159.0 L1048.40,158.9 L1048.66,162.6 L1048.91,168.5 L1049.17,165.6 L1049.43,166.8 L1049.69,174.9 L1049.94,176.7 L1050.20,180.8 L1050.45,175.1 L1050.70,180.2 L1050.95,176.0 L1051.20,171.8 L1051.45,162.0 L1051.70,164.2 L1051.95,158.1 L1052.20,157.7 L1052.45,157.7 L1052.70,157.1 L1052.94,157.7 L1053.17,157.7 L1053.41,164.4 L1053.65,163.4 L1053.89,176.8 L1054.12,178.0 L1054.36,188.9 L1054.60,189.5 L1054.85,178.2 L1055.10,184.6 L1055.35,186.7 L1055.60,184.0 L1055.88,196.1 L1056.15,207.2 L1056.42,217.1 L1056.70,233.4 L1056.97,240.8 L1057.25,242.9 L1057.53,245.7 L1057.80,261.6 L1058.08,274.7 L1058.35,288.1 L1058.62,303.2 L1058.90,308.2 L1059.15,297.9 L1059.40,293.0 L1059.65,270.7 L1059.90,263.8 L1060.14,264.4 L1060.39,264.4 L1060.63,269.6 L1060.88,278.2 L1061.12,287.0 L1061.37,299.2 L1061.61,320.5 L1061.86,331.0 L1062.10,344.0 L1062.38,324.8 L1062.65,303.5 L1062.92,292.1 L1063.20,276.8 L1063.44,282.4 L1063.69,282.6 L1063.93,269.3 L1064.18,273.7 L1064.42,264.7 L1064.67,261.3 L1064.91,253.3 L1065.16,246.9 L1065.40,242.0 L1065.68,240.6 L1065.95,242.4 L1066.22,247.4 L1066.50,259.4 L1066.75,254.3 L1067.00,256.8 L1067.25,235.3 L1067.50,222.5 L1067.78,224.3 L1068.05,209.6 L1068.32,201.7 L1068.60,200.0 L1068.85,207.7 L1069.10,208.7 L1069.35,207.9 L1069.60,203.7 L1069.85,199.4 L1070.10,199.4 L1070.35,199.4 L1070.60,194.2 L1070.85,190.2 L1071.10,180.9 L1071.34,175.5 L1071.58,171.8 L1071.82,168.1 L1072.06,165.6 L1072.30,163.8 L1072.57,164.4 L1072.83,167.3 L1073.10,175.5 L1073.37,177.2 L1073.63,177.2 L1073.90,177.8 L1074.16,170.3 L1074.43,163.4 L1074.69,163.1 L1074.95,156.4 L1075.21,150.3 L1075.47,154.7 L1075.74,152.7 L1076.00,140.6 L1076.26,146.5 L1076.51,161.5 L1076.77,168.7 L1077.03,166.8 L1077.29,175.5 L1077.54,174.3 L1077.80,171.1 L1078.04,176.9 L1078.28,190.1 L1078.52,190.7 L1078.76,190.7 L1079.00,191.3 L1079.26,190.7 L1079.51,187.0 L1079.77,187.3 L1080.03,178.5 L1080.29,173.4 L1080.54,167.5 L1080.80,163.8 L1081.05,152.6 L1081.30,157.9 L1081.55,160.1 L1081.80,154.5 L1082.05,144.0 L1082.30,148.4 L1082.55,143.4 L1082.80,144.1 L1083.05,147.9 L1083.30,141.8 L1083.56,141.2 L1083.81,141.2 L1084.07,141.2 L1084.33,141.2 L1084.59,141.2 L1084.84,127.8 L1085.10,127.1 L1085.35,126.5 L1085.60,121.4 L1085.85,128.3 L1086.10,116.7 L1086.34,127.2 L1086.58,127.2 L1086.82,126.3 L1087.06,124.5 L1087.30,132.0 L1087.55,131.4 L1087.80,119.6 L1088.05,122.3 L1088.30,126.5 L1088.55,129.8 L1088.80,118.6 L1089.06,123.9 L1089.31,130.0 L1089.57,124.5 L1089.83,120.5 L1090.09,139.7 L1090.34,138.9 L1090.60,139.3 L1090.84,135.3 L1091.08,140.7 L1091.32,159.9 L1091.56,172.3 L1091.80,176.0 L1092.06,175.4 L1092.32,175.4 L1092.58,175.4 L1092.83,173.2 L1093.09,175.1 L1093.35,169.8 L1093.61,165.6 L1093.87,158.9 L1094.12,152.6 L1094.38,155.3 L1094.64,143.6 L1094.90,143.0 L1095.20,170.9 L1095.50,173.6 L1095.76,164.7 L1096.01,157.3 L1096.27,161.3 L1096.53,144.4 L1096.79,141.4 L1097.04,141.2 L1097.30,140.6 L1097.54,137.8 L1097.79,140.0 L1098.03,140.0 L1098.28,140.0 L1098.52,134.4 L1098.77,128.9 L1099.01,124.7 L1099.26,124.7 L1099.50,124.1 L1099.74,124.7 L1099.98,140.6 L1100.22,153.3 L1100.46,153.4 L1100.70,153.4 L1100.94,153.4 L1101.18,153.4 L1101.42,153.4 L1101.66,153.4 L1101.90,154.0 L1102.14,150.4 L1102.39,150.6 L1102.63,147.1 L1102.87,145.4 L1103.11,141.6 L1103.36,134.4 L1103.60,137.8 L1103.84,143.8 L1104.09,137.8 L1104.33,139.5 L1104.57,128.1 L1104.81,133.0 L1105.06,123.4 L1105.30,119.8 L1105.56,127.4 L1105.81,124.8 L1106.07,126.1 L1106.33,134.0 L1106.59,131.1 L1106.84,134.4 L1107.10,143.0 L1107.34,142.4 L1107.57,138.5 L1107.81,135.4 L1108.05,133.2 L1108.29,132.9 L1108.53,136.8 L1108.76,125.6 L1109.00,124.7 L1109.24,124.6 L1109.48,124.1 L1109.72,122.0 L1109.96,114.3 L1110.20,119.0 L1110.44,117.2 L1110.68,123.3 L1110.92,121.6 L1111.16,115.6 L1111.40,113.7 L1111.68,113.1 L1111.95,112.4 L1112.22,106.4 L1112.50,100.0 L1112.80,94.5 L1113.06,99.2 L1113.32,100.8 L1113.58,99.7 L1113.83,99.4 L1114.09,99.4 L1114.35,92.0 L1114.61,93.1 L1114.87,93.9 L1115.12,100.0 L1115.38,100.0 L1115.64,92.0 L1115.90,91.4 L1116.14,93.3 L1116.38,92.0 L1116.62,93.4 L1116.86,94.1 L1117.10,100.6 L1117.36,90.2 L1117.61,88.8 L1117.87,87.6 L1118.13,84.0 L1118.39,85.0 L1118.64,77.9 L1118.90,83.5 L1119.16,77.9 L1119.42,77.9 L1119.68,81.1 L1119.94,77.9 L1120.20,77.3 L1120.44,74.9 L1120.68,76.8 L1120.92,82.9 L1121.16,76.7 L1121.40,74.9 L1121.64,75.8 L1121.88,75.4 L1122.12,74.9 L1122.36,78.4 L1122.60,74.3 L1122.87,82.6 L1123.13,89.0 L1123.40,89.0 L1123.67,89.0 L1123.93,89.0 L1124.20,89.6 L1124.46,85.0 L1124.72,81.4 L1124.99,85.1 L1125.25,79.8 L1125.51,76.3 L1125.78,74.0 L1126.04,71.2 L1126.30,70.6 L1126.55,69.4 L1126.80,69.4 L1127.05,70.0 L1127.30,70.0 L1127.55,70.0 L1127.80,70.0 L1128.05,70.0 L1128.30,70.0 L1128.55,74.8 L1128.80,71.8 L1129.05,69.4 L1129.30,68.8 L1129.56,71.5 L1129.82,85.7 L1130.08,87.1 L1130.34,89.8 L1130.60,90.4 L1130.84,89.8 L1131.09,89.8 L1131.33,85.7 L1131.58,78.6 L1131.82,73.6 L1132.07,65.8 L1132.31,64.5 L1132.56,68.6 L1132.80,63.9 L1133.04,67.8 L1133.28,64.5 L1133.52,72.6 L1133.76,74.8 L1134.00,78.6 L1134.25,76.7 L1134.50,76.1 L1134.75,76.4 L1135.00,78.0 L1135.25,71.9 L1135.50,64.5 L1135.74,65.1 L1135.98,65.1 L1136.22,65.1 L1136.46,65.1 L1136.70,65.1 L1136.94,65.1 L1137.18,75.4 L1137.42,67.0 L1137.66,75.4 L1137.90,68.8 L1138.14,69.4 L1138.38,69.4 L1138.62,69.4 L1138.86,75.2 L1139.10,76.0 L1139.34,76.5 L1139.58,74.8 L1139.82,74.1 L1140.06,73.3 L1140.30,73.7 L1140.54,82.6 L1140.78,97.0 L1141.02,100.7 L1141.26,95.5 L1141.50,101.4 L1141.76,100.8 L1142.01,100.8 L1142.27,100.8 L1142.52,100.8 L1142.78,99.5 L1143.03,100.8 L1143.29,93.8 L1143.54,93.7 L1143.80,78.0 L1144.06,78.6 L1144.32,82.5 L1144.58,83.6 L1144.83,83.3 L1145.09,91.5 L1145.35,89.7 L1145.61,86.5 L1145.87,88.1 L1146.12,92.1 L1146.38,97.6 L1146.64,100.8 L1146.90,113.3 L1147.10,93.2 L1147.36,93.1 L1147.61,88.3 L1147.87,100.0 L1148.13,85.5 L1148.39,85.3 L1148.64,85.3 L1148.90,84.7 L1149.20,86.5 L1149.50,92.0 L1149.75,91.4 L1150.00,91.4 L1150.25,91.4 L1150.50,91.4 L1150.75,81.4 L1151.00,82.4 L1151.25,87.3 L1151.50,90.4 L1151.75,91.4 L1152.00,76.1 L1152.24,75.5 L1152.48,75.5 L1152.72,75.5 L1152.96,75.5 L1153.20,74.9 L1153.45,87.0 L1153.71,89.8 L1153.96,87.7 L1154.22,85.5 L1154.47,75.5 L1154.73,86.0 L1154.98,87.9 L1155.24,82.4 L1155.49,88.9 L1155.75,89.3 L1156.00,90.4 L1156.27,89.8 L1156.53,80.9 L1156.80,68.8 L1157.04,66.9 L1157.28,63.9 L1157.51,70.3 L1157.75,66.6 L1157.99,68.8 L1158.22,68.2 L1158.46,68.2 L1158.70,57.8 L1158.96,55.9 L1159.21,55.9 L1159.47,55.9 L1159.73,55.9 L1159.99,55.9 L1160.24,60.8 L1160.50,66.3 L1160.80,62.4 L1161.10,55.3 L1161.35,58.8 L1161.60,52.9 L1161.85,52.9 L1162.10,52.9 L1162.35,52.9 L1162.60,52.9 L1162.85,52.9 L1163.10,52.9 L1163.35,57.2 L1163.60,52.3 L1163.84,57.2 L1164.08,56.9 L1164.32,57.2 L1164.56,57.2 L1164.80,57.8 L1165.06,56.1 L1165.31,51.1 L1165.57,51.1 L1165.83,51.1 L1166.09,51.1 L1166.34,47.9 L1166.60,50.5 L1166.84,52.3 L1167.07,49.9 L1167.31,49.9 L1167.55,49.9 L1167.79,49.9 L1168.03,33.9 L1168.26,38.1 L1168.50,41.9 L1168.74,33.7 L1168.98,41.3 L1169.22,27.6 L1169.46,33.5 L1169.70,29.7 L1169.94,26.9 L1170.18,24.8 L1170.42,23.5 L1170.66,24.1 L1170.90,22.9 L1171.14,26.9 L1171.38,31.6 L1171.62,33.5 L1171.86,31.0 L1172.10,39.4 L1172.34,45.4 L1172.58,37.6 L1172.82,44.4 L1173.06,53.2 L1173.30,54.7 L1173.55,54.1 L1173.80,46.1 L1174.05,53.5 L1174.30,46.6 L1174.55,46.7 L1174.80,40.0 L1175.05,53.3 L1175.30,48.6 L1175.55,51.2 L1175.80,39.4 L1176.04,36.8 L1176.28,38.8 L1176.52,37.8 L1176.76,32.1 L1177.00,38.8 L1177.24,30.6 L1177.48,30.6 L1177.72,30.3 L1177.96,30.3 L1178.20,29.7 L1178.46,32.9 L1178.72,33.3 L1178.98,39.3 L1179.24,40.4 L1179.50,45.6 L1179.74,54.6 L1179.98,56.6 L1180.22,57.4 L1180.46,53.9 L1180.70,63.9 L1180.95,77.5 L1181.20,88.2 L1181.44,86.9 L1181.67,77.8 L1181.91,75.0 L1182.15,73.6 L1182.39,62.3 L1182.62,58.4 L1182.86,58.4 L1183.10,57.8 L1183.35,52.9 L1183.60,46.2 L1183.85,46.2 L1184.10,46.2 L1184.35,46.2 L1184.60,46.2 L1184.85,46.2 L1185.10,46.2 L1185.35,46.2 L1185.60,45.6 L1185.83,46.2 L1186.07,46.2 L1186.30,46.2 L1186.53,47.6 L1186.77,51.6 L1187.00,65.1 L1187.27,64.5 L1187.53,50.7 L1187.80,47.6 L1188.07,46.6 L1188.33,44.3 L1188.60,43.7 L1188.84,53.3 L1189.07,49.4 L1189.31,52.0 L1189.55,55.5 L1189.79,49.0 L1190.03,49.1 L1190.26,57.7 L1190.50,62.0 L1190.74,54.4 L1190.98,61.4 L1191.22,60.6 L1191.46,59.3 L1191.70,45.6 L1191.96,54.4 L1192.21,51.8 L1192.47,51.1 L1192.73,45.0 L1192.99,40.5 L1193.24,44.9 L1193.50,37.0 L1193.75,38.5 L1194.00,28.8 L1194.25,33.3 L1194.50,31.3 L1194.75,35.1 L1195.00,23.4 L1195.25,25.9 L1195.50,29.6 L1195.75,30.1 L1196.00,28.0 L1196.00,69.6 L1196.27,79.8 L1196.53,71.8 L1196.80,89.4 L1197.05,93.6 L1197.30,99.3 L1197.55,114.6 L1197.80,109.3 L1198.05,109.9 L1198.30,120.4 L1198.55,126.4 L1198.80,130.8 L1199.03,107.6 L1199.27,90.9 L1199.50,62.5" fill="none" stroke="#17375E" stroke-width="1.85" stroke-linejoin="miter" stroke-miterlimit="3" stroke-linecap="butt"/>
<path d="M86.40,113.0 L86.64,113.6 L86.88,115.5 L87.12,125.0 L87.36,138.9 L87.60,136.5 M89.70,130.0 L89.95,121.7 L90.20,110.0 L90.45,113.7 L90.70,126.0 M91.70,100.6 L91.92,110.4 L92.15,123.1 L92.38,125.4 L92.60,122.0 L92.80,122.4 L93.00,108.0 L93.27,116.0 L93.53,115.0 L93.80,124.2 L94.07,104.3 L94.33,91.3 L94.60,100.0 L94.40,78.0 L94.67,73.2 L94.93,74.6 L95.20,60.9 L95.47,54.4 L95.73,54.6 L96.00,49.5 M99.60,195.0 L99.83,193.2 L100.07,188.0 L100.30,176.4 L100.53,175.6 L100.77,172.7 L101.00,178.0 M100.90,131.0 L101.17,123.8 L101.43,123.1 L101.70,122.0 L101.97,119.4 L102.23,116.3 L102.50,113.0 L102.73,107.7 L102.97,107.7 L103.20,107.7 L103.43,107.7 L103.67,107.7 L103.90,107.1 M104.20,135.0 L104.47,131.5 L104.73,126.0 L105.00,120.0 M106.00,183.5 L106.24,170.2 L106.48,175.5 L106.72,168.7 L106.96,167.1 L107.20,164.7 L107.44,150.6 L107.68,156.9 L107.92,160.9 L108.16,153.7 L108.40,150.5 L108.70,163.3 L109.00,169.0 M110.30,237.0 L110.56,249.2 L110.81,246.5 L111.07,251.7 L111.33,251.7 L111.59,251.7 L111.84,251.7 L112.10,252.3 M117.60,210.8 L117.84,218.3 L118.08,230.7 L118.32,237.7 L118.56,242.2 L118.80,231.8 L119.04,229.3 L119.28,227.4 L119.52,226.1 L119.76,232.6 L120.00,232.7 M132.70,355.5 L132.96,376.5 L133.21,382.4 L133.47,388.1 L133.73,387.8 L133.99,393.5 L134.24,384.4 L134.50,385.0 L134.76,390.0 L135.03,400.2 L135.29,406.2 L135.55,410.4 L135.81,410.4 L136.07,410.4 L136.34,410.4 L136.60,411.0 M138.80,455.6 L139.05,455.0 L139.30,453.6 L139.55,437.5 L139.80,440.4 L140.05,433.2 L140.30,440.0 M145.00,335.0 L145.27,350.9 L145.53,354.0 L145.80,357.0 M146.60,318.0 L146.82,321.4 L147.05,327.2 L147.28,332.3 L147.50,338.0 L147.75,335.3 L148.00,331.7 L148.25,321.7 L148.50,316.0 L148.73,328.3 L148.97,332.8 L149.20,334.0 M150.00,308.0 L150.25,310.7 L150.50,319.2 L150.75,328.1 L151.00,330.0 L151.27,327.1 L151.53,322.8 L151.80,318.0 L152.06,331.8 L152.32,322.8 L152.58,328.5 L152.84,331.8 L153.10,335.0 M155.00,386.6 L155.24,389.8 L155.48,387.8 L155.72,384.9 L155.96,387.2 L156.20,387.2 L156.44,393.0 L156.68,401.4 L156.92,405.8 L157.16,421.9 L157.40,423.3 L157.64,422.7 L157.88,422.7 L158.12,417.4 L158.36,404.5 L158.60,398.2 L158.84,400.4 L159.08,407.5 L159.32,398.2 L159.56,402.3 L159.80,397.6 L160.05,399.1 L160.31,399.6 L160.56,401.6 L160.82,398.2 L161.07,398.2 L161.32,398.2 L161.58,398.2 L161.83,412.7 L162.08,428.8 L162.34,428.8 L162.59,428.8 L162.85,428.8 L163.10,429.4 M164.70,386.6 L164.95,382.7 L165.19,380.8 L165.44,380.7 L165.69,381.4 L165.93,378.9 L166.18,380.0 L166.43,375.7 L166.67,369.2 L166.92,379.6 L167.17,381.9 L167.41,384.8 L167.66,373.4 L167.91,372.0 L168.15,377.5 L168.40,368.3 L168.68,367.7 L168.95,364.7 L169.22,363.2 L169.50,358.0 L169.76,352.6 L170.02,354.1 L170.28,344.4 L170.54,348.4 L170.80,336.0 L171.06,336.6 L171.31,341.3 L171.57,337.2 L171.83,338.0 L172.09,347.8 L172.34,350.0 L172.60,350.6 L172.86,350.0 L173.12,350.0 L173.38,350.0 L173.63,350.0 L173.89,348.9 L174.15,342.7 L174.41,330.4 L174.67,324.4 L174.92,318.9 L175.18,313.7 L175.44,317.8 L175.70,312.0 M176.90,338.4 L177.16,332.5 L177.42,322.1 L177.68,316.9 L177.93,328.7 L178.19,321.0 L178.45,316.6 L178.71,321.0 L178.97,322.8 L179.22,324.7 L179.48,327.2 L179.74,310.0 L180.00,300.5 L180.24,301.1 L180.48,303.7 L180.72,312.1 L180.96,312.1 L181.20,312.7 L181.44,308.8 L181.68,303.1 L181.92,300.6 L182.16,301.1 L182.40,294.5 L182.64,285.9 L182.88,285.9 L183.12,285.9 L183.36,285.9 L183.60,285.3 L183.85,292.1 L184.10,297.4 L184.35,297.4 L184.60,297.4 L184.85,297.4 L185.10,298.0 L185.35,291.3 L185.60,294.8 L185.85,289.2 L186.10,286.8 L186.35,288.1 L186.60,296.0 L186.85,288.8 L187.10,280.7 L187.36,290.0 L187.62,285.9 L187.88,292.7 L188.14,292.3 L188.40,295.2 L188.66,286.1 L188.92,294.7 L189.18,294.8 L189.44,292.1 L189.70,310.3 L189.96,313.0 L190.22,329.2 L190.48,329.2 L190.74,329.2 L191.00,329.8 L191.25,329.2 L191.50,334.3 L191.75,334.1 L192.00,334.5 L192.25,324.8 L192.50,322.4 L192.75,315.6 L193.00,303.6 M196.10,444.0 L196.36,443.4 L196.61,443.4 L196.87,442.9 L197.13,432.8 L197.39,428.0 L197.64,422.3 L197.90,418.5 M203.40,419.8 L203.70,409.1 L204.00,401.0 L204.25,403.3 L204.50,406.8 L204.75,419.2 L205.00,416.0 M206.50,385.0 L206.77,392.5 L207.03,386.0 L207.30,380.0 L207.57,384.4 L207.83,384.4 L208.10,367.5 L208.33,376.0 L208.57,375.0 L208.80,384.4 L209.03,384.4 L209.27,384.4 L209.50,385.0 L209.74,384.4 L209.99,377.2 L210.23,376.1 L210.48,373.0 L210.72,373.0 L210.97,373.7 L211.21,379.6 L211.46,379.4 L211.70,372.4 M213.20,425.0 L213.44,416.5 L213.68,408.9 L213.92,406.6 L214.16,415.9 L214.40,415.0 L214.64,410.6 L214.88,398.5 L215.12,399.2 L215.36,398.2 L215.60,388.8 L215.82,389.4 L216.05,387.2 L216.28,397.5 L216.50,405.0 M218.10,373.6 L218.35,374.2 L218.60,378.0 L218.85,375.2 L219.10,382.1 L219.35,382.1 L219.60,382.1 L219.85,379.6 L220.10,374.2 L220.35,374.2 L220.60,375.8 L220.85,379.4 L221.10,382.7 L221.34,390.2 L221.57,395.0 L221.81,398.0 L222.05,398.0 L222.29,398.0 L222.53,398.0 L222.76,398.0 L223.00,398.6 L223.24,396.4 L223.49,392.0 L223.73,395.6 L223.98,390.0 L224.22,389.4 L224.47,389.4 L224.71,389.4 L224.96,389.4 L225.20,388.8 M226.00,469.2 L226.26,468.6 L226.52,457.1 L226.78,461.5 L227.03,456.3 L227.29,448.9 L227.55,460.5 L227.81,454.1 L228.07,462.5 L228.32,464.2 L228.58,451.8 L228.84,450.6 L229.10,450.0 L229.35,449.4 L229.60,433.4 L229.85,431.3 L230.10,430.3 L230.35,422.9 L230.60,436.0 L230.85,434.6 L231.10,432.1 L231.35,430.3 L231.60,425.2 L231.85,421.6 L232.10,421.0 M235.30,529.0 L235.54,529.3 L235.78,525.0 L236.02,533.4 L236.26,533.4 L236.50,533.4 L236.74,533.4 L236.98,533.4 L237.22,533.4 L237.46,533.4 L237.70,534.0 L237.95,523.1 L238.19,515.1 L238.44,512.6 L238.69,505.5 L238.93,504.6 L239.18,520.0 L239.43,529.8 L239.67,520.0 L239.92,519.8 L240.17,517.8 L240.41,514.3 L240.66,519.0 L240.91,514.1 L241.15,509.2 L241.40,504.0 L241.64,504.6 L241.88,513.8 L242.12,519.9 L242.36,511.4 L242.60,509.1 L242.84,504.6 L243.08,510.8 L243.32,513.2 L243.56,520.2 L243.80,520.5 L244.04,521.1 L244.28,521.1 L244.52,527.7 L244.76,536.5 L245.00,532.7 M246.30,616.0 L246.53,608.4 L246.75,595.4 L246.97,595.8 L247.20,608.0 M248.10,633.0 L248.36,645.1 L248.61,646.4 L248.87,646.4 L249.13,646.4 L249.39,646.4 L249.64,646.4 L249.90,647.0 M251.10,620.0 L251.36,622.5 L251.62,622.8 L251.88,618.4 L252.14,605.1 L252.40,601.6 L252.66,605.8 L252.91,599.6 L253.17,608.3 L253.43,601.0 L253.69,601.0 L253.94,601.0 L254.20,599.0 L254.46,601.0 L254.71,595.6 L254.97,597.1 L255.23,588.3 L255.49,585.3 L255.74,574.8 L256.00,567.0 L256.26,570.7 L256.52,581.5 L256.79,572.8 L257.05,570.2 L257.31,574.0 L257.58,566.8 L257.84,569.1 L258.10,560.8 M258.30,614.5 L258.56,612.3 L258.82,608.9 L259.08,610.9 L259.34,607.1 L259.60,592.3 L259.86,590.5 L260.12,576.3 L260.38,575.1 L260.64,579.3 L260.90,577.0 M261.50,551.0 L261.74,552.4 L261.99,543.8 L262.23,541.6 L262.47,551.7 L262.71,549.7 L262.96,550.8 L263.20,548.6 L263.44,537.0 L263.69,533.6 L263.93,536.3 L264.17,537.9 L264.41,536.9 L264.66,531.5 L264.90,530.9 L265.16,535.7 L265.42,542.6 L265.69,544.4 L265.95,544.4 L266.21,543.6 L266.48,544.4 L266.74,544.4 L267.00,545.0 L267.25,543.5 L267.50,538.7 L267.75,542.7 L268.00,544.4 L268.25,544.4 L268.50,542.7 L268.75,543.2 L269.00,541.3 L269.25,537.6 L269.50,537.0 L269.76,539.2 L270.01,549.8 L270.27,546.4 L270.53,559.9 L270.79,555.6 L271.04,561.4 L271.30,562.0 L271.54,561.4 L271.78,561.4 L272.02,561.4 L272.26,561.4 L272.50,561.4 L272.74,561.4 L272.98,559.7 L273.22,561.4 L273.46,561.4 L273.70,543.7 L273.95,533.3 L274.20,529.0 L274.45,523.7 L274.70,523.4 L274.95,515.0 L275.20,521.8 L275.45,520.0 L275.70,514.8 L275.95,515.1 L276.20,514.4 L276.44,513.8 L276.68,511.5 L276.92,519.0 L277.16,521.8 L277.40,509.5 L277.65,510.1 L277.90,510.1 L278.15,510.4 L278.40,513.8 L278.65,519.9 L278.90,522.4 L279.14,521.8 L279.38,518.7 L279.61,510.6 L279.85,507.5 L280.09,507.4 L280.32,507.6 L280.56,512.7 L280.80,504.0 L281.04,509.3 L281.28,503.4 L281.52,499.6 L281.77,495.8 L282.01,503.4 L282.25,503.4 L282.49,503.4 L282.73,484.5 L282.98,480.4 L283.22,480.4 L283.46,474.3 L283.70,479.8 L283.96,479.2 L284.21,479.2 L284.47,474.3 L284.73,463.8 L284.99,460.2 L285.24,459.6 L285.50,473.7 L285.74,469.4 L285.98,463.6 L286.22,470.0 L286.46,469.1 L286.70,459.0 L286.94,464.9 L287.18,459.7 L287.42,447.4 L287.66,447.4 L287.90,446.8 L288.17,451.3 L288.43,458.4 L288.70,458.4 L288.97,458.4 L289.23,458.4 L289.50,459.0 L289.76,449.8 L290.02,450.2 L290.29,449.0 L290.55,450.4 L290.81,455.2 L291.08,447.0 L291.34,446.2 L291.60,427.2 L291.80,422.6 L292.00,416.0 L292.26,412.6 L292.51,406.8 L292.77,397.0 L293.03,397.0 L293.29,400.7 L293.54,395.4 L293.80,396.4 L294.06,390.4 L294.31,390.9 L294.57,382.5 L294.83,383.8 L295.09,381.0 L295.34,381.9 L295.60,376.3 L295.84,376.9 L296.08,376.9 L296.31,376.9 L296.55,385.7 L296.79,383.9 L297.02,389.9 L297.26,395.6 L297.50,398.8 L297.74,385.6 L297.98,385.6 L298.22,376.5 L298.46,382.4 L298.70,385.7 L298.94,387.7 L299.18,367.6 L299.42,369.7 L299.66,372.2 L299.90,361.0 L300.15,368.0 L300.40,368.8 L300.65,367.8 L300.90,363.1 L301.15,361.6 L301.40,361.6 L301.65,375.3 L301.90,377.0 L302.15,378.7 L302.40,374.4 M303.00,405.0 L303.30,410.3 L303.60,428.0 L303.84,423.7 L304.08,427.3 L304.32,416.7 L304.56,420.8 L304.80,418.1 L305.04,420.3 L305.28,417.2 L305.52,409.6 L305.76,414.5 L306.00,409.0 L306.25,410.9 L306.49,409.6 L306.74,412.1 L306.98,412.3 L307.23,417.2 L307.47,422.6 L307.72,420.7 L307.96,413.8 L308.21,419.8 L308.45,429.2 L308.70,437.0 L308.96,437.6 L309.23,438.3 L309.49,443.5 L309.75,448.1 L310.01,453.6 L310.27,453.9 L310.54,458.0 L310.80,467.0 L311.05,462.5 L311.31,451.5 L311.56,449.8 L311.82,450.2 L312.07,436.4 L312.33,430.7 L312.58,433.9 L312.84,431.9 L313.09,431.6 L313.35,427.8 L313.60,427.2 L313.86,441.0 L314.12,441.1 L314.38,437.4 L314.63,430.8 L314.89,438.6 L315.15,440.8 L315.41,436.7 L315.67,446.7 L315.93,448.6 L316.18,448.6 L316.44,448.4 L316.70,449.2 L316.96,454.5 L317.21,449.8 L317.47,454.2 L317.73,465.1 L317.99,473.2 L318.24,469.1 L318.50,465.0 L318.76,472.5 L319.01,480.4 L319.27,484.7 L319.53,484.7 L319.79,484.7 L320.04,484.7 L320.30,485.3 L320.54,484.7 L320.77,484.7 L321.01,484.7 L321.25,479.6 L321.49,479.1 L321.73,476.5 L321.96,461.8 L322.20,451.7 L322.44,437.8 L322.68,445.7 L322.92,434.6 L323.16,434.6 L323.40,441.5 L323.64,448.5 L323.88,451.1 L324.12,451.1 L324.36,442.6 L324.60,434.0 L324.85,434.6 L325.10,434.6 L325.35,444.4 L325.60,434.6 L325.85,436.0 L326.10,434.6 L326.35,436.1 L326.60,445.0 L326.85,441.1 L327.10,455.3 L327.36,453.4 L327.61,454.7 L327.87,454.7 L328.13,453.7 L328.39,448.7 L328.64,448.0 L328.90,447.4 L329.14,451.1 L329.38,467.0 L329.62,467.0 L329.86,467.0 L330.10,467.0 L330.34,466.6 L330.58,459.3 L330.82,455.2 L331.06,464.4 L331.30,467.6 L331.54,468.2 L331.77,470.8 L332.01,479.3 L332.25,482.2 L332.49,482.2 L332.73,482.2 L332.96,482.2 L333.20,482.8 L333.44,481.8 L333.68,475.7 L333.92,472.8 L334.16,471.2 L334.40,469.4 L334.66,472.9 L334.91,474.8 L335.17,489.3 L335.43,492.3 L335.69,490.6 L335.94,494.4 L336.20,495.0 L336.45,490.8 L336.70,494.4 L336.95,486.5 L337.20,469.4 L337.45,472.6 L337.70,483.2 L337.95,474.9 L338.20,472.0 L338.45,479.4 L338.70,468.8 L338.96,463.9 L339.21,456.8 L339.47,456.7 L339.73,455.9 L339.99,455.9 L340.24,455.9 L340.50,455.3 L340.75,454.9 L341.00,448.0 L341.25,448.0 L341.50,448.0 L341.75,448.0 L342.00,448.0 L342.25,448.0 L342.50,448.0 L342.75,448.0 L343.00,447.4 L343.26,448.0 L343.51,448.0 L343.77,456.7 L344.03,459.6 L344.29,459.3 L344.54,459.6 L344.80,460.2 L345.06,459.6 L345.31,459.6 L345.57,459.6 L345.83,459.6 L346.09,459.6 L346.34,459.6 L346.60,448.0 L346.84,448.6 L347.08,449.1 L347.32,454.2 L347.56,468.7 L347.80,458.0 L348.06,442.8 L348.32,443.9 L348.58,442.1 L348.84,439.3 L349.10,436.4 M349.70,490.2 L349.94,486.4 L350.18,488.3 L350.42,483.1 L350.66,481.4 L350.90,487.5 L351.14,475.6 L351.38,466.3 L351.62,466.3 L351.86,460.4 L352.10,455.3 L352.34,465.7 L352.58,465.7 L352.81,463.5 L353.05,465.7 L353.29,465.7 L353.52,465.7 L353.76,465.7 L354.00,466.3 L354.25,459.4 L354.51,465.7 L354.76,465.7 L355.02,465.7 L355.27,465.7 L355.53,461.1 L355.78,454.4 L356.04,452.7 L356.29,465.7 L356.55,449.8 L356.80,449.2 L357.06,460.3 L357.31,467.2 L357.57,477.4 L357.82,477.4 L358.08,477.4 L358.34,477.4 L358.59,477.4 L358.85,477.4 L359.11,477.4 L359.36,477.4 L359.62,477.4 L359.88,477.4 L360.13,473.7 L360.39,472.7 L360.64,475.3 L360.90,478.0 L361.15,477.4 L361.41,477.4 L361.66,473.2 L361.92,473.7 L362.17,476.6 L362.43,468.6 L362.68,456.3 L362.94,451.1 L363.19,453.1 L363.45,458.4 L363.70,450.5 L363.94,451.1 L364.18,451.1 L364.41,455.6 L364.65,451.1 L364.89,451.1 L365.12,451.1 L365.36,461.7 L365.60,468.8 L365.84,457.9 L366.08,458.2 L366.32,453.2 L366.56,449.9 L366.80,445.6 L367.04,445.6 L367.28,445.6 L367.52,445.6 L367.76,445.6 L368.00,445.0 L368.25,445.6 L368.50,445.6 L368.75,445.6 L369.00,446.7 L369.25,452.5 L369.50,458.4 L369.75,458.4 L370.00,458.4 L370.25,456.3 L370.50,459.0 L370.75,448.4 L370.99,458.4 L371.24,457.7 L371.49,458.4 L371.74,451.2 L371.98,449.2 L372.23,444.1 L372.48,453.5 L372.72,456.8 L372.97,450.0 L373.22,439.4 L373.46,439.4 L373.71,439.4 L373.96,439.4 L374.21,439.4 L374.45,439.4 L374.70,438.8 L374.94,439.7 L375.19,440.7 L375.43,442.4 L375.68,439.4 L375.92,445.6 L376.17,453.4 L376.41,446.3 L376.66,452.0 L376.90,465.1 L377.15,464.5 L377.39,464.5 L377.64,464.5 L377.88,464.5 L378.13,459.0 L378.37,451.5 L378.62,440.7 L378.86,440.7 L379.11,440.7 L379.35,440.7 L379.60,440.1 L379.86,440.7 L380.12,440.7 L380.38,440.7 L380.63,440.7 L380.89,443.7 L381.15,445.0 L381.41,445.0 L381.67,445.0 L381.93,445.0 L382.18,445.0 L382.44,442.9 L382.70,445.6 L382.94,450.4 L383.19,456.4 L383.43,458.0 L383.68,451.9 L383.92,446.2 L384.17,446.2 L384.41,454.5 L384.66,465.6 L384.90,472.5 L385.14,470.1 L385.39,469.9 L385.63,470.7 L385.87,471.9 L386.11,475.9 L386.36,462.6 L386.60,462.0 L386.87,469.5 L387.13,471.0 L387.40,479.4 L387.67,482.9 L387.93,482.9 L388.20,483.5 L388.44,482.3 L388.68,482.9 L388.92,482.0 L389.16,468.9 L389.40,470.2 L389.64,473.3 L389.88,472.6 L390.12,473.7 L390.36,469.2 L390.60,462.7 L390.85,462.1 L391.10,457.5 L391.35,455.6 L391.60,462.1 L391.85,462.1 L392.10,462.1 L392.35,460.2 L392.60,457.7 L392.85,459.8 L393.10,451.7 L393.36,448.6 L393.61,437.6 L393.87,437.6 L394.13,428.2 L394.39,431.5 L394.64,439.6 L394.90,437.0 L395.14,440.8 L395.38,436.4 L395.62,435.0 L395.86,430.0 L396.10,421.0 L396.35,428.6 L396.60,433.5 L396.85,425.1 L397.10,420.4 L397.35,420.4 L397.60,415.6 L397.85,418.3 L398.10,408.0 L398.35,415.0 L398.60,415.0 L398.83,414.4 L399.07,411.2 L399.30,412.4 L399.53,407.9 L399.77,405.1 L400.00,400.0 L400.27,401.8 L400.53,393.2 L400.80,394.4 L401.07,399.1 L401.33,392.8 L401.60,390.0 L401.86,384.9 L402.11,381.5 L402.37,381.8 L402.63,378.0 L402.89,370.3 L403.14,369.1 L403.40,368.5 L403.66,372.5 L403.92,379.2 L404.18,368.5 L404.44,380.1 L404.70,380.7 L404.94,372.2 L405.18,366.4 L405.42,366.4 L405.66,369.3 L405.90,363.6 L406.14,364.2 L406.38,364.2 L406.62,364.2 L406.86,364.2 L407.10,364.2 L407.34,364.2 L407.58,357.5 L407.82,363.0 L408.06,355.8 L408.30,364.8 L408.56,357.5 L408.82,352.2 L409.08,343.2 L409.34,341.4 L409.60,340.3 L409.85,340.8 L410.11,338.7 L410.36,337.2 L410.62,333.8 L410.87,339.7 L411.12,335.8 L411.38,334.3 L411.63,332.2 L411.88,326.4 L412.14,324.3 L412.39,319.6 L412.65,319.6 L412.90,319.0 M413.80,352.0 L414.04,349.5 L414.27,339.9 L414.51,332.4 L414.75,332.8 L414.99,327.4 L415.23,323.8 L415.46,327.5 L415.70,323.2 L415.94,323.8 L416.18,323.8 L416.42,335.3 L416.66,341.6 L416.90,342.2 L417.16,327.8 L417.42,329.4 L417.69,339.2 L417.95,329.8 L418.21,314.1 L418.48,316.9 L418.74,312.5 L419.00,309.8 L419.24,310.4 L419.49,310.4 L419.73,310.7 L419.98,319.3 L420.22,323.9 L420.47,322.2 L420.71,331.6 L420.96,332.9 L421.20,339.1 L421.46,327.3 L421.73,326.5 L421.99,326.3 L422.25,329.9 L422.51,324.8 L422.77,322.5 L423.04,314.6 L423.30,314.0 L423.54,320.6 L423.79,329.4 L424.03,328.0 L424.28,320.7 L424.52,321.5 L424.77,321.3 L425.01,317.3 L425.26,322.8 L425.50,330.6 L425.76,334.8 L426.01,344.0 L426.27,345.2 L426.53,343.0 L426.79,340.5 L427.04,339.5 L427.30,345.8 L427.54,345.2 L427.78,345.2 L428.02,349.2 L428.26,339.9 L428.50,335.5 L428.77,352.0 L429.03,361.2 L429.30,361.7 L429.57,361.7 L429.83,361.7 L430.10,362.3 L430.35,361.7 L430.59,361.7 L430.84,361.7 L431.08,356.9 L431.33,346.7 L431.57,337.5 L431.82,338.2 L432.06,337.3 L432.31,342.7 L432.55,344.6 L432.80,336.7 L433.06,335.3 L433.32,332.6 L433.59,333.7 L433.85,336.1 L434.11,332.6 L434.38,334.7 L434.64,335.6 L434.90,332.0 L435.14,336.9 L435.39,344.7 L435.63,345.7 L435.88,344.1 L436.12,356.0 L436.37,359.2 L436.61,358.2 L436.86,364.5 L437.10,357.5 L437.34,366.9 L437.58,366.5 L437.82,372.5 L438.06,369.3 L438.30,373.3 L438.57,379.6 L438.83,378.5 L439.10,370.3 L439.37,382.4 L439.63,378.2 L439.90,388.6 L440.15,383.4 L440.39,372.6 L440.64,382.8 L440.88,378.2 L441.13,381.8 L441.37,388.0 L441.62,377.8 L441.86,376.7 L442.11,372.6 L442.35,373.7 L442.60,372.0 L442.90,372.6 L443.20,378.2 L443.45,377.6 L443.70,372.6 L443.95,372.0 L444.20,364.0 L444.45,359.3 L444.70,359.3 L444.95,359.3 L445.20,359.3 L445.45,360.1 L445.70,361.5 L445.95,362.0 L446.20,358.7 L446.45,347.4 L446.70,351.5 L446.95,358.1 L447.20,358.1 L447.45,353.4 L447.70,349.9 L447.95,354.9 L448.20,353.6 L448.45,343.5 L448.70,339.1 L448.94,334.9 L449.18,334.5 L449.42,329.4 L449.66,325.0 L449.90,335.6 L450.14,338.5 L450.38,333.8 L450.62,328.1 L450.86,326.0 L451.10,324.4 L451.34,314.9 L451.58,321.0 L451.81,313.4 L452.05,314.7 L452.29,319.4 L452.52,316.9 L452.76,313.4 L453.00,312.8 L453.27,323.8 L453.53,319.4 L453.80,320.8 L454.07,320.2 L454.33,320.2 L454.60,320.2 L454.87,317.1 L455.13,313.1 L455.40,308.6 L455.64,320.2 L455.89,309.9 L456.13,308.0 L456.37,308.0 L456.61,308.0 L456.86,308.0 L457.10,300.8 L457.35,308.0 L457.61,300.2 L457.86,300.2 L458.12,300.2 L458.37,300.2 L458.63,300.2 L458.88,300.2 L459.14,296.2 L459.39,299.7 L459.65,300.2 L459.90,289.8 L460.16,292.9 L460.42,304.2 L460.69,300.0 L460.95,296.5 L461.21,307.9 L461.48,308.8 L461.74,308.8 L462.00,309.4 L462.25,308.8 L462.51,303.8 L462.76,303.8 L463.02,305.2 L463.27,308.6 L463.53,304.9 L463.78,299.8 L464.04,298.5 L464.29,296.4 L464.55,296.1 L464.80,291.0 M466.50,322.0 L466.75,321.4 L467.00,321.4 L467.25,321.4 L467.50,321.4 L467.75,321.4 L468.00,321.4 L468.25,303.8 L468.50,303.8 L468.75,305.6 L469.00,318.0 L469.25,309.7 L469.50,309.4 L469.75,310.8 L470.00,303.2 L470.26,316.0 L470.52,320.2 L470.78,320.2 L471.04,319.1 L471.30,320.8 L471.54,320.2 L471.79,320.2 L472.03,325.1 L472.27,313.9 L472.51,316.3 L472.76,313.5 L473.00,307.0 L473.27,313.7 L473.55,316.9 L473.83,321.4 L474.10,325.7 L474.35,314.2 L474.60,319.1 L474.85,311.9 L475.10,315.6 L475.35,316.3 L475.60,312.5 L475.85,309.4 L476.10,305.0 L476.34,294.8 L476.58,294.9 L476.82,300.2 L477.06,291.5 L477.30,283.7 L477.56,288.0 L477.81,290.4 L478.07,276.7 L478.33,276.7 L478.59,273.3 L478.84,276.9 L479.10,271.5 L479.35,272.5 L479.60,270.0 L479.85,270.9 L480.10,270.9 L480.35,270.9 L480.60,270.9 L480.85,270.9 L481.10,270.9 L481.35,273.4 L481.60,265.3 L481.86,265.9 L482.11,267.2 L482.37,265.9 L482.63,269.2 L482.89,274.8 L483.14,271.9 L483.40,277.6 L483.64,277.0 L483.88,277.0 L484.12,276.3 L484.36,276.0 L484.60,267.3 L484.84,265.5 L485.08,263.5 L485.32,264.7 L485.56,267.2 L485.80,262.9 L486.05,262.3 L486.29,262.3 L486.54,262.3 L486.78,262.1 L487.03,262.3 L487.27,250.6 L487.52,250.6 L487.76,250.6 L488.01,250.6 L488.25,250.6 L488.50,250.0 L488.73,264.4 L488.97,268.4 L489.20,257.9 L489.43,263.9 L489.67,263.6 L489.90,269.0 L490.16,264.3 L490.42,256.5 L490.69,251.5 L490.95,258.4 L491.21,260.7 L491.48,257.4 L491.74,257.4 L492.00,256.8 M493.20,292.2 L493.45,297.9 L493.70,296.6 L493.95,296.4 L494.20,312.0 M494.90,339.0 L495.15,338.4 L495.40,338.4 L495.65,338.4 L495.90,335.7 L496.15,328.9 L496.40,319.6 L496.62,315.6 L496.85,318.7 L497.07,311.1 L497.30,305.5 L497.54,310.4 L497.79,316.9 L498.03,318.2 L498.27,319.4 L498.51,318.2 L498.76,319.7 L499.00,330.0 M499.90,289.8 L500.14,282.6 L500.38,279.6 L500.62,276.9 L500.86,276.9 L501.10,276.9 L501.34,276.9 L501.58,279.3 L501.82,273.0 L502.06,272.1 L502.30,276.3 L502.53,266.7 L502.77,275.7 L503.00,271.9 L503.23,273.4 L503.47,266.5 L503.70,265.9 L503.94,264.2 L504.19,270.2 L504.43,260.5 L504.68,258.9 L504.92,265.3 L505.17,260.0 L505.41,260.9 L505.66,262.4 L505.90,257.3 L506.15,257.9 L506.40,261.9 L506.65,268.2 L506.90,270.2 L507.15,270.2 L507.40,261.0 L507.65,260.0 L507.90,270.8 L508.16,270.2 L508.42,267.6 L508.68,252.6 L508.94,250.3 L509.20,250.3 L509.46,250.3 L509.72,250.3 L509.98,250.3 L510.24,250.3 L510.50,249.7 L510.75,260.6 L511.00,252.8 L511.25,258.2 L511.50,263.4 L511.75,255.1 L512.00,266.0 L512.26,249.7 L512.51,242.4 L512.77,247.9 L513.02,251.9 L513.28,249.4 L513.53,253.7 L513.79,256.6 L514.04,243.6 L514.30,241.8 L514.54,241.2 L514.79,241.2 L515.03,241.2 L515.28,241.2 L515.52,241.2 L515.77,241.2 L516.01,241.2 L516.26,238.3 L516.50,232.0 L516.75,233.3 L517.00,234.4 L517.25,233.3 L517.50,232.6 L517.75,232.6 L518.00,230.1 L518.25,234.4 L518.50,235.0 L518.74,230.1 L518.99,231.6 L519.23,234.4 L519.47,234.4 L519.71,234.4 L519.96,226.6 L520.20,221.9 L520.47,228.2 L520.73,227.4 L521.00,227.4 L521.27,227.4 L521.53,227.4 L521.80,228.0 L522.05,227.4 L522.30,214.6 L522.55,214.6 L522.80,214.6 L523.05,214.6 L523.30,214.6 L523.55,218.4 L523.80,214.0 L524.04,223.7 L524.27,223.1 L524.51,223.7 L524.75,223.7 L524.99,223.7 L525.23,223.7 L525.46,223.7 L525.70,224.3 L525.96,217.0 L526.21,217.0 L526.47,219.8 L526.73,217.0 L526.99,221.9 L527.24,217.0 L527.50,216.4 L527.74,217.0 L527.98,220.4 L528.22,220.4 L528.46,220.4 L528.70,221.0 L528.96,220.4 L529.22,222.5 L529.48,216.9 L529.74,210.3 L530.00,209.7 L530.24,220.3 L530.48,212.7 L530.72,210.3 L530.96,210.3 L531.20,226.8 L531.47,232.2 L531.73,234.1 L532.00,234.7 L532.24,224.7 L532.49,230.7 L532.73,225.5 L532.98,217.8 L533.22,229.5 L533.47,217.2 L533.71,225.0 L533.96,224.4 L534.20,215.8 L534.44,215.2 L534.68,213.9 L534.91,213.9 L535.15,213.9 L535.39,213.9 L535.62,213.9 L535.86,213.9 L536.10,213.3 L536.34,215.2 L536.58,213.9 L536.82,213.9 L537.06,213.9 L537.30,213.9 L537.54,213.9 L537.78,213.9 L538.02,213.9 L538.26,213.9 L538.50,214.0 L538.76,229.4 L539.01,229.4 L539.27,229.4 L539.53,229.4 L539.79,229.4 L540.04,229.4 L540.30,230.0 L540.54,229.4 L540.78,243.3 L541.02,236.0 L541.26,228.6 L541.50,228.0 L541.76,241.9 L542.02,241.5 L542.28,230.6 L542.54,237.4 L542.80,243.9 L543.06,253.1 L543.31,253.1 L543.57,253.1 L543.83,253.1 L544.09,253.1 L544.34,264.0 L544.60,253.7 L544.84,250.4 L545.08,258.4 L545.31,265.0 L545.55,260.9 L545.79,267.4 L546.02,272.4 L546.26,277.4 L546.50,278.1 L546.73,287.0 L546.97,287.8 L547.20,294.0 M548.20,266.3 L548.46,266.5 L548.73,272.6 L548.99,264.0 L549.25,259.8 L549.51,260.4 L549.77,256.4 L550.04,257.4 L550.30,252.7 L550.54,252.1 L550.79,252.1 L551.03,244.1 L551.28,247.0 L551.52,252.1 L551.77,240.6 L552.01,240.6 L552.26,235.1 L552.50,240.0 L552.76,239.4 L553.01,239.4 L553.27,229.6 L553.53,229.6 L553.79,232.3 L554.04,232.0 L554.30,229.0 L554.55,229.6 L554.80,239.4 L555.05,236.9 L555.30,229.6 L555.55,236.4 L555.80,240.0 L556.04,239.4 L556.28,239.4 L556.52,239.4 L556.77,239.4 L557.01,239.4 L557.25,239.4 L557.49,239.4 L557.73,239.4 L557.98,239.4 L558.22,243.0 L558.46,226.8 L558.70,225.2 L558.95,225.8 L559.20,232.4 L559.45,236.2 L559.70,234.9 L559.95,234.0 L560.20,243.6 L560.46,232.9 L560.71,229.7 L560.97,230.4 L561.23,230.4 L561.49,230.4 L561.74,230.4 L562.00,229.8 L562.25,237.3 L562.49,234.8 L562.74,236.9 L562.98,241.7 L563.23,249.1 L563.47,249.1 L563.72,257.7 L563.96,256.9 L564.21,261.4 L564.45,261.4 L564.70,262.0 L564.94,261.4 L565.18,261.4 L565.41,261.4 L565.65,261.4 L565.89,246.2 L566.12,234.6 L566.36,232.3 L566.60,231.7 L566.84,232.3 L567.08,238.6 L567.32,234.6 L567.56,232.3 L567.80,232.0 L568.03,242.5 L568.27,233.9 L568.50,235.7 L568.73,241.6 L568.97,245.6 L569.20,248.5 L569.45,247.9 L569.70,245.3 L569.95,232.8 L570.20,233.2 L570.45,233.2 L570.70,233.2 L570.95,233.2 L571.20,233.2 L571.45,235.0 L571.70,232.6 L571.96,224.4 L572.21,222.6 L572.47,225.3 L572.73,224.8 L572.99,222.6 L573.24,222.6 L573.50,222.0 L573.76,237.5 L574.02,243.0 L574.28,237.5 L574.54,238.4 L574.80,243.6 L575.04,244.9 L575.29,256.1 L575.53,255.8 L575.77,256.1 L576.01,256.1 L576.26,256.1 L576.50,256.7 L576.76,251.4 L577.01,241.4 L577.27,242.2 L577.52,244.1 L577.78,248.9 L578.03,244.8 L578.29,248.1 L578.54,244.6 L578.80,240.8 L579.06,242.8 L579.31,247.0 L579.57,250.8 L579.83,250.1 L580.09,247.0 L580.34,256.6 L580.60,265.0 L580.84,267.4 L581.08,266.6 L581.32,276.1 L581.56,285.1 L581.80,285.7 L582.06,285.1 L582.32,282.8 L582.58,274.8 L582.84,274.4 L583.10,279.2 L583.36,271.3 L583.62,271.3 L583.88,271.3 L584.14,274.6 L584.40,270.7 L584.67,278.6 L584.95,280.1 L585.23,290.5 L585.50,290.8 L585.76,281.7 L586.01,276.1 L586.27,281.7 L586.53,277.5 L586.79,291.4 L587.04,304.8 L587.30,317.0 L587.56,314.0 L587.82,314.5 L588.08,308.7 L588.34,307.3 L588.60,303.0 M590.40,336.0 L590.64,333.4 L590.88,336.6 L591.12,344.4 L591.36,348.0 L591.60,350.7 L591.85,359.0 L592.10,371.3 L592.35,370.7 L592.60,370.7 L592.85,366.6 L593.10,370.7 L593.35,370.7 L593.60,367.0 L593.85,370.7 L594.10,360.0 L594.40,338.5 L594.64,344.2 L594.88,329.3 L595.12,329.3 L595.36,331.1 L595.60,328.7 L595.83,329.3 L596.05,331.9 L596.27,335.9 L596.50,336.6 L596.76,326.9 L597.01,334.7 L597.27,336.0 L597.53,336.0 L597.79,324.6 L598.04,316.0 L598.30,309.0 L598.54,310.2 L598.77,308.4 L599.01,308.4 L599.25,308.4 L599.49,307.1 L599.73,305.9 L599.96,298.8 L600.20,299.3 L600.46,306.6 L600.71,298.7 L600.97,298.7 L601.23,298.7 L601.49,291.4 L601.74,298.7 L602.00,290.8 L602.24,291.4 L602.48,291.4 L602.72,295.3 L602.96,292.8 L603.20,291.4 L603.44,302.4 L603.68,304.4 L603.92,299.9 L604.16,300.7 L604.40,303.0 L604.66,303.6 L604.92,303.0 L605.18,304.1 L605.44,312.2 L605.70,320.7 L605.94,319.5 L606.18,311.5 L606.42,310.0 L606.66,303.0 L606.90,302.4 L607.16,311.6 L607.42,315.0 L607.69,328.7 L607.95,325.8 L608.21,325.4 L608.48,326.1 L608.74,328.7 L609.00,329.3 L609.27,317.0 L609.53,301.2 L609.80,301.2 L610.07,301.2 L610.33,301.2 L610.60,300.6 L610.84,290.8 L611.08,298.3 L611.32,297.3 L611.56,300.0 L611.80,293.5 L612.04,299.9 L612.28,300.0 L612.52,300.0 L612.76,293.4 L613.00,289.0 L613.25,289.6 L613.49,302.4 L613.74,302.4 L613.99,302.4 L614.23,302.4 L614.48,302.4 L614.73,302.4 L614.97,302.4 L615.22,302.4 L615.47,302.4 L615.71,302.4 L615.96,302.4 L616.21,302.4 L616.45,302.4 L616.70,303.0 L616.96,296.5 L617.21,301.2 L617.47,298.7 L617.73,302.4 L617.99,299.6 L618.24,302.9 L618.50,289.0 L618.77,291.6 L619.03,296.6 L619.30,297.6 L619.57,302.3 L619.83,301.2 L620.10,305.5 L620.36,300.3 L620.62,299.7 L620.89,297.1 L621.15,289.6 L621.41,286.2 L621.68,285.8 L621.94,277.1 L622.20,276.5 L622.44,283.4 L622.68,279.8 L622.92,281.8 L623.16,284.2 L623.40,277.1 L623.64,284.0 L623.88,296.3 L624.12,290.6 L624.36,303.8 L624.60,296.9 L624.84,312.1 L625.08,304.2 L625.31,317.1 L625.55,323.0 L625.79,318.8 L626.02,317.9 L626.26,315.4 L626.50,314.0 L626.73,324.5 L626.95,326.2 L627.17,321.2 L627.40,326.8 L627.66,328.6 L627.92,327.7 L628.19,336.6 L628.45,323.6 L628.71,323.9 L628.98,322.6 L629.24,326.1 L629.50,315.2 L629.80,337.2 L630.05,329.7 L630.31,330.3 L630.56,332.6 L630.82,321.6 L631.07,325.9 L631.33,327.6 L631.58,334.5 L631.84,317.9 L632.09,323.1 L632.35,318.6 L632.60,317.0 L632.90,323.3 L633.20,336.0 M634.30,365.8 L634.54,361.6 L634.78,354.9 L635.02,344.9 L635.26,343.1 L635.50,354.4 L635.74,353.6 L635.98,353.6 L636.22,353.6 L636.46,354.8 L636.70,353.0 L636.94,353.6 L637.18,353.6 L637.41,355.5 L637.65,354.2 L637.89,361.9 L638.12,360.7 L638.36,374.3 L638.60,375.6 L638.84,384.6 L639.08,386.9 L639.32,393.3 L639.56,399.9 L639.80,393.9 L640.06,400.3 L640.31,396.0 L640.57,410.7 L640.83,420.5 L641.09,424.9 L641.34,434.0 L641.60,420.0 M643.20,487.3 L643.43,496.4 L643.65,490.7 L643.88,490.3 L644.10,506.9 M646.10,499.6 L646.34,492.4 L646.59,488.9 L646.83,487.0 L647.08,479.7 L647.32,478.3 L647.57,486.9 L647.81,497.3 L648.06,488.0 L648.30,473.9 M648.90,432.3 L649.16,439.8 L649.42,443.0 L649.68,440.4 L649.94,446.3 L650.20,453.1 M650.80,423.2 L651.04,426.5 L651.29,420.1 L651.53,413.7 L651.78,412.2 L652.02,411.6 L652.27,418.3 L652.51,418.3 L652.76,416.3 L653.00,411.0 L653.25,415.5 L653.50,416.7 L653.75,423.5 L654.00,432.4 L654.25,441.1 L654.50,435.0 L654.74,438.4 L654.98,444.7 L655.22,441.9 L655.46,450.3 L655.70,455.0 L655.95,454.4 L656.20,454.4 L656.45,451.9 L656.70,454.4 L656.95,454.4 L657.20,454.4 L657.45,454.4 L657.70,454.4 L657.95,454.4 L658.20,454.4 L658.45,454.4 L658.70,448.2 L659.00,436.3 L659.30,436.0 L659.53,432.4 L659.77,417.9 L660.00,415.9 L660.25,427.8 L660.50,425.5 L660.75,421.5 L661.00,418.3 L661.25,407.5 L661.50,407.6 L661.75,407.3 L662.00,406.7 L662.27,416.0 L662.53,415.6 L662.80,416.2 L663.07,417.7 L663.33,417.7 L663.60,418.3 L663.87,414.8 L664.13,406.9 L664.40,406.1 L664.67,406.8 L664.93,406.1 L665.20,405.5 L665.46,411.6 L665.72,411.4 L665.98,411.6 L666.24,406.6 L666.50,413.0 L666.73,408.1 L666.97,411.9 L667.20,412.4 L667.43,408.2 L667.67,401.2 L667.90,400.6 L668.16,401.2 L668.41,401.2 L668.67,408.0 L668.93,407.8 L669.19,423.0 L669.44,420.1 L669.70,425.7 L669.95,423.1 L670.20,405.5 L670.45,405.5 L670.70,405.5 L670.95,405.6 L671.20,404.9 L671.47,405.5 L671.73,405.5 L672.00,405.5 L672.27,411.6 L672.53,412.8 L672.80,424.5 L673.06,435.7 L673.31,435.7 L673.57,445.2 L673.83,437.5 L674.09,442.9 L674.34,441.3 L674.60,445.8 L674.87,448.2 L675.13,448.2 L675.40,448.2 L675.67,448.2 L675.93,448.2 L676.20,448.8 L676.43,448.2 L676.65,448.2 L676.88,438.7 L677.10,436.0 L677.36,443.1 L677.61,443.5 L677.87,442.2 L678.13,444.8 L678.39,447.8 L678.64,444.4 L678.90,451.9 L679.16,443.8 L679.42,452.5 L679.67,456.2 L679.93,456.2 L680.19,456.2 L680.45,452.5 L680.71,452.5 L680.97,452.5 L681.23,452.5 L681.48,452.5 L681.74,460.3 L682.00,456.8 L682.30,463.3 L682.60,471.5 L682.86,478.4 L683.11,484.3 L683.37,478.6 L683.63,484.3 L683.89,484.3 L684.14,484.3 L684.40,484.9 L684.64,483.2 L684.88,476.6 L685.12,476.6 L685.36,476.6 L685.60,476.0 L685.85,476.6 L686.10,476.6 L686.35,488.5 L686.60,492.3 L686.85,492.3 L687.10,492.9 L687.37,492.3 L687.63,480.7 L687.90,465.5 L688.17,469.4 L688.43,464.7 L688.70,464.1 L688.94,465.7 L689.18,478.6 L689.42,483.1 L689.66,483.1 L689.90,483.7 L690.14,483.1 L690.39,483.1 L690.63,483.1 L690.88,465.3 L691.12,459.3 L691.37,453.5 L691.61,449.8 L691.86,449.4 L692.10,448.8 M693.00,473.9 L693.24,473.8 L693.48,475.6 L693.72,476.4 L693.96,478.5 L694.20,489.8 L694.44,489.2 L694.68,489.2 L694.92,489.2 L695.16,489.2 L695.40,488.0 L695.64,478.8 L695.88,476.7 L696.12,474.5 L696.36,471.4 L696.60,473.9 L696.84,473.3 L697.08,473.3 L697.31,473.3 L697.55,471.4 L697.79,471.4 L698.02,471.4 L698.26,474.2 L698.50,470.8 L698.76,480.8 L699.01,478.7 L699.27,484.9 L699.53,484.9 L699.79,484.9 L700.04,484.9 L700.30,485.5 L700.54,481.7 L700.78,484.9 L701.02,484.9 L701.26,482.7 L701.50,478.3 L701.74,475.4 L701.98,472.1 L702.22,467.7 L702.46,473.8 L702.70,471.5 L702.95,470.9 L703.20,470.2 L703.45,466.3 L703.70,463.5 L703.95,463.5 L704.20,462.9 L704.46,463.5 L704.71,463.5 L704.97,468.5 L705.23,473.0 L705.49,484.7 L705.74,491.9 L706.00,494.7 L706.27,487.6 L706.53,494.1 L706.80,494.1 L707.07,491.8 L707.33,484.0 L707.60,473.9 L707.85,481.5 L708.10,481.6 L708.35,461.6 L708.60,460.4 L708.85,460.4 L709.10,459.8 M710.10,486.1 L710.34,488.0 L710.58,502.5 L710.82,505.1 L711.06,502.5 L711.30,507.0 M713.10,473.9 L713.36,472.3 L713.62,467.3 L713.88,468.8 L714.14,467.7 L714.40,461.7 L714.64,455.4 L714.88,461.2 L715.12,467.2 L715.36,457.6 L715.60,453.1 L715.84,452.5 L716.08,452.5 L716.32,452.5 L716.56,452.5 L716.80,451.9 L717.04,451.3 L717.29,451.3 L717.53,450.7 L717.78,446.8 L718.02,444.5 L718.27,448.1 L718.51,448.6 L718.76,442.8 L719.00,440.9 L719.25,455.6 L719.50,453.3 L719.75,445.7 L720.00,448.1 L720.25,441.7 L720.50,461.7 L720.73,465.1 L720.95,468.1 L721.17,469.7 L721.40,482.5 L721.66,474.4 L721.92,473.0 L722.19,462.3 L722.45,468.0 L722.71,467.2 L722.98,477.9 L723.24,474.9 L723.50,466.6 L723.74,467.2 L723.98,470.6 L724.21,467.2 L724.45,469.9 L724.69,467.2 L724.92,467.2 L725.16,467.2 L725.40,473.9 L725.64,472.9 L725.88,481.6 L726.12,490.4 L726.36,490.4 L726.60,491.0 L726.84,496.1 L727.08,502.9 L727.32,495.7 L727.56,481.8 L727.80,482.5 M728.90,526.6 L729.16,520.8 L729.42,512.3 L729.69,503.0 L729.95,507.1 L730.21,508.9 L730.48,520.8 L730.74,501.9 L731.00,497.2 L731.24,497.8 L731.48,501.6 L731.72,509.4 L731.96,510.8 L732.20,511.9 L732.46,509.8 L732.71,509.3 L732.97,509.4 L733.23,512.5 L733.49,512.5 L733.74,519.7 L734.00,537.6 L734.24,537.0 L734.49,537.0 L734.73,537.0 L734.98,537.0 L735.22,530.2 L735.47,534.9 L735.71,530.9 L735.96,518.2 L736.20,516.8 L736.46,517.4 L736.72,520.0 L736.98,537.2 L737.23,535.3 L737.49,538.2 L737.75,548.2 L738.01,554.2 L738.27,559.0 L738.52,559.0 L738.78,559.0 L739.04,554.7 L739.30,559.6 M740.10,533.9 L740.40,522.9 L740.70,515.6 L740.95,511.8 L741.20,493.5 L741.46,486.4 L741.72,494.7 L741.98,487.3 L742.24,485.2 L742.50,475.1 L742.80,490.0 L743.10,488.6 L743.35,484.9 L743.60,469.5 L743.85,462.5 L744.10,458.6 L744.35,465.5 L744.60,471.0 L744.85,474.0 L745.10,470.5 L745.35,460.8 L745.60,464.4 L745.85,458.7 L746.10,458.0 L746.34,457.4 L746.58,452.9 L746.81,447.5 L747.05,442.7 L747.29,442.7 L747.52,442.7 L747.76,442.7 L748.00,442.1 L748.25,433.6 L748.50,433.6 L748.75,435.8 L749.00,438.3 L749.25,440.6 L749.50,444.1 L749.75,433.6 L750.00,433.0 L750.25,442.3 L750.50,442.9 L750.75,442.5 L751.00,449.5 L751.24,437.1 L751.48,439.9 L751.71,448.9 L751.95,448.9 L752.19,443.1 L752.42,446.8 L752.66,443.6 L752.90,437.8 L753.15,438.6 L753.39,438.4 L753.64,438.4 L753.89,438.4 L754.14,438.4 L754.38,438.4 L754.63,438.4 L754.88,438.4 L755.12,438.4 L755.37,442.9 L755.62,455.0 L755.86,453.0 L756.11,455.0 L756.36,447.0 L756.61,452.3 L756.85,455.0 L757.10,455.6 L757.35,457.5 L757.60,462.1 L757.85,459.6 L758.10,456.2 L758.35,463.1 L758.60,456.2 L758.85,456.2 L759.10,457.6 L759.35,457.9 L759.60,467.8 L759.84,478.6 L760.09,482.3 L760.33,485.5 L760.57,485.5 L760.81,485.5 L761.06,485.5 L761.30,485.5 L761.54,485.5 L761.79,482.7 L762.03,485.5 L762.27,485.5 L762.51,480.9 L762.76,484.4 L763.00,486.1 M764.20,455.6 L764.43,451.3 L764.65,451.3 L764.88,452.1 L765.10,450.7 L765.34,458.7 L765.58,453.9 L765.82,458.4 L766.06,457.8 L766.30,462.9 L766.54,460.0 L766.78,458.5 L767.02,452.3 L767.26,458.2 L767.50,455.0 L767.76,461.5 L768.02,464.7 L768.28,464.7 L768.54,462.7 L768.80,465.3 L769.10,461.4 L769.40,440.9 L769.66,437.4 L769.91,434.0 L770.17,434.9 L770.43,432.9 L770.69,432.9 L770.94,436.3 L771.20,432.3 L771.44,438.0 L771.68,435.5 L771.92,439.8 L772.16,440.3 L772.40,440.9 L772.65,439.6 L772.90,439.4 L773.15,437.3 L773.40,437.4 L773.65,438.6 L773.90,427.7 L774.15,425.1 L774.40,427.9 L774.65,435.4 L774.90,424.0 L775.16,424.6 L775.42,424.6 L775.68,424.6 L775.94,424.6 L776.20,424.6 L776.46,424.6 L776.72,435.4 L776.98,425.1 L777.24,435.4 L777.50,436.0 L777.77,435.4 L778.03,432.6 L778.30,435.4 L778.57,429.2 L778.83,418.0 L779.10,412.2 L779.40,410.8 L779.70,397.6 L779.94,401.0 L780.18,401.5 L780.42,403.2 L780.66,403.8 L780.90,408.6 M782.10,381.7 L782.34,370.9 L782.58,375.8 L782.82,368.1 L783.06,363.2 L783.30,367.0 L783.54,372.5 L783.77,379.5 L784.01,371.9 L784.25,372.1 L784.49,372.5 L784.73,370.5 L784.96,367.4 L785.20,357.2 L785.44,357.8 L785.68,366.2 L785.92,371.1 L786.16,372.5 L786.40,373.1 L786.64,372.5 L786.89,372.5 L787.13,368.5 L787.38,372.5 L787.62,372.9 L787.87,367.9 L788.11,360.5 L788.36,353.6 L788.60,353.0 M789.80,378.0 L790.06,377.4 L790.31,377.4 L790.57,377.4 L790.82,377.4 L791.08,359.6 L791.33,360.0 L791.59,355.2 L791.84,357.6 L792.10,357.2 L792.37,362.6 L792.63,365.5 L792.90,367.6 L793.10,356.8 L793.30,343.2 L793.56,336.4 L793.82,333.3 L794.08,335.2 L794.34,330.0 L794.60,328.6 L794.86,323.9 L795.11,314.5 L795.37,314.5 L795.63,314.5 L795.89,314.5 L796.14,319.4 L796.40,313.9 L796.70,325.5 L797.00,334.7 L797.26,330.2 L797.51,331.1 L797.77,332.3 L798.03,318.3 L798.29,323.7 L798.54,317.5 L798.80,307.8 L799.06,300.6 L799.32,296.6 L799.59,287.0 L799.85,291.7 L800.11,292.3 L800.38,287.0 L800.64,287.1 L800.90,286.4 L801.15,289.0 L801.40,297.7 L801.65,299.1 L801.90,299.2 M805.30,369.4 L805.55,373.4 L805.80,373.9 L806.05,360.3 L806.30,362.5 L806.55,353.6 L806.80,350.3 L807.05,350.3 L807.30,350.3 L807.55,350.3 L807.80,349.7 L808.04,353.1 L808.29,357.4 L808.53,359.9 L808.78,361.2 L809.02,367.0 L809.27,363.2 L809.51,365.9 L809.76,368.0 L810.00,374.3 L810.27,361.3 L810.53,357.8 L810.80,351.7 L811.06,354.7 L811.32,357.0 L811.59,356.8 L811.85,358.6 L812.11,360.2 L812.38,368.3 L812.64,369.0 L812.90,371.3 L813.15,363.1 L813.40,360.0 L813.65,363.7 L813.90,369.5 L814.15,361.0 L814.40,359.0 L814.65,355.5 L814.90,354.2 L815.14,354.8 L815.38,354.8 L815.62,356.9 L815.86,361.0 L816.10,371.3 L816.35,366.2 L816.60,360.3 L816.85,366.7 L817.10,370.7 L817.35,370.6 L817.60,363.3 L817.90,363.5 L818.20,348.7 L818.44,355.9 L818.68,357.0 L818.92,355.3 L819.16,353.4 L819.40,358.4 L819.63,360.0 L819.87,349.2 L820.10,345.8 L820.33,345.1 L820.57,336.5 L820.80,344.5 L821.04,348.7 L821.27,336.2 L821.51,348.1 L821.75,343.9 L821.99,343.9 L822.23,337.1 L822.46,327.9 L822.70,332.2 L822.94,343.9 L823.18,331.6 L823.42,322.2 L823.66,317.6 L823.90,323.7 L824.14,325.2 L824.38,317.6 L824.62,317.6 L824.86,317.6 L825.10,317.0 L825.33,319.1 L825.57,323.1 L825.80,329.0 L826.03,332.1 L826.27,333.6 L826.50,335.0 L826.77,322.4 L827.03,322.6 L827.30,317.0 L827.55,324.0 L827.80,334.4 L828.05,320.6 L828.30,320.0 L828.55,326.6 L828.80,324.9 L829.06,324.1 L829.31,330.3 L829.57,329.9 L829.83,327.4 L830.09,328.7 L830.34,332.4 L830.60,335.9 L830.88,341.2 L831.15,340.3 L831.43,336.5 L831.70,356.3 L831.95,354.0 L832.20,351.4 L832.45,349.8 L832.70,344.2 L832.95,332.4 L833.20,333.1 L833.45,342.7 L833.70,329.2 L833.94,329.2 L834.19,329.2 L834.43,329.2 L834.68,331.2 L834.92,332.2 L835.17,329.2 L835.41,329.2 L835.66,329.2 L835.90,328.6 L836.17,329.2 L836.43,329.2 L836.70,343.2 M837.10,374.3 L837.34,376.1 L837.58,383.9 L837.81,386.0 L838.05,384.9 L838.29,382.1 L838.52,371.3 L838.76,379.9 L839.00,386.6 L839.26,386.0 L839.51,386.0 L839.77,386.0 L840.03,386.0 L840.29,376.5 L840.54,372.1 L840.80,369.4 L841.05,372.1 L841.30,371.3 L841.55,370.3 L841.80,370.8 L842.05,372.7 L842.30,374.3 M842.80,333.5 L843.06,334.5 L843.32,325.9 L843.58,324.9 L843.84,324.9 L844.10,324.3 L844.34,325.6 L844.58,324.9 L844.82,332.9 L845.06,330.4 L845.30,331.0 L845.56,327.1 L845.81,321.7 L846.07,318.2 L846.33,318.2 L846.59,322.7 L846.84,320.4 L847.10,317.6 L847.34,326.7 L847.58,328.4 L847.82,328.8 L848.06,331.6 L848.30,332.2 L848.55,328.6 L848.80,329.1 L849.05,327.4 L849.30,316.3 L849.55,316.3 L849.80,315.7 L850.05,318.4 L850.31,319.9 L850.56,329.8 L850.82,321.6 L851.07,324.6 L851.33,316.3 L851.58,328.7 L851.84,325.1 L852.09,329.2 L852.35,326.1 L852.60,330.4 M853.90,301.7 L854.14,302.3 L854.38,307.6 L854.62,316.1 L854.86,309.1 L855.10,304.6 L855.34,302.3 L855.58,306.2 L855.82,302.3 L856.06,312.3 L856.30,315.1 L856.56,313.1 L856.81,314.5 L857.07,307.9 L857.33,307.5 L857.59,307.3 L857.84,313.3 L858.10,302.9 L858.34,310.3 L858.58,307.4 L858.81,307.4 L859.05,307.4 L859.29,307.4 L859.52,307.4 L859.76,307.4 L860.00,308.0 L860.26,307.4 L860.51,307.4 L860.77,307.4 L861.03,310.6 L861.29,301.8 L861.54,297.4 L861.80,296.8 L862.04,297.4 L862.28,303.5 L862.52,312.2 L862.76,312.6 L863.00,314.5 L863.24,301.0 L863.48,307.3 L863.71,301.3 L863.95,302.4 L864.19,308.1 L864.42,306.6 L864.66,307.2 L864.90,295.6 L865.20,286.4 L865.50,285.8 L865.74,291.5 L865.99,280.3 L866.23,283.4 L866.48,280.9 L866.72,282.0 L866.97,284.2 L867.21,285.2 L867.46,284.2 L867.70,279.7 L867.95,290.1 L868.20,290.1 L868.45,290.1 L868.70,290.1 L868.95,286.9 L869.20,284.8 L869.45,290.1 L869.70,290.7 L869.94,281.5 L870.18,281.5 L870.41,281.5 L870.65,283.5 L870.89,286.6 L871.12,290.1 L871.36,284.4 L871.60,280.9 L871.84,281.5 L872.08,281.5 L872.32,281.5 L872.56,285.2 L872.80,285.8 L873.06,285.2 L873.31,285.2 L873.57,284.9 L873.83,276.5 L874.09,274.8 L874.34,273.5 L874.60,272.9 L874.84,273.5 L875.08,273.5 L875.31,273.5 L875.55,273.5 L875.79,273.5 L876.02,273.5 L876.26,277.4 L876.50,278.0 L876.74,277.4 L876.98,277.4 L877.22,277.2 L877.46,270.2 L877.70,268.0 L877.94,268.0 L878.18,268.0 L878.42,268.0 L878.66,268.0 L878.90,267.4 L879.16,273.8 L879.42,278.0 L879.68,274.1 L879.94,270.6 L880.20,272.0 L880.43,279.3 L880.65,288.1 L880.88,290.1 L881.10,290.7 L881.34,283.0 L881.58,287.5 L881.82,282.4 L882.06,289.3 L882.30,277.2 L882.52,284.6 L882.75,287.4 L882.98,290.1 L883.20,290.1 L883.45,289.5 L883.70,289.5 L883.95,288.4 L884.20,279.5 L884.45,271.1 L884.70,271.1 L884.95,271.1 L885.20,271.1 L885.45,271.9 L885.70,273.6 L885.95,271.1 L886.20,270.5 L886.46,271.7 L886.72,271.1 L886.98,271.1 L887.23,271.6 L887.49,273.6 L887.75,271.1 L888.01,278.0 L888.27,271.1 L888.52,281.0 L888.78,287.6 L889.04,281.3 L889.30,290.7 L889.56,290.1 L889.81,290.1 L890.07,290.1 L890.33,290.1 L890.59,289.3 L890.84,280.4 L891.10,277.2 L891.33,284.1 L891.57,276.6 L891.80,276.6 L892.03,276.6 L892.27,276.6 L892.50,266.0 L892.77,255.5 L893.03,259.0 L893.30,258.5 L893.57,256.4 L893.83,250.8 L894.10,250.9 L894.36,242.5 L894.61,243.9 L894.87,243.1 L895.13,239.3 L895.39,243.0 L895.64,239.3 L895.90,238.7 L896.13,240.3 L896.37,239.4 L896.60,239.4 L896.83,239.4 L897.07,239.4 L897.30,240.0 L897.55,239.4 L897.80,232.7 L898.05,227.9 L898.30,226.5 L898.54,227.1 L898.78,229.5 L899.02,220.1 L899.26,229.9 L899.50,231.0 L899.75,230.4 L900.00,230.4 L900.25,230.4 L900.50,230.4 L900.75,230.4 L901.00,215.5 L901.27,216.5 L901.53,216.1 L901.80,214.8 L902.07,218.8 L902.33,218.1 L902.60,224.0 L902.84,219.0 L903.08,212.6 L903.32,212.1 L903.56,212.1 L903.80,199.6 L904.04,200.2 L904.27,212.5 L904.51,210.0 L904.75,210.6 L904.99,201.8 L905.23,206.0 L905.46,214.1 L905.70,215.5 L905.93,212.9 L906.17,211.5 L906.40,197.1 L906.63,199.1 L906.87,197.1 L907.10,196.5 L907.34,198.2 L907.58,198.7 L907.81,212.4 L908.05,217.9 L908.29,212.4 L908.52,215.7 L908.76,217.9 L909.00,218.5 L909.27,217.9 L909.53,217.9 L909.80,214.8 L910.07,207.8 L910.33,210.9 L910.60,204.4 L910.86,206.3 L911.11,196.7 L911.37,200.2 L911.63,199.3 L911.89,193.8 L912.14,190.8 L912.40,189.8 L912.67,188.5 L912.93,182.4 L913.20,173.3 L913.44,173.9 L913.68,176.0 L913.92,176.9 L914.16,186.8 L914.40,179.5 L914.64,178.9 L914.88,176.8 L915.11,167.8 L915.35,167.3 L915.59,168.5 L915.82,170.7 L916.06,169.4 L916.30,158.7 L916.56,160.2 L916.81,163.2 L917.07,175.0 L917.33,176.2 L917.59,177.6 L917.84,188.7 L918.10,189.5 M918.70,151.3 L918.96,153.7 L919.22,151.8 L919.48,137.2 L919.74,131.5 L920.00,135.5 L920.24,128.1 L920.48,131.8 L920.72,130.8 L920.96,126.9 L921.20,126.3 L921.44,123.8 L921.68,123.8 L921.92,123.8 L922.16,130.8 L922.40,139.1 L922.64,138.5 L922.88,137.2 L923.12,135.3 L923.36,128.8 L923.60,123.2 L923.84,129.0 L924.08,133.4 L924.32,123.1 L924.56,126.1 L924.80,139.1 L925.06,138.5 L925.32,128.5 L925.58,129.0 L925.84,125.8 L926.10,118.9 L926.33,127.3 L926.55,137.4 L926.77,135.4 L927.00,137.9 M927.90,112.2 L928.10,110.1 L928.30,105.8 L928.55,105.3 L928.80,96.5 L929.05,99.7 L929.30,91.1 L929.55,97.3 L929.79,97.9 L930.04,100.1 L930.28,98.2 L930.53,93.5 L930.77,91.7 L931.02,88.9 L931.26,89.5 L931.51,92.7 L931.75,91.9 L932.00,98.5 L932.25,95.4 L932.50,92.1 L932.75,86.3 L933.00,82.0 M936.70,97.2 L936.96,94.3 L937.21,94.8 L937.47,92.0 L937.73,87.1 L937.99,89.3 L938.24,80.6 L938.50,82.6 L938.80,79.3 L939.10,72.8 L939.35,72.4 L939.60,62.1 L939.85,59.3 L940.10,59.3 L940.35,59.3 L940.60,59.3 L940.85,59.3 L941.10,59.3 L941.35,59.3 L941.60,58.7 L941.84,68.4 L942.08,71.0 L942.32,71.0 L942.56,71.0 L942.80,71.6 L943.06,71.0 L943.32,71.0 L943.59,71.0 L943.85,71.0 L944.11,56.6 L944.38,53.9 L944.64,51.4 L944.90,50.8 L945.16,57.4 L945.42,58.4 L945.68,57.2 L945.94,66.3 L946.20,64.2 L946.46,73.7 L946.71,77.1 L946.97,77.1 L947.23,81.6 L947.49,93.0 L947.74,86.5 L948.00,93.6 M948.90,60.6 L949.14,62.5 L949.39,53.8 L949.63,55.9 L949.88,52.0 L950.12,52.0 L950.37,59.8 L950.61,52.0 L950.86,60.7 L951.10,51.4 L951.34,56.0 L951.58,63.6 L951.82,59.1 L952.06,63.6 L952.30,64.2 L952.54,54.9 L952.79,55.8 L953.03,50.2 L953.27,48.0 L953.51,47.1 L953.76,47.1 L954.00,46.5 L954.20,58.0 L954.40,66.7 L954.60,86.8 L954.84,83.7 L955.09,85.4 L955.33,85.3 L955.58,67.3 L955.82,63.5 L956.07,63.2 L956.31,78.0 L956.56,70.6 L956.80,65.5 L957.05,67.8 L957.30,77.5 L957.55,75.6 L957.80,80.0 L958.07,80.2 L958.35,70.6 L958.62,69.5 L958.90,65.5 L959.15,69.3 L959.40,75.5 L959.65,85.2 L959.90,81.3 L960.14,85.0 L960.38,97.9 L960.62,95.0 L960.86,97.9 L961.10,98.5 L961.34,108.7 L961.59,100.8 L961.83,101.0 L962.08,102.5 L962.32,103.7 L962.57,99.1 L962.81,99.1 L963.06,99.1 L963.30,111.0 L963.54,120.0 L963.77,111.6 L964.01,115.9 L964.25,128.2 L964.49,132.6 L964.73,132.6 L964.96,128.2 L965.20,130.6 M967.90,132.4 L968.17,135.3 L968.43,138.2 L968.70,136.4 L968.97,142.1 L969.23,145.2 L969.50,152.6 L969.76,144.8 L970.01,151.7 L970.27,162.2 L970.53,158.2 L970.79,173.7 L971.04,177.0 L971.30,169.7 M973.70,163.6 L973.96,165.2 L974.21,164.2 L974.47,171.4 L974.73,165.7 L974.99,171.4 L975.24,166.8 L975.50,172.0 L975.76,171.4 L976.01,165.7 L976.27,159.6 L976.52,166.3 L976.78,159.4 L977.03,159.4 L977.29,160.4 L977.54,165.6 L977.80,157.5 L978.05,167.1 L978.29,166.4 L978.54,167.9 L978.78,164.5 L979.03,172.5 L979.27,172.3 L979.52,178.2 L979.76,174.2 L980.01,180.6 L980.25,181.3 L980.50,168.5 L980.70,191.4 L980.90,192.2 L981.14,198.6 L981.38,200.4 L981.62,200.5 L981.86,201.0 L982.10,210.6 M982.40,238.7 L982.65,245.0 L982.90,249.7 L983.15,239.7 L983.40,245.1 L983.65,234.4 L983.90,250.3 M985.10,216.7 L985.36,225.1 L985.62,217.4 L985.88,219.6 L986.14,208.5 L986.40,202.0 L986.65,203.8 L986.91,207.6 L987.16,208.6 L987.42,217.6 L987.67,226.7 L987.93,220.1 L988.18,221.6 L988.44,217.0 L988.69,229.0 L988.95,224.8 L989.20,232.6 L989.43,229.1 L989.67,224.2 L989.90,206.1 L990.13,213.4 L990.37,207.9 L990.60,208.1 L990.90,210.4 L991.20,198.3 L991.45,184.5 L991.70,189.6 L991.95,196.2 L992.20,183.6 L992.45,176.4 L992.70,175.8 L992.95,176.4 L993.20,180.9 L993.45,180.9 L993.70,181.5 L993.95,180.0 L994.20,170.4 L994.45,173.0 L994.70,164.2 L994.95,165.1 L995.20,176.4 L995.45,164.2 L995.70,163.6 L995.93,164.2 L996.15,153.2 L996.38,163.9 L996.60,170.9 L996.87,170.3 L997.13,169.3 L997.40,166.1 L997.67,164.9 L997.93,159.0 L998.20,152.6 L998.44,140.9 L998.68,142.5 L998.92,140.9 L999.16,141.9 L999.40,140.3 L999.65,145.9 L999.90,140.7 L1000.15,141.3 L1000.40,144.1 L1000.65,139.7 L1000.90,141.0 L1001.15,132.4 L1001.40,132.4 L1001.65,132.7 L1001.90,131.8 L1002.14,134.6 L1002.38,132.4 L1002.62,132.4 L1002.86,141.0 L1003.10,141.6 L1003.34,138.0 L1003.58,132.4 L1003.81,132.4 L1004.05,132.4 L1004.29,141.6 L1004.52,141.6 L1004.76,141.6 L1005.00,141.0 L1005.26,146.8 L1005.52,159.3 L1005.79,159.3 L1006.05,159.3 L1006.31,155.0 L1006.58,155.3 L1006.84,156.3 L1007.10,159.9 L1007.36,159.3 L1007.62,150.4 L1007.89,143.4 L1008.15,145.8 L1008.41,143.4 L1008.68,143.4 L1008.94,143.7 L1009.20,142.8 L1009.46,142.2 L1009.73,133.7 L1009.99,132.4 L1010.25,129.9 L1010.51,130.3 L1010.77,129.9 L1011.04,134.1 L1011.30,129.3 L1011.54,129.9 L1011.78,139.7 L1012.02,142.3 L1012.26,143.4 L1012.50,144.0 L1012.74,145.1 L1012.98,142.8 L1013.22,140.2 L1013.46,130.6 L1013.70,132.4 L1013.94,133.0 L1014.18,135.6 L1014.42,149.9 L1014.66,153.2 L1014.90,153.8 L1015.14,147.3 L1015.39,142.4 L1015.63,133.0 L1015.88,134.6 L1016.12,137.3 L1016.37,137.3 L1016.61,143.3 L1016.86,142.8 L1017.10,136.7 L1017.35,142.6 L1017.60,143.2 L1017.85,144.6 L1018.10,145.2 L1018.34,144.6 L1018.59,144.6 L1018.83,144.6 L1019.07,142.9 L1019.31,142.6 L1019.56,136.1 L1019.80,135.5 L1020.03,136.1 L1020.27,147.7 L1020.50,148.1 L1020.73,154.4 L1020.97,154.4 L1021.20,155.0 L1021.46,147.7 L1021.73,145.8 L1021.99,143.0 L1022.25,135.4 L1022.51,135.4 L1022.77,135.4 L1023.04,135.4 L1023.30,134.8 L1023.56,135.4 L1023.81,135.4 L1024.07,139.7 L1024.33,141.0 L1024.59,136.0 L1024.84,135.4 L1025.10,141.6 L1025.34,141.0 L1025.58,141.0 L1025.82,138.7 L1026.06,133.0 L1026.30,133.0 L1026.54,133.0 L1026.78,136.9 L1027.02,137.7 L1027.26,133.0 L1027.50,132.4 L1027.76,133.1 L1028.02,144.6 L1028.28,151.5 L1028.53,145.8 L1028.79,141.4 L1029.05,149.5 L1029.31,154.4 L1029.57,154.4 L1029.82,154.4 L1030.08,154.4 L1030.34,150.3 L1030.60,155.0 L1030.86,137.3 L1031.11,137.3 L1031.37,137.3 L1031.63,137.3 L1031.89,137.3 L1032.14,140.2 L1032.40,136.7 L1032.65,133.8 L1032.90,124.6 L1033.15,123.0 L1033.40,123.0 L1033.65,124.1 L1033.90,123.0 L1034.15,123.0 L1034.40,123.0 L1034.65,123.0 L1034.90,122.4 L1035.14,123.6 L1035.38,123.0 L1035.62,123.0 L1035.87,123.0 L1036.11,123.0 L1036.35,123.0 L1036.59,128.5 L1036.83,126.7 L1037.08,137.4 L1037.32,128.7 L1037.56,127.9 L1037.80,138.0 L1038.05,137.4 L1038.31,137.4 L1038.56,137.4 L1038.82,135.0 L1039.07,134.9 L1039.32,136.5 L1039.58,137.4 L1039.83,135.6 L1040.08,136.4 L1040.34,134.4 L1040.59,133.5 L1040.85,117.5 L1041.10,116.6 L1041.36,117.2 L1041.62,118.7 L1041.89,124.8 L1042.15,132.3 L1042.41,128.7 L1042.67,130.6 L1042.94,138.0 L1043.20,140.8 L1043.45,137.5 L1043.70,135.6 L1043.95,133.6 L1044.20,126.2 L1044.45,125.1 L1044.70,124.5 L1044.95,125.1 L1045.19,128.3 L1045.44,125.1 L1045.68,131.1 L1045.93,139.0 L1046.17,146.6 L1046.42,142.5 L1046.66,139.7 L1046.91,135.0 L1047.15,142.6 L1047.40,147.2 L1047.65,147.8 L1047.90,147.8 L1048.15,159.0 L1048.40,158.9 L1048.66,162.6 L1048.91,168.5 L1049.17,165.6 L1049.43,166.8 L1049.69,174.9 L1049.94,176.7 L1050.20,180.8 L1050.45,175.1 L1050.70,180.2 L1050.95,176.0 L1051.20,171.8 L1051.45,162.0 L1051.70,164.2 L1051.95,158.1 L1052.20,157.7 L1052.45,157.7 L1052.70,157.1 L1052.94,157.7 L1053.17,157.7 L1053.41,164.4 L1053.65,163.4 L1053.89,176.8 L1054.12,178.0 L1054.36,188.9 L1054.60,189.5 L1054.85,178.2 L1055.10,184.6 L1055.35,186.7 L1055.60,184.0 M1063.20,276.8 L1063.44,282.4 L1063.69,282.6 L1063.93,269.3 L1064.18,273.7 L1064.42,264.7 L1064.67,261.3 L1064.91,253.3 L1065.16,246.9 L1065.40,242.0 L1065.68,240.6 L1065.95,242.4 L1066.22,247.4 L1066.50,259.4 M1067.50,222.5 L1067.78,224.3 L1068.05,209.6 L1068.32,201.7 L1068.60,200.0 L1068.85,207.7 L1069.10,208.7 L1069.35,207.9 L1069.60,203.7 L1069.85,199.4 L1070.10,199.4 L1070.35,199.4 L1070.60,194.2 L1070.85,190.2 L1071.10,180.9 L1071.34,175.5 L1071.58,171.8 L1071.82,168.1 L1072.06,165.6 L1072.30,163.8 L1072.57,164.4 L1072.83,167.3 L1073.10,175.5 L1073.37,177.2 L1073.63,177.2 L1073.90,177.8 L1074.16,170.3 L1074.43,163.4 L1074.69,163.1 L1074.95,156.4 L1075.21,150.3 L1075.47,154.7 L1075.74,152.7 L1076.00,140.6 L1076.26,146.5 L1076.51,161.5 L1076.77,168.7 L1077.03,166.8 L1077.29,175.5 L1077.54,174.3 L1077.80,171.1 L1078.04,176.9 L1078.28,190.1 L1078.52,190.7 L1078.76,190.7 L1079.00,191.3 L1079.26,190.7 L1079.51,187.0 L1079.77,187.3 L1080.03,178.5 L1080.29,173.4 L1080.54,167.5 L1080.80,163.8 L1081.05,152.6 L1081.30,157.9 L1081.55,160.1 L1081.80,154.5 L1082.05,144.0 L1082.30,148.4 L1082.55,143.4 L1082.80,144.1 L1083.05,147.9 L1083.30,141.8 L1083.56,141.2 L1083.81,141.2 L1084.07,141.2 L1084.33,141.2 L1084.59,141.2 L1084.84,127.8 L1085.10,127.1 L1085.35,126.5 L1085.60,121.4 L1085.85,128.3 L1086.10,116.7 L1086.34,127.2 L1086.58,127.2 L1086.82,126.3 L1087.06,124.5 L1087.30,132.0 L1087.55,131.4 L1087.80,119.6 L1088.05,122.3 L1088.30,126.5 L1088.55,129.8 L1088.80,118.6 L1089.06,123.9 L1089.31,130.0 L1089.57,124.5 L1089.83,120.5 L1090.09,139.7 L1090.34,138.9 L1090.60,139.3 M1091.80,176.0 L1092.06,175.4 L1092.32,175.4 L1092.58,175.4 L1092.83,173.2 L1093.09,175.1 L1093.35,169.8 L1093.61,165.6 L1093.87,158.9 L1094.12,152.6 L1094.38,155.3 L1094.64,143.6 L1094.90,143.0 M1097.30,140.6 L1097.54,137.8 L1097.79,140.0 L1098.03,140.0 L1098.28,140.0 L1098.52,134.4 L1098.77,128.9 L1099.01,124.7 L1099.26,124.7 L1099.50,124.1 L1099.74,124.7 L1099.98,140.6 L1100.22,153.3 L1100.46,153.4 L1100.70,153.4 L1100.94,153.4 L1101.18,153.4 L1101.42,153.4 L1101.66,153.4 L1101.90,154.0 L1102.14,150.4 L1102.39,150.6 L1102.63,147.1 L1102.87,145.4 L1103.11,141.6 L1103.36,134.4 L1103.60,137.8 L1103.84,143.8 L1104.09,137.8 L1104.33,139.5 L1104.57,128.1 L1104.81,133.0 L1105.06,123.4 L1105.30,119.8 L1105.56,127.4 L1105.81,124.8 L1106.07,126.1 L1106.33,134.0 L1106.59,131.1 L1106.84,134.4 L1107.10,143.0 L1107.34,142.4 L1107.57,138.5 L1107.81,135.4 L1108.05,133.2 L1108.29,132.9 L1108.53,136.8 L1108.76,125.6 L1109.00,124.7 L1109.24,124.6 L1109.48,124.1 L1109.72,122.0 L1109.96,114.3 L1110.20,119.0 L1110.44,117.2 L1110.68,123.3 L1110.92,121.6 L1111.16,115.6 L1111.40,113.7 L1111.68,113.1 L1111.95,112.4 L1112.22,106.4 L1112.50,100.0 L1112.80,94.5 L1113.06,99.2 L1113.32,100.8 L1113.58,99.7 L1113.83,99.4 L1114.09,99.4 L1114.35,92.0 L1114.61,93.1 L1114.87,93.9 L1115.12,100.0 L1115.38,100.0 L1115.64,92.0 L1115.90,91.4 L1116.14,93.3 L1116.38,92.0 L1116.62,93.4 L1116.86,94.1 L1117.10,100.6 L1117.36,90.2 L1117.61,88.8 L1117.87,87.6 L1118.13,84.0 L1118.39,85.0 L1118.64,77.9 L1118.90,83.5 L1119.16,77.9 L1119.42,77.9 L1119.68,81.1 L1119.94,77.9 L1120.20,77.3 L1120.44,74.9 L1120.68,76.8 L1120.92,82.9 L1121.16,76.7 L1121.40,74.9 L1121.64,75.8 L1121.88,75.4 L1122.12,74.9 L1122.36,78.4 L1122.60,74.3 L1122.87,82.6 L1123.13,89.0 L1123.40,89.0 L1123.67,89.0 L1123.93,89.0 L1124.20,89.6 L1124.46,85.0 L1124.72,81.4 L1124.99,85.1 L1125.25,79.8 L1125.51,76.3 L1125.78,74.0 L1126.04,71.2 L1126.30,70.6 L1126.55,69.4 L1126.80,69.4 L1127.05,70.0 L1127.30,70.0 L1127.55,70.0 L1127.80,70.0 L1128.05,70.0 L1128.30,70.0 L1128.55,74.8 L1128.80,71.8 L1129.05,69.4 L1129.30,68.8 L1129.56,71.5 L1129.82,85.7 L1130.08,87.1 L1130.34,89.8 L1130.60,90.4 L1130.84,89.8 L1131.09,89.8 L1131.33,85.7 L1131.58,78.6 L1131.82,73.6 L1132.07,65.8 L1132.31,64.5 L1132.56,68.6 L1132.80,63.9 L1133.04,67.8 L1133.28,64.5 L1133.52,72.6 L1133.76,74.8 L1134.00,78.6 L1134.25,76.7 L1134.50,76.1 L1134.75,76.4 L1135.00,78.0 L1135.25,71.9 L1135.50,64.5 L1135.74,65.1 L1135.98,65.1 L1136.22,65.1 L1136.46,65.1 L1136.70,65.1 L1136.94,65.1 L1137.18,75.4 L1137.42,67.0 L1137.66,75.4 L1137.90,68.8 L1138.14,69.4 L1138.38,69.4 L1138.62,69.4 L1138.86,75.2 L1139.10,76.0 L1139.34,76.5 L1139.58,74.8 L1139.82,74.1 L1140.06,73.3 L1140.30,73.7 M1141.50,101.4 L1141.76,100.8 L1142.01,100.8 L1142.27,100.8 L1142.52,100.8 L1142.78,99.5 L1143.03,100.8 L1143.29,93.8 L1143.54,93.7 L1143.80,78.0 L1144.06,78.6 L1144.32,82.5 L1144.58,83.6 L1144.83,83.3 L1145.09,91.5 L1145.35,89.7 L1145.61,86.5 L1145.87,88.1 L1146.12,92.1 L1146.38,97.6 L1146.64,100.8 L1146.90,113.3 L1147.10,93.2 L1147.36,93.1 L1147.61,88.3 L1147.87,100.0 L1148.13,85.5 L1148.39,85.3 L1148.64,85.3 L1148.90,84.7 L1149.20,86.5 L1149.50,92.0 L1149.75,91.4 L1150.00,91.4 L1150.25,91.4 L1150.50,91.4 L1150.75,81.4 L1151.00,82.4 L1151.25,87.3 L1151.50,90.4 L1151.75,91.4 L1152.00,76.1 L1152.24,75.5 L1152.48,75.5 L1152.72,75.5 L1152.96,75.5 L1153.20,74.9 L1153.45,87.0 L1153.71,89.8 L1153.96,87.7 L1154.22,85.5 L1154.47,75.5 L1154.73,86.0 L1154.98,87.9 L1155.24,82.4 L1155.49,88.9 L1155.75,89.3 L1156.00,90.4 L1156.27,89.8 L1156.53,80.9 L1156.80,68.8 L1157.04,66.9 L1157.28,63.9 L1157.51,70.3 L1157.75,66.6 L1157.99,68.8 L1158.22,68.2 L1158.46,68.2 L1158.70,57.8 L1158.96,55.9 L1159.21,55.9 L1159.47,55.9 L1159.73,55.9 L1159.99,55.9 L1160.24,60.8 L1160.50,66.3 L1160.80,62.4 L1161.10,55.3 L1161.35,58.8 L1161.60,52.9 L1161.85,52.9 L1162.10,52.9 L1162.35,52.9 L1162.60,52.9 L1162.85,52.9 L1163.10,52.9 L1163.35,57.2 L1163.60,52.3 L1163.84,57.2 L1164.08,56.9 L1164.32,57.2 L1164.56,57.2 L1164.80,57.8 L1165.06,56.1 L1165.31,51.1 L1165.57,51.1 L1165.83,51.1 L1166.09,51.1 L1166.34,47.9 L1166.60,50.5 L1166.84,52.3 L1167.07,49.9 L1167.31,49.9 L1167.55,49.9 L1167.79,49.9 L1168.03,33.9 L1168.26,38.1 L1168.50,41.9 L1168.74,33.7 L1168.98,41.3 L1169.22,27.6 L1169.46,33.5 L1169.70,29.7 L1169.94,26.9 L1170.18,24.8 L1170.42,23.5 L1170.66,24.1 L1170.90,22.9 L1171.14,26.9 L1171.38,31.6 L1171.62,33.5 L1171.86,31.0 L1172.10,39.4 L1172.34,45.4 L1172.58,37.6 L1172.82,44.4 L1173.06,53.2 L1173.30,54.7 L1173.55,54.1 L1173.80,46.1 L1174.05,53.5 L1174.30,46.6 L1174.55,46.7 L1174.80,40.0 L1175.05,53.3 L1175.30,48.6 L1175.55,51.2 L1175.80,39.4 L1176.04,36.8 L1176.28,38.8 L1176.52,37.8 L1176.76,32.1 L1177.00,38.8 L1177.24,30.6 L1177.48,30.6 L1177.72,30.3 L1177.96,30.3 L1178.20,29.7 L1178.46,32.9 L1178.72,33.3 L1178.98,39.3 L1179.24,40.4 L1179.50,45.6 L1179.74,54.6 L1179.98,56.6 L1180.22,57.4 L1180.46,53.9 L1180.70,63.9 L1180.95,77.5 L1181.20,88.2 L1181.44,86.9 L1181.67,77.8 L1181.91,75.0 L1182.15,73.6 L1182.39,62.3 L1182.62,58.4 L1182.86,58.4 L1183.10,57.8 L1183.35,52.9 L1183.60,46.2 L1183.85,46.2 L1184.10,46.2 L1184.35,46.2 L1184.60,46.2 L1184.85,46.2 L1185.10,46.2 L1185.35,46.2 L1185.60,45.6 L1185.83,46.2 L1186.07,46.2 L1186.30,46.2 L1186.53,47.6 L1186.77,51.6 L1187.00,65.1 L1187.27,64.5 L1187.53,50.7 L1187.80,47.6 L1188.07,46.6 L1188.33,44.3 L1188.60,43.7 L1188.84,53.3 L1189.07,49.4 L1189.31,52.0 L1189.55,55.5 L1189.79,49.0 L1190.03,49.1 L1190.26,57.7 L1190.50,62.0 L1190.74,54.4 L1190.98,61.4 L1191.22,60.6 L1191.46,59.3 L1191.70,45.6 L1191.96,54.4 L1192.21,51.8 L1192.47,51.1 L1192.73,45.0 L1192.99,40.5 L1193.24,44.9 L1193.50,37.0 L1193.75,38.5 L1194.00,28.8 L1194.25,33.3 L1194.50,31.3 L1194.75,35.1 L1195.00,23.4 L1195.25,25.9 L1195.50,29.6 L1195.75,30.1 L1196.00,28.0 M1196.00,69.6 L1196.27,79.8 L1196.53,71.8 L1196.80,89.4 L1197.05,93.6 L1197.30,99.3 L1197.55,114.6 L1197.80,109.3 L1198.05,109.9 L1198.30,120.4 L1198.55,126.4 L1198.80,130.8" fill="none" stroke="#17375E" stroke-width="2.35" stroke-linejoin="miter" stroke-miterlimit="3" stroke-linecap="butt"/>
</g></g>
<g filter="url(#sh)" fill="none" stroke="#2A616E" stroke-width="2" stroke-linecap="round" stroke-linejoin="miter">
<path d="M1261.7,37.3 L1207,58.1"/>
<path d="M1214.2,51.2 L1206.4,58.4 L1216.8,60.3"/>
</g>
<g font-size="14" font-style="italic" fill="#000">
<text x="1222" y="80.9" textLength="39.8" lengthAdjust="spacingAndGlyphs">5/8/20</text>
<text x="1222" y="98.8" textLength="56.4" lengthAdjust="spacingAndGlyphs">S&amp;P 2930</text>
</g>
<rect x="424" y="709.5" width="28" height="2" fill="#17375E"/>
<text x="454.5" y="716.8" font-size="18" font-weight="bold" fill="#000" textLength="433.5" lengthAdjust="spacingAndGlyphs">Hussman Margin-Adjusted P/E (MAPE) - log scale</text>
</svg>
</body></html>
